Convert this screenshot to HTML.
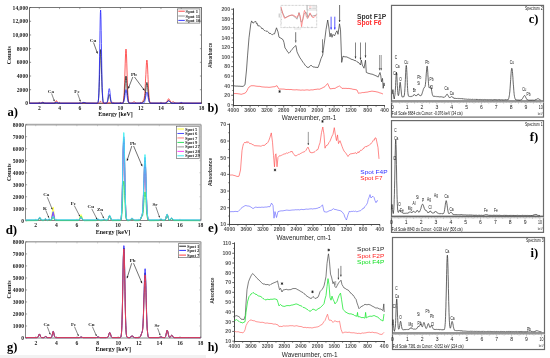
<!DOCTYPE html>
<html><head><meta charset="utf-8"><style>
html,body{margin:0;padding:0;background:#fff;}
body{width:550px;height:358px;overflow:hidden;font-family:"Liberation Sans",sans-serif;}
svg{display:block;will-change:transform;}
</style></head><body>
<svg width="550" height="358" viewBox="0 0 550 358">
<rect width="550" height="358" fill="#fff"/>
<rect x="0" y="355" width="206" height="3" fill="#f2f2f2"/>
<line x1="29.5" y1="7.5" x2="29.5" y2="103.5" stroke="#444" stroke-width="0.8" />
<line x1="29.5" y1="103.5" x2="201.5" y2="103.5" stroke="#444" stroke-width="0.8" />
<line x1="29.5" y1="7.5" x2="201.5" y2="7.5" stroke="#666" stroke-width="0.9" />
<line x1="201.5" y1="7.5" x2="201.5" y2="103.5" stroke="#666" stroke-width="0.9" />
<line x1="29.5" y1="103.4" x2="31.1" y2="103.4" stroke="#444" stroke-width="0.6" />
<line x1="201.5" y1="103.4" x2="199.9" y2="103.4" stroke="#666" stroke-width="0.6" />
<text x="28" y="105.3" font-family="&quot;Liberation Serif&quot;, serif" font-size="5.6" font-weight="bold" text-anchor="end" fill="#222" >0</text>
<line x1="29.5" y1="89.71" x2="31.1" y2="89.71" stroke="#444" stroke-width="0.6" />
<line x1="201.5" y1="89.71" x2="199.9" y2="89.71" stroke="#666" stroke-width="0.6" />
<text x="28" y="91.61" font-family="&quot;Liberation Serif&quot;, serif" font-size="5.6" font-weight="bold" text-anchor="end" fill="#222" >2000</text>
<line x1="29.5" y1="76.03" x2="31.1" y2="76.03" stroke="#444" stroke-width="0.6" />
<line x1="201.5" y1="76.03" x2="199.9" y2="76.03" stroke="#666" stroke-width="0.6" />
<text x="28" y="77.93" font-family="&quot;Liberation Serif&quot;, serif" font-size="5.6" font-weight="bold" text-anchor="end" fill="#222" >4000</text>
<line x1="29.5" y1="62.34" x2="31.1" y2="62.34" stroke="#444" stroke-width="0.6" />
<line x1="201.5" y1="62.34" x2="199.9" y2="62.34" stroke="#666" stroke-width="0.6" />
<text x="28" y="64.24" font-family="&quot;Liberation Serif&quot;, serif" font-size="5.6" font-weight="bold" text-anchor="end" fill="#222" >6000</text>
<line x1="29.5" y1="48.66" x2="31.1" y2="48.66" stroke="#444" stroke-width="0.6" />
<line x1="201.5" y1="48.66" x2="199.9" y2="48.66" stroke="#666" stroke-width="0.6" />
<text x="28" y="50.56" font-family="&quot;Liberation Serif&quot;, serif" font-size="5.6" font-weight="bold" text-anchor="end" fill="#222" >8000</text>
<line x1="29.5" y1="34.97" x2="31.1" y2="34.97" stroke="#444" stroke-width="0.6" />
<line x1="201.5" y1="34.97" x2="199.9" y2="34.97" stroke="#666" stroke-width="0.6" />
<text x="28" y="36.87" font-family="&quot;Liberation Serif&quot;, serif" font-size="5.6" font-weight="bold" text-anchor="end" fill="#222" >10,000</text>
<line x1="29.5" y1="21.29" x2="31.1" y2="21.29" stroke="#444" stroke-width="0.6" />
<line x1="201.5" y1="21.29" x2="199.9" y2="21.29" stroke="#666" stroke-width="0.6" />
<text x="28" y="23.19" font-family="&quot;Liberation Serif&quot;, serif" font-size="5.6" font-weight="bold" text-anchor="end" fill="#222" >12,000</text>
<line x1="29.5" y1="7.6" x2="31.1" y2="7.6" stroke="#444" stroke-width="0.6" />
<line x1="201.5" y1="7.6" x2="199.9" y2="7.6" stroke="#666" stroke-width="0.6" />
<text x="28" y="9.5" font-family="&quot;Liberation Serif&quot;, serif" font-size="5.6" font-weight="bold" text-anchor="end" fill="#222" >14,000</text>
<line x1="39.28" y1="103.5" x2="39.28" y2="101.9" stroke="#444" stroke-width="0.6" />
<line x1="39.28" y1="7.5" x2="39.28" y2="9.1" stroke="#666" stroke-width="0.6" />
<text x="39.28" y="110.3" font-family="&quot;Liberation Serif&quot;, serif" font-size="5.6" font-weight="bold" text-anchor="middle" fill="#222" >2</text>
<line x1="59.56" y1="103.5" x2="59.56" y2="101.9" stroke="#444" stroke-width="0.6" />
<line x1="59.56" y1="7.5" x2="59.56" y2="9.1" stroke="#666" stroke-width="0.6" />
<text x="59.56" y="110.3" font-family="&quot;Liberation Serif&quot;, serif" font-size="5.6" font-weight="bold" text-anchor="middle" fill="#222" >4</text>
<line x1="79.84" y1="103.5" x2="79.84" y2="101.9" stroke="#444" stroke-width="0.6" />
<line x1="79.84" y1="7.5" x2="79.84" y2="9.1" stroke="#666" stroke-width="0.6" />
<text x="79.84" y="110.3" font-family="&quot;Liberation Serif&quot;, serif" font-size="5.6" font-weight="bold" text-anchor="middle" fill="#222" >6</text>
<line x1="100.12" y1="103.5" x2="100.12" y2="101.9" stroke="#444" stroke-width="0.6" />
<line x1="100.12" y1="7.5" x2="100.12" y2="9.1" stroke="#666" stroke-width="0.6" />
<text x="100.12" y="110.3" font-family="&quot;Liberation Serif&quot;, serif" font-size="5.6" font-weight="bold" text-anchor="middle" fill="#222" >8</text>
<line x1="120.4" y1="103.5" x2="120.4" y2="101.9" stroke="#444" stroke-width="0.6" />
<line x1="120.4" y1="7.5" x2="120.4" y2="9.1" stroke="#666" stroke-width="0.6" />
<text x="120.4" y="110.3" font-family="&quot;Liberation Serif&quot;, serif" font-size="5.6" font-weight="bold" text-anchor="middle" fill="#222" >10</text>
<line x1="140.68" y1="103.5" x2="140.68" y2="101.9" stroke="#444" stroke-width="0.6" />
<line x1="140.68" y1="7.5" x2="140.68" y2="9.1" stroke="#666" stroke-width="0.6" />
<text x="140.68" y="110.3" font-family="&quot;Liberation Serif&quot;, serif" font-size="5.6" font-weight="bold" text-anchor="middle" fill="#222" >12</text>
<line x1="160.96" y1="103.5" x2="160.96" y2="101.9" stroke="#444" stroke-width="0.6" />
<line x1="160.96" y1="7.5" x2="160.96" y2="9.1" stroke="#666" stroke-width="0.6" />
<text x="160.96" y="110.3" font-family="&quot;Liberation Serif&quot;, serif" font-size="5.6" font-weight="bold" text-anchor="middle" fill="#222" >14</text>
<line x1="181.24" y1="103.5" x2="181.24" y2="101.9" stroke="#444" stroke-width="0.6" />
<line x1="181.24" y1="7.5" x2="181.24" y2="9.1" stroke="#666" stroke-width="0.6" />
<text x="181.24" y="110.3" font-family="&quot;Liberation Serif&quot;, serif" font-size="5.6" font-weight="bold" text-anchor="middle" fill="#222" >16</text>
<line x1="201.52" y1="103.5" x2="201.52" y2="101.9" stroke="#444" stroke-width="0.6" />
<line x1="201.52" y1="7.5" x2="201.52" y2="9.1" stroke="#666" stroke-width="0.6" />
<text x="201.52" y="110.3" font-family="&quot;Liberation Serif&quot;, serif" font-size="5.6" font-weight="bold" text-anchor="middle" fill="#222" >18</text>
<path d="M29.6,103.1 40.4,103.1 41.2,102.9 42.4,102.2 43,102.2 44.5,103 45.7,103.1 53.8,103.1 54.4,102.9 54.8,102.6 55.4,101.8 56,101 56.2,100.8 56.4,100.7 56.6,100.8 57,101.2 57.8,102.4 58.2,102.8 58.9,103.1 62.7,103.1 81.8,103.1 83.8,102.7 85,102.9 86.6,103.1 98.2,103.1 98.8,102.9 99.4,102.4 100.2,101.6 100.6,101.4 101,101.6 102.2,102.8 102.9,103 105.1,103.1 107.5,103 109.1,102.6 110.6,102.7 112,102.3 112.6,102.4 114,103 115.6,103.1 122.1,103.1 122.5,103 122.7,102.8 122.9,102.5 123.1,102.1 123.3,101.3 123.5,100.1 123.7,98.3 123.9,95.8 124.2,92.4 124.4,88.1 124.6,82.8 124.8,76.8 125.2,63.9 125.4,58 125.6,53.2 125.8,50.1 126,49.1 126.2,50.1 126.4,53.2 126.6,58 126.8,63.9 127.2,76.8 127.4,82.8 127.6,88.1 127.8,92.4 128,95.8 128.2,98.3 128.4,100.1 128.6,101.3 128.8,102.1 129,102.5 129.2,102.8 129.6,103 131,103.1 132.1,102.9 132.9,102.5 133.7,101.9 134.1,101.8 134.7,102 135.9,102.9 136.7,103.1 140.8,103.1 141.4,102.9 142,102.5 142.6,101.6 143.8,99.4 144,98.8 144.2,98.1 144.4,97 144.6,95.5 144.8,93.4 145,90.6 145.2,87.3 145.4,83.3 145.6,78.9 145.9,74.3 146.1,69.8 146.3,65.9 146.5,62.7 146.7,60.7 146.9,60 147.1,60.7 147.3,62.8 147.5,66 147.7,70 147.9,74.6 148.1,79.3 148.3,83.9 148.5,88.2 148.7,91.8 148.9,94.9 149.1,97.3 149.3,99.1 149.5,100.5 149.7,101.4 149.9,102.1 150.1,102.5 150.3,102.8 150.7,103 152.1,103.1 164.9,103.1 165.7,102.9 166.3,102.4 166.7,101.9 167.3,100.7 168,99.5 168.4,98.9 168.6,98.8 168.8,98.8 169,98.9 169.4,99.5 170.4,101.5 170.8,102.1 171.2,102.4 171.6,102.4 172.4,102 173,101.8 173.4,101.8 174.2,102.4 175.1,102.9 176.1,103.1 201.2,103.1" fill="none" stroke="#ff3030" stroke-width="0.8" stroke-linejoin="round" />
<path d="M29.6,103.2 40.6,103.1 41.6,102.9 42.6,102.5 43.2,102.6 44.5,103.1 46.1,103.2 54.2,103.1 55,102.9 56,102.3 56.6,102.2 57.4,102.6 58.2,103.1 59.5,103.2 81.6,103.2 83,102.8 83.8,102.7 84.6,102.8 86,103.1 95.2,103.2 97.2,103.2 97.6,103 97.8,102.8 98,102.4 98.2,101.7 98.4,100.5 98.6,98.7 98.8,95.9 99,92.2 99.2,87.2 99.4,81.2 99.6,74.3 99.8,67.1 100,60.3 100.2,54.7 100.4,50.9 100.6,49.6 100.8,50.9 101,54.7 101.2,60.3 101.4,67.1 101.6,74.3 101.8,81.2 102,87.2 102.2,92.2 102.5,95.9 102.7,98.7 102.9,100.5 103.1,101.7 103.3,102.4 103.5,102.8 103.7,103 104.3,103.2 106.3,103.1 106.7,103 107.1,102.6 107.3,102.3 107.5,101.7 107.7,101 107.9,100.1 108.3,97.9 108.5,96.8 108.7,95.7 108.9,95 109.1,94.6 109.3,94.6 109.6,95 109.8,95.7 110,96.8 110.4,99.1 110.6,100.1 110.8,101 111,101.7 111.2,102.3 111.4,102.6 111.8,103 112.6,103.2 122.3,103.2 122.7,103 123.1,102.7 123.3,102.3 123.5,101.7 123.7,100.8 123.9,99.5 124.2,97.8 124.4,95.6 124.6,93 124.8,89.9 125.2,83.4 125.4,80.4 125.6,78.1 125.8,76.5 126,76 126.2,76.5 126.4,78.1 126.6,80.4 126.8,83.4 127.2,89.9 127.4,93 127.6,95.6 127.8,97.8 128,99.5 128.2,100.8 128.4,101.7 128.6,102.3 128.8,102.7 129.2,103 130,103.2 141,103.2 141.8,103 142.6,102.4 143.8,101.3 144,101.1 144.2,100.7 144.4,100.2 144.6,99.5 144.8,98.5 145,97.2 145.2,95.6 145.4,93.6 146.1,87.2 146.3,85.3 146.5,83.8 146.7,82.8 146.9,82.4 147.1,82.8 147.3,83.8 147.5,85.3 147.7,87.3 148.3,94 148.5,96 148.7,97.8 148.9,99.2 149.1,100.4 149.3,101.3 149.5,101.9 149.7,102.4 149.9,102.7 150.3,103 151.1,103.2 165.1,103.2 165.9,103 166.5,102.6 167.1,102 168,101 168.4,100.7 168.8,100.6 169.2,100.8 170,101.7 170.6,102.5 171.2,102.9 172,103.1 182.2,103.2 201.2,103.2" fill="none" stroke="#222" stroke-width="0.8" stroke-linejoin="round" />
<path d="M29.6,103.2 40.6,103.2 41.8,102.9 42.6,102.7 43.4,102.8 44.7,103.1 53.4,103.2 54.8,103.1 56.2,102.5 56.8,102.6 58.2,103.1 60.5,103.2 81.4,103.2 82.4,102.9 83.6,102.4 84.2,102.4 85.8,103.1 87.4,103.2 97.2,103.2 97.6,103 97.8,102.8 98,102.3 98.2,101.5 98.4,99.9 98.6,97.4 98.8,93.3 99,87.4 99.2,79.2 99.4,68.8 99.6,56.6 99.8,43.4 100,30.7 100.2,19.9 100.4,12.7 100.6,10.1 100.8,12.7 101,19.9 101.2,30.7 101.4,43.4 101.6,56.6 101.8,68.8 102,79.2 102.2,87.4 102.5,93.3 102.7,97.4 102.9,99.9 103.1,101.5 103.3,102.3 103.5,102.8 103.7,103 104.3,103.2 106.1,103.2 106.5,103 106.7,102.9 106.9,102.6 107.1,102.2 107.3,101.6 107.5,100.7 107.7,99.6 107.9,98.1 108.1,96.3 108.5,92.4 108.7,90.7 108.9,89.4 109.1,88.7 109.3,88.7 109.6,89.4 109.8,90.7 110,92.4 110.4,96.3 110.6,98.1 110.8,99.6 111,100.7 111.2,101.6 111.4,102.2 111.6,102.6 111.8,102.9 112.2,103.1 114.2,103.2 122.5,103.2 123.1,102.9 123.3,102.7 123.5,102.4 123.7,102 123.9,101.4 124.2,100.5 124.4,99.4 124.6,98.1 124.8,96.6 125.2,93.4 125.4,91.9 125.6,90.7 125.8,89.9 126,89.6 126.2,89.9 126.4,90.7 126.6,91.9 126.8,93.4 127.2,96.6 127.4,98.1 127.6,99.4 127.8,100.5 128,101.4 128.2,102 128.4,102.4 128.6,102.7 129,103 129.8,103.2 143.2,103.1 143.8,102.9 144.2,102.5 144.4,102.2 144.6,101.7 144.8,101.1 145,100.3 145.2,99.3 145.6,97.1 146.1,94.7 146.3,93.6 146.5,92.8 146.7,92.3 146.9,92.1 147.1,92.3 147.3,92.8 147.5,93.6 147.7,94.7 148.3,98.3 148.5,99.3 148.7,100.3 148.9,101.1 149.1,101.7 149.3,102.2 149.5,102.5 149.9,102.9 150.5,103.1 164.9,103.2 165.9,103 166.5,102.7 167.3,101.9 168.2,101.1 168.6,100.9 169,101 169.6,101.5 170.6,102.5 171.2,102.9 172.2,103.2 178.9,103.2 180.3,102.8 181.1,102.7 181.9,102.8 183.4,103.1 192.5,103.2 201.2,103.2" fill="none" stroke="#2525ff" stroke-width="0.8" stroke-linejoin="round" />
<text x="50.9" y="92.6" font-family="&quot;Liberation Serif&quot;, serif" font-size="5" font-weight="bold" text-anchor="middle" fill="#222" >Ca</text>
<line x1="51.6" y1="93.5" x2="54.4" y2="101.2" stroke="#111" stroke-width="0.5" />
<path d="M54.4,101.2 L53.2,99.94 L54.51,99.46 Z" fill="#111"/>
<text x="77" y="92.6" font-family="&quot;Liberation Serif&quot;, serif" font-size="5" font-weight="bold" text-anchor="middle" fill="#222" >Fe</text>
<line x1="77.6" y1="93.5" x2="80.4" y2="101.4" stroke="#111" stroke-width="0.5" />
<path d="M80.4,101.4 L79.21,100.13 L80.53,99.66 Z" fill="#111"/>
<text x="93" y="41.5" font-family="&quot;Liberation Serif&quot;, serif" font-size="5" font-weight="bold" text-anchor="middle" fill="#222" >Cu</text>
<line x1="93.5" y1="42.5" x2="97.5" y2="53.5" stroke="#111" stroke-width="0.6" />
<path d="M97.5,53.5 L95.97,51.93 L97.66,51.31 Z" fill="#111"/>
<text x="133.8" y="75.8" font-family="&quot;Liberation Serif&quot;, serif" font-size="5" font-weight="bold" text-anchor="middle" fill="#222" >Pb</text>
<line x1="132.8" y1="77" x2="128.3" y2="88.5" stroke="#111" stroke-width="0.6" />
<path d="M128.3,88.5 L128.19,86.31 L129.87,86.97 Z" fill="#111"/>
<line x1="134.5" y1="77" x2="144.5" y2="90.5" stroke="#111" stroke-width="0.6" />
<path d="M144.5,90.5 L142.59,89.43 L144.03,88.36 Z" fill="#111"/>
<rect x="177.3" y="8.9" width="22.6" height="14.2" fill="#fff" stroke="#555" stroke-width="0.6" />
<line x1="178.3" y1="11.2" x2="184.8" y2="11.2" stroke="#ff3030" stroke-width="0.9" />
<text x="185.6" y="12.8" font-family="&quot;Liberation Serif&quot;, serif" font-size="4.6" font-weight="bold" text-anchor="start" fill="#222" >Spot 1</text>
<line x1="178.3" y1="16" x2="184.8" y2="16" stroke="#888" stroke-width="0.9" />
<text x="185.6" y="17.6" font-family="&quot;Liberation Serif&quot;, serif" font-size="4.6" font-weight="bold" text-anchor="start" fill="#222" >Spot 11</text>
<line x1="178.3" y1="20.4" x2="184.8" y2="20.4" stroke="#2525ff" stroke-width="0.9" />
<text x="185.6" y="22" font-family="&quot;Liberation Serif&quot;, serif" font-size="4.6" font-weight="bold" text-anchor="start" fill="#222" >Spot 10</text>
<text x="11.2" y="55.2" font-family="&quot;Liberation Serif&quot;, serif" font-size="6.4" font-weight="bold" text-anchor="middle" fill="#222" textLength="17.9" lengthAdjust="spacingAndGlyphs" transform="rotate(-90 11.2 55.2)">Counts</text>
<text x="115.5" y="116.4" font-family="&quot;Liberation Serif&quot;, serif" font-size="7" font-weight="bold" text-anchor="middle" fill="#111" textLength="34.5" lengthAdjust="spacingAndGlyphs" >Energy [keV]</text>
<text x="7.45" y="115.6" font-family="&quot;Liberation Serif&quot;, serif" font-size="13.3" font-weight="bold" text-anchor="start" fill="#000" textLength="10.5" lengthAdjust="spacingAndGlyphs" >a)</text>
<line x1="25.5" y1="124.6" x2="25.5" y2="220.5" stroke="#666" stroke-width="0.8" />
<line x1="25.5" y1="220.5" x2="201" y2="220.5" stroke="#666" stroke-width="0.8" />
<line x1="25.5" y1="124.6" x2="201" y2="124.6" stroke="#aaa" stroke-width="1.6" />
<line x1="201" y1="124.6" x2="201" y2="220.5" stroke="#aaa" stroke-width="1.6" />
<line x1="25.5" y1="220.8" x2="27.1" y2="220.8" stroke="#666" stroke-width="0.6" />
<line x1="201" y1="220.8" x2="199.4" y2="220.8" stroke="#aaa" stroke-width="0.6" />
<text x="24" y="222.7" font-family="&quot;Liberation Serif&quot;, serif" font-size="5.6" font-weight="bold" text-anchor="end" fill="#222" >0</text>
<line x1="25.5" y1="208.79" x2="27.1" y2="208.79" stroke="#666" stroke-width="0.6" />
<line x1="201" y1="208.79" x2="199.4" y2="208.79" stroke="#aaa" stroke-width="0.6" />
<text x="24" y="210.69" font-family="&quot;Liberation Serif&quot;, serif" font-size="5.6" font-weight="bold" text-anchor="end" fill="#222" >1000</text>
<line x1="25.5" y1="196.78" x2="27.1" y2="196.78" stroke="#666" stroke-width="0.6" />
<line x1="201" y1="196.78" x2="199.4" y2="196.78" stroke="#aaa" stroke-width="0.6" />
<text x="24" y="198.68" font-family="&quot;Liberation Serif&quot;, serif" font-size="5.6" font-weight="bold" text-anchor="end" fill="#222" >2000</text>
<line x1="25.5" y1="184.76" x2="27.1" y2="184.76" stroke="#666" stroke-width="0.6" />
<line x1="201" y1="184.76" x2="199.4" y2="184.76" stroke="#aaa" stroke-width="0.6" />
<text x="24" y="186.66" font-family="&quot;Liberation Serif&quot;, serif" font-size="5.6" font-weight="bold" text-anchor="end" fill="#222" >3000</text>
<line x1="25.5" y1="172.75" x2="27.1" y2="172.75" stroke="#666" stroke-width="0.6" />
<line x1="201" y1="172.75" x2="199.4" y2="172.75" stroke="#aaa" stroke-width="0.6" />
<text x="24" y="174.65" font-family="&quot;Liberation Serif&quot;, serif" font-size="5.6" font-weight="bold" text-anchor="end" fill="#222" >4000</text>
<line x1="25.5" y1="160.74" x2="27.1" y2="160.74" stroke="#666" stroke-width="0.6" />
<line x1="201" y1="160.74" x2="199.4" y2="160.74" stroke="#aaa" stroke-width="0.6" />
<text x="24" y="162.64" font-family="&quot;Liberation Serif&quot;, serif" font-size="5.6" font-weight="bold" text-anchor="end" fill="#222" >5000</text>
<line x1="25.5" y1="148.73" x2="27.1" y2="148.73" stroke="#666" stroke-width="0.6" />
<line x1="201" y1="148.73" x2="199.4" y2="148.73" stroke="#aaa" stroke-width="0.6" />
<text x="24" y="150.63" font-family="&quot;Liberation Serif&quot;, serif" font-size="5.6" font-weight="bold" text-anchor="end" fill="#222" >6000</text>
<line x1="25.5" y1="136.71" x2="27.1" y2="136.71" stroke="#666" stroke-width="0.6" />
<line x1="201" y1="136.71" x2="199.4" y2="136.71" stroke="#aaa" stroke-width="0.6" />
<text x="24" y="138.61" font-family="&quot;Liberation Serif&quot;, serif" font-size="5.6" font-weight="bold" text-anchor="end" fill="#222" >7000</text>
<line x1="25.5" y1="124.7" x2="27.1" y2="124.7" stroke="#666" stroke-width="0.6" />
<line x1="201" y1="124.7" x2="199.4" y2="124.7" stroke="#aaa" stroke-width="0.6" />
<text x="24" y="126.6" font-family="&quot;Liberation Serif&quot;, serif" font-size="5.6" font-weight="bold" text-anchor="end" fill="#222" >8000</text>
<line x1="35.7" y1="220.5" x2="35.7" y2="218.9" stroke="#666" stroke-width="0.6" />
<line x1="35.7" y1="124.6" x2="35.7" y2="126.2" stroke="#aaa" stroke-width="0.6" />
<text x="35.7" y="227.3" font-family="&quot;Liberation Serif&quot;, serif" font-size="5.6" font-weight="bold" text-anchor="middle" fill="#222" >2</text>
<line x1="56.3" y1="220.5" x2="56.3" y2="218.9" stroke="#666" stroke-width="0.6" />
<line x1="56.3" y1="124.6" x2="56.3" y2="126.2" stroke="#aaa" stroke-width="0.6" />
<text x="56.3" y="227.3" font-family="&quot;Liberation Serif&quot;, serif" font-size="5.6" font-weight="bold" text-anchor="middle" fill="#222" >4</text>
<line x1="76.9" y1="220.5" x2="76.9" y2="218.9" stroke="#666" stroke-width="0.6" />
<line x1="76.9" y1="124.6" x2="76.9" y2="126.2" stroke="#aaa" stroke-width="0.6" />
<text x="76.9" y="227.3" font-family="&quot;Liberation Serif&quot;, serif" font-size="5.6" font-weight="bold" text-anchor="middle" fill="#222" >6</text>
<line x1="97.5" y1="220.5" x2="97.5" y2="218.9" stroke="#666" stroke-width="0.6" />
<line x1="97.5" y1="124.6" x2="97.5" y2="126.2" stroke="#aaa" stroke-width="0.6" />
<text x="97.5" y="227.3" font-family="&quot;Liberation Serif&quot;, serif" font-size="5.6" font-weight="bold" text-anchor="middle" fill="#222" >8</text>
<line x1="118.1" y1="220.5" x2="118.1" y2="218.9" stroke="#666" stroke-width="0.6" />
<line x1="118.1" y1="124.6" x2="118.1" y2="126.2" stroke="#aaa" stroke-width="0.6" />
<text x="118.1" y="227.3" font-family="&quot;Liberation Serif&quot;, serif" font-size="5.6" font-weight="bold" text-anchor="middle" fill="#222" >10</text>
<line x1="138.7" y1="220.5" x2="138.7" y2="218.9" stroke="#666" stroke-width="0.6" />
<line x1="138.7" y1="124.6" x2="138.7" y2="126.2" stroke="#aaa" stroke-width="0.6" />
<text x="138.7" y="227.3" font-family="&quot;Liberation Serif&quot;, serif" font-size="5.6" font-weight="bold" text-anchor="middle" fill="#222" >12</text>
<line x1="159.3" y1="220.5" x2="159.3" y2="218.9" stroke="#666" stroke-width="0.6" />
<line x1="159.3" y1="124.6" x2="159.3" y2="126.2" stroke="#aaa" stroke-width="0.6" />
<text x="159.3" y="227.3" font-family="&quot;Liberation Serif&quot;, serif" font-size="5.6" font-weight="bold" text-anchor="middle" fill="#222" >14</text>
<line x1="179.9" y1="220.5" x2="179.9" y2="218.9" stroke="#666" stroke-width="0.6" />
<line x1="179.9" y1="124.6" x2="179.9" y2="126.2" stroke="#aaa" stroke-width="0.6" />
<text x="179.9" y="227.3" font-family="&quot;Liberation Serif&quot;, serif" font-size="5.6" font-weight="bold" text-anchor="middle" fill="#222" >16</text>
<line x1="200.5" y1="220.5" x2="200.5" y2="218.9" stroke="#666" stroke-width="0.6" />
<line x1="200.5" y1="124.6" x2="200.5" y2="126.2" stroke="#aaa" stroke-width="0.6" />
<text x="200.5" y="227.3" font-family="&quot;Liberation Serif&quot;, serif" font-size="5.6" font-weight="bold" text-anchor="middle" fill="#222" >18</text>
<path d="M25.6,220.3 37.3,220.3 38,220.1 38.4,219.7 38.8,219.1 39.4,218 39.6,217.8 39.8,217.7 40,217.8 40.2,218 41.1,219.5 41.5,220 42.1,220.3 43.5,220.3 44.1,220.1 45.2,219.2 45.6,219.1 46,219.4 46.8,220.1 47.4,220.2 48.1,220 48.9,219.4 49.3,219.4 49.9,219.7 50.3,220 50.7,220 50.9,219.8 51.2,219.5 51.4,218.9 51.6,218 51.8,216.8 52,215.2 52.2,213.3 52.4,211.3 52.6,209.5 52.8,208 53,207.2 53.2,207.2 53.4,208 53.6,209.5 53.8,211.3 54,213.3 54.2,215.2 54.4,216.8 54.7,218 54.9,218.9 55.1,219.5 55.3,219.9 55.7,220.2 56.9,220.3 78.1,220.3 78.8,220 79.2,219.5 79.4,219.1 79.6,218.6 80,217.2 80.4,215.7 80.6,215.1 80.8,214.7 81,214.6 81.2,214.7 81.4,215.1 81.6,215.7 82.3,217.9 82.5,218.6 82.7,219.1 82.9,219.5 83.3,220 83.9,220.3 96.1,220.3 96.9,220 97.7,219.5 98.1,219.5 98.7,219.7 99.6,220.2 100.8,220.3 102.4,220.2 103.9,219.6 104.5,219.7 105.7,220.2 106.8,220.3 107.4,220.2 107.8,219.8 108,219.5 108.2,219.1 108.6,218 109,216.8 109.2,216.2 109.4,215.9 109.7,215.8 109.9,215.9 110.1,216.2 110.5,217.4 110.9,218.6 111.1,219.1 111.3,219.5 111.7,220 112.3,220.3 120,220.3 120.4,220.1 120.6,219.9 120.8,219.6 121,218.9 121.2,217.8 121.4,216 121.6,213.3 121.8,209.4 122,204.1 122.2,197.2 122.4,188.8 122.6,179.2 122.8,168.9 123,159 123.2,150.2 123.5,143.8 123.7,140.3 123.9,140.3 124.1,143.8 124.3,150.2 124.5,159 124.7,168.9 124.9,179.2 125.1,188.8 125.3,197.2 125.5,204.1 125.7,209.4 125.9,213.3 126.1,216 126.3,217.8 126.5,218.9 126.8,219.6 127,219.9 127.4,220.2 128.8,220.3 129.8,220.2 130.5,219.9 131.7,218.6 132.1,218.5 132.5,218.8 133.5,219.9 134.2,220.2 135.6,220.3 139.1,220.3 139.7,220 140.1,219.6 140.6,218.8 141.6,216.4 142,215.5 142.2,214.9 142.4,213.9 142.6,212.5 142.8,210.3 143,207.3 143.2,203.2 143.4,198.1 143.6,192.2 143.8,185.7 144.1,179 144.3,172.6 144.5,167.2 144.7,163.2 144.9,161.1 145.1,161.1 145.3,163.2 145.5,167.2 145.7,172.7 145.9,179.1 146.1,186 146.3,192.7 146.5,198.9 146.7,204.3 146.9,208.8 147.1,212.3 147.4,214.9 147.6,216.8 147.8,218.1 148,219 148.2,219.6 148.4,219.9 148.8,220.2 149.8,220.3 158.9,220.3 159.7,220 160.7,219.4 161.2,219.4 162.6,220.2 163.8,220.3 164.7,220.2 165.1,220 165.3,219.7 165.5,219.3 165.7,218.8 165.9,218.2 166.5,215.8 166.7,215.2 166.9,214.7 167.1,214.6 167.3,214.7 167.5,215.2 167.7,215.8 168.4,218.2 168.6,218.8 168.8,219.3 169,219.7 169.2,219.9 169.6,220.1 170,220 170.4,219.7 171.2,218.5 171.5,218.3 171.7,218.3 171.9,218.3 172.3,218.8 172.9,219.7 173.3,220 173.9,220.3 200.3,220.3" fill="none" stroke="#ffff33" stroke-width="0.85" stroke-linejoin="round" />
<path d="M25.6,220.3 37.3,220.3 38,220.1 38.4,219.7 38.8,219.1 39.4,218 39.6,217.8 39.8,217.7 40,217.8 40.2,218 41.1,219.5 41.5,220 42.1,220.3 43.5,220.3 44.1,220.1 45.2,219.2 45.6,219.1 46,219.4 46.8,220.1 47.4,220.2 48.1,220 48.9,219.4 49.3,219.4 49.9,219.7 50.5,220.1 50.9,220.1 51.2,219.9 51.4,219.7 51.6,219.2 51.8,218.6 52,217.9 52.6,215.2 52.8,214.5 53,214.1 53.2,214.1 53.4,214.5 53.6,215.2 54.2,217.9 54.4,218.7 54.7,219.2 54.9,219.7 55.1,219.9 55.5,220.2 56.7,220.3 78.3,220.3 79,220.1 79.4,219.8 80,219 80.6,218.1 80.8,218 81,217.9 81.2,218 81.6,218.4 82.5,219.6 82.9,220 83.5,220.3 87.4,220.3 96.1,220.3 96.9,220 97.7,219.5 98.1,219.5 98.7,219.7 99.6,220.2 100.8,220.3 102.4,220.2 103.9,219.6 104.5,219.7 105.7,220.2 106.8,220.3 107.4,220.2 107.8,219.8 108,219.5 108.2,219.1 108.6,218 109,216.8 109.2,216.2 109.4,215.9 109.7,215.8 109.9,215.9 110.1,216.2 110.5,217.4 110.9,218.6 111.1,219.1 111.3,219.5 111.7,220 112.3,220.3 120,220.3 120.4,220.1 120.6,219.9 120.8,219.6 121,218.9 121.2,217.9 121.4,216.2 121.6,213.5 121.8,209.8 122,204.6 122.2,197.9 122.4,189.7 122.6,180.4 122.8,170.5 123,160.8 123.2,152.3 123.5,146 123.7,142.7 123.9,142.7 124.1,146 124.3,152.3 124.5,160.8 124.7,170.5 124.9,180.4 125.1,189.7 125.3,197.9 125.5,204.6 125.7,209.8 125.9,213.5 126.1,216.2 126.3,217.9 126.5,218.9 126.8,219.6 127,219.9 127.4,220.2 128.8,220.3 129.8,220.2 130.5,219.9 131.7,218.6 132.1,218.5 132.5,218.8 133.5,219.9 134.2,220.2 135.6,220.3 139.1,220.3 139.7,220 140.1,219.6 140.6,218.8 141.6,216.4 142,215.5 142.2,214.9 142.4,214 142.6,212.5 142.8,210.4 143,207.4 143.2,203.4 143.4,198.4 143.6,192.5 143.8,186 144.1,179.4 144.3,173.1 144.5,167.7 144.7,163.8 144.9,161.7 145.1,161.7 145.3,163.8 145.5,167.8 145.7,173.2 145.9,179.6 146.1,186.3 146.3,193 146.5,199.1 146.7,204.4 146.9,208.9 147.1,212.4 147.4,215 147.6,216.9 147.8,218.2 148,219 148.2,219.6 148.4,219.9 148.8,220.2 149.8,220.3 158.9,220.3 159.7,220 160.7,219.4 161.2,219.4 162.6,220.2 163.8,220.3 164.7,220.2 165.1,220 165.3,219.7 165.5,219.3 165.7,218.8 165.9,218.2 166.5,215.8 166.7,215.2 166.9,214.7 167.1,214.6 167.3,214.7 167.5,215.2 167.7,215.8 168.4,218.2 168.6,218.8 168.8,219.3 169,219.7 169.2,219.9 169.6,220.1 170,220 170.4,219.7 171.2,218.5 171.5,218.3 171.7,218.3 171.9,218.3 172.3,218.8 172.9,219.7 173.3,220 173.9,220.3 200.3,220.3" fill="none" stroke="#ff8080" stroke-width="0.85" stroke-linejoin="round" />
<path d="M25.6,220.3 37.3,220.3 38,220.1 38.4,219.7 38.8,219.1 39.4,218 39.6,217.8 39.8,217.7 40,217.8 40.2,218 41.1,219.5 41.5,220 42.1,220.3 43.5,220.3 44.1,220.1 45.2,219.2 45.6,219.1 46,219.4 46.8,220.1 47.4,220.2 48.1,220 48.9,219.4 49.3,219.4 49.9,219.7 50.5,220.1 50.9,220.1 51.4,219.8 51.6,219.5 51.8,219 52,218.5 52.6,216.4 52.8,215.8 53,215.6 53.2,215.6 53.4,215.8 53.6,216.4 54.2,218.5 54.4,219 54.7,219.5 54.9,219.8 55.3,220.2 56.1,220.3 78.3,220.3 79,220.1 79.4,219.8 80,219 80.6,218.1 80.8,218 81,217.9 81.2,218 81.6,218.4 82.5,219.6 82.9,220 83.5,220.3 87.4,220.3 96.1,220.3 96.9,220 97.7,219.5 98.1,219.5 98.7,219.7 99.6,220.2 100.8,220.3 102.4,220.2 103.9,219.6 104.5,219.7 105.7,220.2 106.8,220.3 107.4,220.2 107.8,219.8 108,219.5 108.2,219.1 108.6,218 109,216.8 109.2,216.2 109.4,215.9 109.7,215.8 109.9,215.9 110.1,216.2 110.5,217.4 110.9,218.6 111.1,219.1 111.3,219.5 111.7,220 112.3,220.3 120,220.3 120.4,220.1 120.6,219.9 120.8,219.5 121,218.9 121.2,217.8 121.4,216 121.6,213.2 121.8,209.3 122,203.8 122.2,196.8 122.4,188.3 122.6,178.5 122.8,168.2 123,158.1 123.2,149.2 123.5,142.6 123.7,139.1 123.9,139.1 124.1,142.6 124.3,149.2 124.5,158.1 124.7,168.2 124.9,178.5 125.1,188.3 125.3,196.8 125.5,203.8 125.7,209.3 125.9,213.2 126.1,216 126.3,217.8 126.5,218.9 126.8,219.5 127,219.9 127.4,220.2 128.8,220.3 129.8,220.2 130.5,219.9 131.7,218.6 132.1,218.5 132.5,218.8 133.5,219.9 134.2,220.2 135.6,220.3 139.1,220.3 139.7,220 140.1,219.6 140.6,218.8 141.6,216.4 142,215.5 142.2,214.8 142.4,213.9 142.6,212.4 142.8,210.2 143,207 143.2,202.9 143.4,197.7 143.6,191.6 143.8,185 144.1,178.1 144.3,171.6 144.5,166.1 144.7,162.1 144.9,159.9 145.1,159.9 145.3,162.1 145.5,166.2 145.7,171.7 145.9,178.3 146.1,185.3 146.3,192.1 146.5,198.5 146.7,204 146.9,208.5 147.1,212.1 147.4,214.8 147.6,216.8 147.8,218.1 148,219 148.2,219.5 148.4,219.9 148.8,220.2 149.8,220.3 158.9,220.3 159.7,220 160.7,219.4 161.2,219.4 162.6,220.2 163.8,220.3 164.7,220.2 165.1,220 165.3,219.7 165.5,219.3 165.7,218.8 165.9,218.2 166.5,215.8 166.7,215.2 166.9,214.7 167.1,214.6 167.3,214.7 167.5,215.2 167.7,215.8 168.4,218.2 168.6,218.8 168.8,219.3 169,219.7 169.2,219.9 169.6,220.1 170,220 170.4,219.7 171.2,218.5 171.5,218.3 171.7,218.3 171.9,218.3 172.3,218.8 172.9,219.7 173.3,220 173.9,220.3 200.3,220.3" fill="none" stroke="#999999" stroke-width="0.85" stroke-linejoin="round" />
<path d="M25.6,220.3 37.3,220.3 38,220.1 38.4,219.7 38.8,219.1 39.4,218 39.6,217.8 39.8,217.7 40,217.8 40.2,218 41.1,219.5 41.5,220 42.1,220.3 43.5,220.3 44.1,220.1 45.2,219.2 45.6,219.1 46,219.4 46.8,220.1 47.4,220.2 48.1,220 48.9,219.4 49.3,219.4 49.9,219.7 50.5,220.1 50.9,220 51.2,219.9 51.4,219.5 51.6,219 51.8,218.3 52,217.4 52.6,214.2 52.8,213.4 53,212.9 53.2,212.9 53.4,213.4 53.6,214.2 54.2,217.4 54.4,218.3 54.7,219 54.9,219.5 55.1,219.9 55.5,220.2 56.5,220.3 78.3,220.3 79,220.1 79.4,219.8 80,219 80.6,218.1 80.8,218 81,217.9 81.2,218 81.6,218.4 82.5,219.6 82.9,220 83.5,220.3 87.4,220.3 96.1,220.3 96.9,220 97.7,219.5 98.1,219.5 98.7,219.7 99.6,220.2 100.8,220.3 102.4,220.2 103.9,219.6 104.5,219.7 105.7,220.2 106.8,220.3 107.4,220.2 107.8,219.8 108,219.5 108.2,219.1 108.6,218 109,216.8 109.2,216.2 109.4,215.9 109.7,215.8 109.9,215.9 110.1,216.2 110.5,217.4 110.9,218.6 111.1,219.1 111.3,219.5 111.7,220 112.3,220.3 120,220.3 120.4,220.1 120.6,219.9 120.8,219.6 121,218.9 121.2,217.8 121.4,216.1 121.6,213.4 121.8,209.6 122,204.3 122.2,197.5 122.4,189.2 122.6,179.8 122.8,169.7 123,159.9 123.2,151.3 123.5,144.9 123.7,141.5 123.9,141.5 124.1,144.9 124.3,151.3 124.5,159.9 124.7,169.7 124.9,179.8 125.1,189.2 125.3,197.5 125.5,204.3 125.7,209.6 125.9,213.4 126.1,216.1 126.3,217.8 126.5,218.9 126.8,219.6 127,219.9 127.4,220.2 128.8,220.3 129.8,220.2 130.5,219.9 131.7,218.6 132.1,218.5 132.5,218.8 133.5,219.9 134.2,220.2 135.6,220.3 139.1,220.3 139.7,220 140.1,219.6 140.6,218.8 141.6,216.4 142,215.5 142.2,214.9 142.4,213.9 142.6,212.4 142.8,210.2 143,207.2 143.2,203 143.4,197.9 143.6,191.9 143.8,185.3 144.1,178.5 144.3,172.1 144.5,166.6 144.7,162.6 144.9,160.5 145.1,160.5 145.3,162.7 145.5,166.7 145.7,172.2 145.9,178.7 146.1,185.6 146.3,192.4 146.5,198.7 146.7,204.1 146.9,208.6 147.1,212.2 147.4,214.9 147.6,216.8 147.8,218.1 148,219 148.2,219.6 148.4,219.9 148.8,220.2 149.8,220.3 158.9,220.3 159.7,220 160.7,219.4 161.2,219.4 162.6,220.2 163.8,220.3 164.7,220.2 165.1,220 165.3,219.7 165.5,219.3 165.7,218.8 165.9,218.2 166.5,215.8 166.7,215.2 166.9,214.7 167.1,214.6 167.3,214.7 167.5,215.2 167.7,215.8 168.4,218.2 168.6,218.8 168.8,219.3 169,219.7 169.2,219.9 169.6,220.1 170,220 170.4,219.7 171.2,218.5 171.5,218.3 171.7,218.3 171.9,218.3 172.3,218.8 172.9,219.7 173.3,220 173.9,220.3 200.3,220.3" fill="none" stroke="#ff40ff" stroke-width="0.85" stroke-linejoin="round" />
<path d="M25.6,220.3 37.3,220.3 38,220.1 38.4,219.7 38.8,219.1 39.4,218 39.6,217.8 39.8,217.7 40,217.8 40.2,218 41.1,219.5 41.5,220 42.1,220.3 43.5,220.3 44.1,220.1 45.2,219.2 45.6,219.1 46,219.4 46.8,220.1 47.4,220.2 48.1,220 48.9,219.4 49.3,219.4 49.9,219.7 50.5,220.1 50.9,220 51.2,219.8 51.4,219.4 51.6,218.8 51.8,218 52,217 52.6,213.2 52.8,212.3 53,211.7 53.2,211.7 53.4,212.3 53.6,213.2 54.2,217 54.4,218 54.7,218.8 54.9,219.4 55.1,219.8 55.3,220 55.7,220.3 59.4,220.3 78.3,220.3 79,220.1 79.4,219.7 79.8,219.1 80.4,217.9 80.6,217.6 80.8,217.4 81,217.3 81.2,217.4 81.4,217.6 81.8,218.3 82.5,219.4 82.9,219.9 83.5,220.2 85.6,220.3 96.1,220.3 96.9,220 97.7,219.5 98.1,219.5 98.7,219.7 99.6,220.2 100.8,220.3 102.4,220.2 103.9,219.6 104.5,219.7 105.7,220.2 106.8,220.3 107.4,220.2 107.8,219.8 108,219.5 108.2,219.1 108.6,218 109,216.8 109.2,216.2 109.4,215.9 109.7,215.8 109.9,215.9 110.1,216.2 110.5,217.4 110.9,218.6 111.1,219.1 111.3,219.5 111.7,220 112.3,220.3 120,220.3 120.4,220.1 120.6,219.9 120.8,219.5 121,218.8 121.2,217.7 121.4,215.8 121.6,213 121.8,208.9 122,203.4 122.2,196.1 122.4,187.4 122.6,177.3 122.8,166.6 123,156.2 123.2,147.1 123.5,140.3 123.7,136.7 123.9,136.7 124.1,140.3 124.3,147.1 124.5,156.2 124.7,166.6 124.9,177.3 125.1,187.4 125.3,196.1 125.5,203.4 125.7,208.9 125.9,213 126.1,215.8 126.3,217.7 126.5,218.8 126.8,219.5 127,219.9 127.2,220.1 127.8,220.3 129.6,220.3 130.3,220 130.9,219.5 131.5,218.8 131.9,218.5 132.3,218.6 132.9,219.2 133.5,219.9 134.2,220.2 135.6,220.3 139.1,220.3 139.7,220 140.1,219.6 140.6,218.8 141.6,216.4 142,215.4 142.2,214.7 142.4,213.7 142.6,212.2 142.8,209.8 143,206.6 143.2,202.2 143.4,196.8 143.6,190.5 143.8,183.6 144.1,176.5 144.3,169.7 144.5,164 144.7,159.7 144.9,157.5 145.1,157.5 145.3,159.8 145.5,164 145.7,169.8 145.9,176.6 146.1,183.9 146.3,191 146.5,197.6 146.7,203.3 146.9,208.1 147.1,211.8 147.4,214.6 147.6,216.6 147.8,218 148,218.9 148.2,219.5 148.4,219.9 148.8,220.2 149.8,220.3 158.9,220.3 159.7,220 160.7,219.4 161.2,219.4 162.6,220.2 163.8,220.3 164.7,220.2 165.1,220 165.3,219.7 165.5,219.3 165.7,218.8 165.9,218.2 166.5,215.8 166.7,215.2 166.9,214.7 167.1,214.6 167.3,214.7 167.5,215.2 167.7,215.8 168.4,218.2 168.6,218.8 168.8,219.3 169,219.7 169.2,219.9 169.6,220.1 170,220 170.4,219.7 171.2,218.5 171.5,218.3 171.7,218.3 171.9,218.3 172.3,218.8 172.9,219.7 173.3,220 173.9,220.3 200.3,220.3" fill="none" stroke="#4848ff" stroke-width="0.85" stroke-linejoin="round" />
<path d="M25.6,220.7 37.3,220.6 38,220.4 38.4,220.1 38.8,219.4 39.4,218.3 39.6,218.1 39.8,218 40,218.1 40.2,218.3 41.1,219.8 41.5,220.3 42.1,220.6 43.5,220.6 44.1,220.4 45.2,219.6 45.6,219.5 46,219.7 46.8,220.4 47.4,220.6 48.1,220.4 48.9,219.8 49.3,219.7 49.9,220.1 50.5,220.5 50.9,220.5 51.4,220.3 51.6,220 52,219.3 52.6,217.7 52.8,217.3 53,217.1 53.2,217.1 53.4,217.3 53.6,217.7 54.2,219.3 54.7,220 55.1,220.4 55.7,220.6 78.1,220.6 78.8,220.4 79.2,220 79.6,219.3 80,218.2 80.4,217 80.6,216.5 80.8,216.2 81,216.1 81.2,216.2 81.4,216.5 81.8,217.6 82.3,218.8 82.7,219.7 83.1,220.3 83.5,220.5 84.5,220.7 96.1,220.6 96.9,220.3 97.7,219.9 98.1,219.8 98.7,220.1 99.6,220.5 100.8,220.7 102.4,220.6 103.9,220 104.5,220 105.7,220.6 106.8,220.6 107.4,220.5 107.8,220.2 108,219.9 108.2,219.5 108.6,218.4 109,217.1 109.2,216.6 109.4,216.2 109.7,216.1 109.9,216.2 110.1,216.6 110.5,217.7 110.9,219 111.1,219.5 111.3,219.9 111.7,220.4 112.3,220.6 120.2,220.6 120.6,220.5 120.8,220.3 121,220 121.2,219.4 121.4,218.5 121.6,217.2 121.8,215.3 122,212.7 122.2,209.3 122.4,205.1 122.6,200.4 122.8,195.3 123,190.4 123.2,186.1 123.5,182.9 123.7,181.2 123.9,181.2 124.1,182.9 124.3,186.1 124.5,190.4 124.7,195.3 124.9,200.4 125.1,205.1 125.3,209.3 125.5,212.7 125.7,215.3 125.9,217.2 126.1,218.5 126.3,219.4 126.5,220 126.8,220.3 127.2,220.6 128.6,220.7 129.8,220.5 130.5,220.2 131.7,219 132.1,218.9 132.5,219.1 133.5,220.2 134.2,220.5 135.6,220.7 139.1,220.6 139.7,220.4 140.1,219.9 140.6,219.2 141.4,217.3 141.8,216.7 142.2,216.3 142.4,216.1 142.6,215.6 142.8,214.8 143,213.6 143.2,211.8 143.4,209.5 143.6,206.8 143.8,203.7 144.1,200.5 144.3,197.5 144.5,194.9 144.7,193 144.9,191.9 145.1,191.9 145.3,193 145.5,194.9 145.7,197.6 145.9,200.7 146.3,207.3 146.5,210.3 146.7,212.9 146.9,215 147.1,216.8 147.4,218 147.6,219 147.8,219.6 148,220 148.2,220.3 148.6,220.5 149.8,220.7 158.9,220.6 159.7,220.3 160.7,219.7 161.2,219.7 162.6,220.5 163.8,220.6 164.7,220.5 165.1,220.3 165.3,220 165.5,219.7 165.7,219.2 165.9,218.5 166.5,216.2 166.7,215.5 166.9,215 167.1,214.9 167.3,215 167.5,215.5 167.7,216.2 168.4,218.5 168.6,219.2 168.8,219.7 169,220 169.2,220.3 169.6,220.5 170,220.4 170.4,220 171.2,218.9 171.5,218.7 171.7,218.6 171.9,218.7 172.3,219.1 172.9,220 173.3,220.4 173.9,220.6 200.3,220.7" fill="none" stroke="#33e060" stroke-width="0.85" stroke-linejoin="round" />
<path d="M25.6,219.8 37.3,219.7 38,219.6 38.4,219.2 38.8,218.6 39.4,217.4 39.6,217.2 39.8,217.1 40,217.2 40.2,217.4 41.1,218.9 41.5,219.4 42.1,219.7 43.5,219.7 44.1,219.6 45.2,218.7 45.6,218.6 46,218.8 46.8,219.6 47.4,219.7 48.1,219.5 48.9,218.9 49.3,218.8 49.9,219.2 50.5,219.6 50.9,219.6 51.4,219.4 51.6,219.1 51.8,218.8 52.2,217.7 52.6,216.6 52.8,216.2 53,216 53.2,216 53.4,216.2 53.6,216.6 54.2,218.3 54.4,218.8 54.7,219.1 55.1,219.5 55.7,219.7 78.3,219.7 79,219.6 79.6,219.1 80.6,217.8 81,217.6 81.4,217.8 82.5,219.1 83.1,219.6 83.9,219.8 96.1,219.7 96.9,219.5 97.7,219 98.1,218.9 98.7,219.2 99.6,219.6 100.8,219.8 102.4,219.7 103.9,219.1 104.5,219.1 105.7,219.7 106.8,219.8 107.4,219.6 107.8,219.3 108,219 108.2,218.6 108.6,217.5 109,216.2 109.2,215.7 109.4,215.3 109.7,215.2 109.9,215.3 110.1,215.7 110.5,216.8 110.9,218.1 111.1,218.6 111.3,219 111.7,219.5 112.3,219.7 120,219.7 120.4,219.6 120.6,219.4 120.8,218.9 121,218.2 121.2,217 121.4,215.1 121.6,212.2 121.8,207.9 122,202.1 122.2,194.6 122.4,185.4 122.6,174.9 122.8,163.8 123,152.9 123.2,143.4 123.5,136.4 123.7,132.6 123.9,132.6 124.1,136.4 124.3,143.4 124.5,152.9 124.7,163.8 124.9,174.9 125.1,185.4 125.3,194.6 125.5,202.1 125.7,207.9 125.9,212.2 126.1,215.1 126.3,217 126.5,218.2 126.8,218.9 127,219.4 127.2,219.6 127.8,219.8 129.6,219.7 130.3,219.5 130.9,218.9 131.5,218.2 131.9,218 132.3,218.1 132.9,218.7 133.5,219.3 134.2,219.7 135.6,219.8 139.1,219.7 139.7,219.5 140.1,219 140.6,218.3 141.6,215.8 142,214.8 142.2,214.1 142.4,213 142.6,211.4 142.8,209 143,205.6 143.2,201.1 143.4,195.4 143.6,188.9 143.8,181.7 144.1,174.3 144.3,167.3 144.5,161.3 144.7,156.9 144.9,154.6 145.1,154.6 145.3,156.9 145.5,161.3 145.7,167.4 145.9,174.4 146.1,182 146.3,189.4 146.5,196.2 146.7,202.1 146.9,207 147.1,210.9 147.4,213.8 147.6,215.9 147.8,217.4 148,218.3 148.2,218.9 148.4,219.3 148.8,219.6 149.8,219.8 158.9,219.7 159.7,219.5 160.7,218.8 161.2,218.8 162.6,219.6 163.8,219.8 164.7,219.7 165.1,219.4 165.3,219.2 165.5,218.8 165.7,218.3 165.9,217.7 166.5,215.3 166.7,214.6 166.9,214.2 167.1,214 167.3,214.2 167.5,214.6 167.7,215.3 168.4,217.6 168.6,218.3 168.8,218.8 169,219.2 169.2,219.4 169.6,219.6 170,219.5 170.4,219.1 171.2,218 171.5,217.8 171.7,217.7 171.9,217.8 172.3,218.2 172.9,219.1 173.3,219.5 173.9,219.7 200.3,219.8" fill="none" stroke="#40f0f0" stroke-width="0.85" stroke-linejoin="round" />
<text x="46.3" y="196.1" font-family="&quot;Liberation Serif&quot;, serif" font-size="5" font-weight="bold" text-anchor="middle" fill="#222" >Ca</text>
<line x1="47.3" y1="197.2" x2="52.3" y2="209.5" stroke="#111" stroke-width="0.5" />
<path d="M52.3,209.5 L51.05,208.28 L52.35,207.75 Z" fill="#111"/>
<text x="45" y="209.5" font-family="&quot;Liberation Serif&quot;, serif" font-size="5" font-weight="bold" text-anchor="middle" fill="#222" >K</text>
<line x1="45.8" y1="210.4" x2="48.9" y2="217.8" stroke="#111" stroke-width="0.5" />
<path d="M48.9,217.8 L47.64,216.59 L48.93,216.05 Z" fill="#111"/>
<text x="73.3" y="204.6" font-family="&quot;Liberation Serif&quot;, serif" font-size="5" font-weight="bold" text-anchor="middle" fill="#222" >Fe</text>
<line x1="74.3" y1="205.6" x2="79.9" y2="216.4" stroke="#111" stroke-width="0.5" />
<path d="M79.9,216.4 L78.54,215.3 L79.78,214.66 Z" fill="#111"/>
<text x="90.8" y="207.9" font-family="&quot;Liberation Serif&quot;, serif" font-size="5" font-weight="bold" text-anchor="middle" fill="#222" >Cu</text>
<line x1="91.8" y1="208.9" x2="97.1" y2="219.3" stroke="#111" stroke-width="0.5" />
<path d="M97.1,219.3 L95.75,218.19 L97,217.56 Z" fill="#111"/>
<text x="100" y="211.2" font-family="&quot;Liberation Serif&quot;, serif" font-size="5" font-weight="bold" text-anchor="middle" fill="#222" >Zn</text>
<line x1="100.8" y1="212.2" x2="103.7" y2="218.2" stroke="#111" stroke-width="0.5" />
<path d="M103.7,218.2 L102.37,217.06 L103.63,216.45 Z" fill="#111"/>
<text x="155" y="205.7" font-family="&quot;Liberation Serif&quot;, serif" font-size="5" font-weight="bold" text-anchor="middle" fill="#222" >Sr</text>
<line x1="155.8" y1="206.7" x2="159.6" y2="217.5" stroke="#111" stroke-width="0.5" />
<path d="M159.6,217.5 L158.41,216.22 L159.73,215.76 Z" fill="#111"/>
<text x="132.8" y="144.9" font-family="&quot;Liberation Serif&quot;, serif" font-size="5" font-weight="bold" text-anchor="middle" fill="#222" >Pb</text>
<line x1="131.8" y1="146" x2="127" y2="160.8" stroke="#111" stroke-width="0.6" />
<path d="M127,160.8 L126.76,158.62 L128.47,159.18 Z" fill="#111"/>
<line x1="133.6" y1="146" x2="142.2" y2="166.2" stroke="#111" stroke-width="0.6" />
<path d="M142.2,166.2 L140.59,164.71 L142.24,164.01 Z" fill="#111"/>
<rect x="176.5" y="126.2" width="22.7" height="32.2" fill="#fff" stroke="#555" stroke-width="0.6" />
<line x1="199.9" y1="126.8" x2="199.9" y2="158.8" stroke="#bbb" stroke-width="1.2" />
<line x1="177.4" y1="129" x2="184" y2="129" stroke="#ffff33" stroke-width="1.0" />
<text x="185" y="130.6" font-family="&quot;Liberation Serif&quot;, serif" font-size="4.6" font-weight="bold" text-anchor="start" fill="#222" >Spot 5</text>
<line x1="177.4" y1="133.47" x2="184" y2="133.47" stroke="#5050ff" stroke-width="1.0" />
<text x="185" y="135.07" font-family="&quot;Liberation Serif&quot;, serif" font-size="4.6" font-weight="bold" text-anchor="start" fill="#222" >Spot 6</text>
<line x1="177.4" y1="137.94" x2="184" y2="137.94" stroke="#ff8080" stroke-width="1.0" />
<text x="185" y="139.54" font-family="&quot;Liberation Serif&quot;, serif" font-size="4.6" font-weight="bold" text-anchor="start" fill="#222" >Spot 7</text>
<line x1="177.4" y1="142.41" x2="184" y2="142.41" stroke="#33e060" stroke-width="1.0" />
<text x="185" y="144.01" font-family="&quot;Liberation Serif&quot;, serif" font-size="4.6" font-weight="bold" text-anchor="start" fill="#222" >Spot 9</text>
<line x1="177.4" y1="146.88" x2="184" y2="146.88" stroke="#999999" stroke-width="1.0" />
<text x="185" y="148.48" font-family="&quot;Liberation Serif&quot;, serif" font-size="4.6" font-weight="bold" text-anchor="start" fill="#222" >Spot 27</text>
<line x1="177.4" y1="151.35" x2="184" y2="151.35" stroke="#ff40ff" stroke-width="1.0" />
<text x="185" y="152.95" font-family="&quot;Liberation Serif&quot;, serif" font-size="4.6" font-weight="bold" text-anchor="start" fill="#222" >Spot 28</text>
<line x1="177.4" y1="155.82" x2="184" y2="155.82" stroke="#40f0f0" stroke-width="1.0" />
<text x="185" y="157.42" font-family="&quot;Liberation Serif&quot;, serif" font-size="4.6" font-weight="bold" text-anchor="start" fill="#222" >Spot 29</text>
<text x="10.8" y="172.2" font-family="&quot;Liberation Serif&quot;, serif" font-size="6.4" font-weight="bold" text-anchor="middle" fill="#222" textLength="17.7" lengthAdjust="spacingAndGlyphs" transform="rotate(-90 10.8 172.2)">Counts</text>
<text x="113" y="234.2" font-family="&quot;Liberation Serif&quot;, serif" font-size="7" font-weight="bold" text-anchor="middle" fill="#111" textLength="34.5" lengthAdjust="spacingAndGlyphs" >Energy [keV]</text>
<text x="5.65" y="234.3" font-family="&quot;Liberation Serif&quot;, serif" font-size="13.3" font-weight="bold" text-anchor="start" fill="#000" textLength="11.5" lengthAdjust="spacingAndGlyphs" >d)</text>
<line x1="25.5" y1="241.8" x2="25.5" y2="338" stroke="#666" stroke-width="0.8" />
<line x1="25.5" y1="338" x2="200.8" y2="338" stroke="#666" stroke-width="0.8" />
<line x1="25.5" y1="241.8" x2="200.8" y2="241.8" stroke="#aaa" stroke-width="1.6" />
<line x1="200.8" y1="241.8" x2="200.8" y2="338" stroke="#aaa" stroke-width="1.6" />
<line x1="25.5" y1="338" x2="27.1" y2="338" stroke="#666" stroke-width="0.6" />
<line x1="200.8" y1="338" x2="199.2" y2="338" stroke="#aaa" stroke-width="0.6" />
<text x="24" y="339.9" font-family="&quot;Liberation Serif&quot;, serif" font-size="5.6" font-weight="bold" text-anchor="end" fill="#222" >0</text>
<line x1="25.5" y1="325.99" x2="27.1" y2="325.99" stroke="#666" stroke-width="0.6" />
<line x1="200.8" y1="325.99" x2="199.2" y2="325.99" stroke="#aaa" stroke-width="0.6" />
<text x="24" y="327.89" font-family="&quot;Liberation Serif&quot;, serif" font-size="5.6" font-weight="bold" text-anchor="end" fill="#222" >1000</text>
<line x1="25.5" y1="313.98" x2="27.1" y2="313.98" stroke="#666" stroke-width="0.6" />
<line x1="200.8" y1="313.98" x2="199.2" y2="313.98" stroke="#aaa" stroke-width="0.6" />
<text x="24" y="315.88" font-family="&quot;Liberation Serif&quot;, serif" font-size="5.6" font-weight="bold" text-anchor="end" fill="#222" >2000</text>
<line x1="25.5" y1="301.96" x2="27.1" y2="301.96" stroke="#666" stroke-width="0.6" />
<line x1="200.8" y1="301.96" x2="199.2" y2="301.96" stroke="#aaa" stroke-width="0.6" />
<text x="24" y="303.86" font-family="&quot;Liberation Serif&quot;, serif" font-size="5.6" font-weight="bold" text-anchor="end" fill="#222" >3000</text>
<line x1="25.5" y1="289.95" x2="27.1" y2="289.95" stroke="#666" stroke-width="0.6" />
<line x1="200.8" y1="289.95" x2="199.2" y2="289.95" stroke="#aaa" stroke-width="0.6" />
<text x="24" y="291.85" font-family="&quot;Liberation Serif&quot;, serif" font-size="5.6" font-weight="bold" text-anchor="end" fill="#222" >4000</text>
<line x1="25.5" y1="277.94" x2="27.1" y2="277.94" stroke="#666" stroke-width="0.6" />
<line x1="200.8" y1="277.94" x2="199.2" y2="277.94" stroke="#aaa" stroke-width="0.6" />
<text x="24" y="279.84" font-family="&quot;Liberation Serif&quot;, serif" font-size="5.6" font-weight="bold" text-anchor="end" fill="#222" >5000</text>
<line x1="25.5" y1="265.93" x2="27.1" y2="265.93" stroke="#666" stroke-width="0.6" />
<line x1="200.8" y1="265.93" x2="199.2" y2="265.93" stroke="#aaa" stroke-width="0.6" />
<text x="24" y="267.82" font-family="&quot;Liberation Serif&quot;, serif" font-size="5.6" font-weight="bold" text-anchor="end" fill="#222" >6000</text>
<line x1="25.5" y1="253.91" x2="27.1" y2="253.91" stroke="#666" stroke-width="0.6" />
<line x1="200.8" y1="253.91" x2="199.2" y2="253.91" stroke="#aaa" stroke-width="0.6" />
<text x="24" y="255.81" font-family="&quot;Liberation Serif&quot;, serif" font-size="5.6" font-weight="bold" text-anchor="end" fill="#222" >7000</text>
<line x1="25.5" y1="241.9" x2="27.1" y2="241.9" stroke="#666" stroke-width="0.6" />
<line x1="200.8" y1="241.9" x2="199.2" y2="241.9" stroke="#aaa" stroke-width="0.6" />
<text x="24" y="243.8" font-family="&quot;Liberation Serif&quot;, serif" font-size="5.6" font-weight="bold" text-anchor="end" fill="#222" >8000</text>
<line x1="35.8" y1="338" x2="35.8" y2="336.4" stroke="#666" stroke-width="0.6" />
<line x1="35.8" y1="241.8" x2="35.8" y2="243.4" stroke="#aaa" stroke-width="0.6" />
<text x="35.8" y="344.8" font-family="&quot;Liberation Serif&quot;, serif" font-size="5.6" font-weight="bold" text-anchor="middle" fill="#222" >2</text>
<line x1="56.4" y1="338" x2="56.4" y2="336.4" stroke="#666" stroke-width="0.6" />
<line x1="56.4" y1="241.8" x2="56.4" y2="243.4" stroke="#aaa" stroke-width="0.6" />
<text x="56.4" y="344.8" font-family="&quot;Liberation Serif&quot;, serif" font-size="5.6" font-weight="bold" text-anchor="middle" fill="#222" >4</text>
<line x1="77" y1="338" x2="77" y2="336.4" stroke="#666" stroke-width="0.6" />
<line x1="77" y1="241.8" x2="77" y2="243.4" stroke="#aaa" stroke-width="0.6" />
<text x="77" y="344.8" font-family="&quot;Liberation Serif&quot;, serif" font-size="5.6" font-weight="bold" text-anchor="middle" fill="#222" >6</text>
<line x1="97.6" y1="338" x2="97.6" y2="336.4" stroke="#666" stroke-width="0.6" />
<line x1="97.6" y1="241.8" x2="97.6" y2="243.4" stroke="#aaa" stroke-width="0.6" />
<text x="97.6" y="344.8" font-family="&quot;Liberation Serif&quot;, serif" font-size="5.6" font-weight="bold" text-anchor="middle" fill="#222" >8</text>
<line x1="118.2" y1="338" x2="118.2" y2="336.4" stroke="#666" stroke-width="0.6" />
<line x1="118.2" y1="241.8" x2="118.2" y2="243.4" stroke="#aaa" stroke-width="0.6" />
<text x="118.2" y="344.8" font-family="&quot;Liberation Serif&quot;, serif" font-size="5.6" font-weight="bold" text-anchor="middle" fill="#222" >10</text>
<line x1="138.8" y1="338" x2="138.8" y2="336.4" stroke="#666" stroke-width="0.6" />
<line x1="138.8" y1="241.8" x2="138.8" y2="243.4" stroke="#aaa" stroke-width="0.6" />
<text x="138.8" y="344.8" font-family="&quot;Liberation Serif&quot;, serif" font-size="5.6" font-weight="bold" text-anchor="middle" fill="#222" >12</text>
<line x1="159.4" y1="338" x2="159.4" y2="336.4" stroke="#666" stroke-width="0.6" />
<line x1="159.4" y1="241.8" x2="159.4" y2="243.4" stroke="#aaa" stroke-width="0.6" />
<text x="159.4" y="344.8" font-family="&quot;Liberation Serif&quot;, serif" font-size="5.6" font-weight="bold" text-anchor="middle" fill="#222" >14</text>
<line x1="180" y1="338" x2="180" y2="336.4" stroke="#666" stroke-width="0.6" />
<line x1="180" y1="241.8" x2="180" y2="243.4" stroke="#aaa" stroke-width="0.6" />
<text x="180" y="344.8" font-family="&quot;Liberation Serif&quot;, serif" font-size="5.6" font-weight="bold" text-anchor="middle" fill="#222" >16</text>
<line x1="200.6" y1="338" x2="200.6" y2="336.4" stroke="#666" stroke-width="0.6" />
<line x1="200.6" y1="241.8" x2="200.6" y2="243.4" stroke="#aaa" stroke-width="0.6" />
<text x="200.6" y="344.8" font-family="&quot;Liberation Serif&quot;, serif" font-size="5.6" font-weight="bold" text-anchor="middle" fill="#222" >18</text>
<path d="M25.7,337.6 37,337.6 37.7,337.4 37.9,337.2 38.1,336.8 38.5,335.9 38.9,334.8 39.1,334.3 39.3,334.1 39.5,334.1 39.7,334.3 39.9,334.8 40.5,336.4 40.7,336.8 41,337.2 41.4,337.5 42.2,337.6 43.8,337.6 44.5,337.3 45.3,336.5 45.7,336.5 46.1,336.7 46.9,337.4 47.5,337.6 50.8,337.6 51.3,337.4 51.5,337.2 51.7,336.8 51.9,336.2 52.1,335.5 52.7,332.6 52.9,331.9 53.1,331.4 53.3,331.4 53.5,331.9 53.7,332.6 54.3,335.5 54.5,336.2 54.8,336.8 55,337.2 55.4,337.5 56.2,337.6 79.3,337.6 80.3,337.3 81.1,337 81.9,337.3 83,337.6 96.2,337.6 97.2,337.3 98,337 98.6,337.1 99.9,337.6 105.6,337.6 107.3,337.5 107.7,337.3 107.9,337.1 108.1,336.8 108.3,336.3 108.5,335.8 109.1,333.7 109.3,333.1 109.5,332.7 109.8,332.6 110,332.7 110.2,333.1 110.4,333.7 111,335.8 111.2,336.3 111.4,336.8 111.6,337.1 112,337.5 112.8,337.6 120.1,337.6 120.5,337.4 120.7,337.2 120.9,336.8 121.1,336.1 121.3,334.8 121.5,332.8 121.7,329.8 121.9,325.4 122.1,319.5 122.3,311.7 122.5,302.3 122.7,291.6 122.9,280.1 123.1,269 123.3,259.2 123.6,251.9 123.8,248 124,248 124.2,251.9 124.4,259.2 124.6,269 124.8,280.1 125,291.6 125.2,302.3 125.4,311.7 125.6,319.5 125.8,325.4 126,329.8 126.2,332.8 126.4,334.8 126.6,336.1 126.9,336.8 127.1,337.2 127.3,337.4 127.9,337.6 129.7,337.6 130.4,337.3 131,336.7 131.6,336 132,335.7 132.4,335.8 133,336.5 133.6,337.2 134.3,337.5 135.5,337.6 139.2,337.6 139.8,337.3 140.2,336.8 140.7,335.9 141.5,333.6 142.1,332.1 142.3,331.5 142.5,330.5 142.7,328.9 142.9,326.6 143.1,323.3 143.3,318.9 143.5,313.4 143.7,306.9 143.9,299.8 144.2,292.5 144.4,285.6 144.6,279.7 144.8,275.3 145,273 145.2,273.1 145.4,275.4 145.6,279.7 145.8,285.7 146,292.7 146.2,300.2 146.4,307.5 146.6,314.3 146.8,320.1 147,325 147.2,328.9 147.5,331.7 147.7,333.8 147.9,335.3 148.1,336.2 148.3,336.8 148.5,337.2 148.9,337.5 149.9,337.6 159.2,337.6 160,337.3 160.8,336.9 161.5,337 162.7,337.5 164.1,337.6 164.8,337.5 165.2,337.2 165.4,336.8 165.6,336.4 165.8,335.7 166,334.9 166.6,331.8 166.8,331 167,330.4 167.2,330.2 167.4,330.4 167.6,331 167.8,331.8 168.5,334.9 168.7,335.7 168.9,336.4 169.1,336.8 169.3,337.1 169.5,337.3 169.9,337.4 170.3,337.1 170.7,336.5 171.3,335.5 171.6,335.3 171.8,335.2 172,335.3 172.4,335.8 173,336.9 173.4,337.3 174,337.6 188.2,337.6 200.4,337.6" fill="none" stroke="#222" stroke-width="0.85" stroke-linejoin="round" />
<path d="M25.7,337.6 37,337.6 37.7,337.4 37.9,337.2 38.1,336.8 38.5,335.9 38.9,334.8 39.1,334.3 39.3,334.1 39.5,334.1 39.7,334.3 39.9,334.8 40.5,336.4 40.7,336.8 41,337.2 41.4,337.5 42.2,337.6 43.8,337.6 44.5,337.3 45.3,336.5 45.7,336.5 46.1,336.7 46.9,337.4 47.5,337.6 50.8,337.6 51.3,337.4 51.5,337.2 51.7,336.8 51.9,336.2 52.1,335.5 52.7,332.6 52.9,331.9 53.1,331.4 53.3,331.4 53.5,331.9 53.7,332.6 54.3,335.5 54.5,336.2 54.8,336.8 55,337.2 55.4,337.5 56.2,337.6 79.3,337.6 80.3,337.3 81.1,337 81.9,337.3 83,337.6 96.2,337.6 97.2,337.3 98,337 98.6,337.1 99.9,337.6 105.6,337.6 107.3,337.5 107.7,337.3 107.9,337.1 108.1,336.8 108.3,336.3 108.5,335.8 109.1,333.7 109.3,333.1 109.5,332.7 109.8,332.6 110,332.7 110.2,333.1 110.4,333.7 111,335.8 111.2,336.3 111.4,336.8 111.6,337.1 112,337.5 112.8,337.6 120.1,337.6 120.5,337.4 120.7,337.2 120.9,336.8 121.1,336 121.3,334.7 121.5,332.7 121.7,329.6 121.9,325.1 122.1,319 122.3,311 122.5,301.4 122.7,290.3 122.9,278.6 123.1,267.1 123.3,257.1 123.6,249.6 123.8,245.7 124,245.7 124.2,249.6 124.4,257.1 124.6,267.1 124.8,278.6 125,290.3 125.2,301.4 125.4,311 125.6,319 125.8,325.1 126,329.6 126.2,332.7 126.4,334.7 126.6,336 126.9,336.8 127.1,337.2 127.3,337.4 127.7,337.6 129.5,337.6 130.1,337.4 130.8,337 131.6,336 132,335.7 132.4,335.8 133,336.5 133.6,337.2 134.3,337.5 135.5,337.6 139.2,337.6 139.8,337.3 140.2,336.8 140.7,335.9 141.7,333 142.1,332 142.3,331.3 142.5,330.2 142.7,328.5 142.9,326 143.1,322.5 143.3,317.7 143.5,311.8 143.7,304.9 143.9,297.3 144.2,289.5 144.4,282.1 144.6,275.8 144.8,271.2 145,268.7 145.2,268.8 145.4,271.2 145.6,275.9 145.8,282.2 146,289.7 146.2,297.7 146.4,305.5 146.6,312.7 146.8,319 147,324.2 147.2,328.3 147.5,331.4 147.7,333.6 147.9,335.1 148.1,336.1 148.3,336.8 148.5,337.1 148.9,337.5 149.7,337.6 159,337.6 159.8,337.4 160.8,336.9 161.5,337 162.7,337.5 164.1,337.6 164.8,337.5 165.2,337.2 165.4,336.8 165.6,336.4 165.8,335.7 166,334.9 166.6,331.8 166.8,331 167,330.4 167.2,330.2 167.4,330.4 167.6,331 167.8,331.8 168.5,334.9 168.7,335.7 168.9,336.4 169.1,336.8 169.3,337.1 169.5,337.3 169.9,337.4 170.3,337.1 170.7,336.5 171.3,335.5 171.6,335.3 171.8,335.2 172,335.3 172.4,335.8 173,336.9 173.4,337.3 174,337.6 188.2,337.6 200.4,337.6" fill="none" stroke="#3030ff" stroke-width="0.85" stroke-linejoin="round" />
<path d="M25.7,337.6 37,337.6 37.7,337.4 37.9,337.2 38.1,336.8 38.5,335.9 38.9,334.8 39.1,334.3 39.3,334.1 39.5,334.1 39.7,334.3 39.9,334.8 40.5,336.4 40.7,336.8 41,337.2 41.4,337.5 42.2,337.6 43.8,337.6 44.5,337.3 45.3,336.5 45.7,336.5 46.1,336.7 46.9,337.4 47.5,337.6 50.8,337.6 51.3,337.4 51.5,337.2 51.7,336.8 51.9,336.2 52.1,335.5 52.7,332.6 52.9,331.9 53.1,331.4 53.3,331.4 53.5,331.9 53.7,332.6 54.3,335.5 54.5,336.2 54.8,336.8 55,337.2 55.4,337.5 56.2,337.6 79.3,337.6 80.3,337.3 81.1,337 81.9,337.3 83,337.6 96.2,337.6 97.2,337.3 98,337 98.6,337.1 99.9,337.6 105.6,337.6 107.3,337.5 107.7,337.3 107.9,337.1 108.1,336.8 108.3,336.3 108.5,335.8 109.1,333.7 109.3,333.1 109.5,332.7 109.8,332.6 110,332.7 110.2,333.1 110.4,333.7 111,335.8 111.2,336.3 111.4,336.8 111.6,337.1 112,337.5 112.8,337.6 120.1,337.6 120.5,337.4 120.7,337.2 120.9,336.8 121.1,336.1 121.3,334.8 121.5,332.9 121.7,329.9 121.9,325.6 122.1,319.7 122.3,312 122.5,302.7 122.7,292 122.9,280.7 123.1,269.7 123.3,260 123.6,252.8 123.8,249 124,249 124.2,252.8 124.4,260 124.6,269.7 124.8,280.7 125,292 125.2,302.7 125.4,312 125.6,319.7 125.8,325.6 126,329.9 126.2,332.9 126.4,334.8 126.6,336.1 126.9,336.8 127.1,337.2 127.3,337.4 127.9,337.6 129.7,337.6 130.4,337.3 131,336.7 131.6,336 132,335.7 132.4,335.8 133,336.5 133.6,337.2 134.3,337.5 135.5,337.6 139.2,337.6 139.8,337.3 140.2,336.8 140.7,335.9 141.5,333.6 142.1,332.2 142.3,331.5 142.5,330.6 142.7,329.1 142.9,326.9 143.1,323.7 143.3,319.4 143.5,314.1 143.7,307.9 143.9,301 144.2,293.9 144.4,287.2 144.6,281.5 144.8,277.3 145,275.1 145.2,275.1 145.4,277.3 145.6,281.5 145.8,287.3 146,294.1 146.2,301.3 146.4,308.4 146.6,315 146.8,320.7 147,325.4 147.2,329.1 147.5,331.9 147.7,333.9 147.9,335.3 148.1,336.3 148.3,336.8 148.5,337.2 148.9,337.5 149.9,337.6 159.2,337.6 160,337.3 160.8,336.9 161.5,337 162.7,337.5 164.1,337.6 164.8,337.5 165.2,337.2 165.4,336.8 165.6,336.4 165.8,335.7 166,334.9 166.6,331.8 166.8,331 167,330.4 167.2,330.2 167.4,330.4 167.6,331 167.8,331.8 168.5,334.9 168.7,335.7 168.9,336.4 169.1,336.8 169.3,337.1 169.5,337.3 169.9,337.4 170.3,337.1 170.7,336.5 171.3,335.5 171.6,335.3 171.8,335.2 172,335.3 172.4,335.8 173,336.9 173.4,337.3 174,337.6 188.2,337.6 200.4,337.6" fill="none" stroke="#ff4040" stroke-width="0.85" stroke-linejoin="round" />
<text x="46.5" y="325.7" font-family="&quot;Liberation Serif&quot;, serif" font-size="5" font-weight="bold" text-anchor="middle" fill="#222" >Ca</text>
<line x1="47.3" y1="326.7" x2="50.3" y2="334.6" stroke="#111" stroke-width="0.5" />
<path d="M50.3,334.6 L49.08,333.35 L50.39,332.86 Z" fill="#111"/>
<text x="73.7" y="325.7" font-family="&quot;Liberation Serif&quot;, serif" font-size="5" font-weight="bold" text-anchor="middle" fill="#222" >Fe</text>
<line x1="74.5" y1="326.7" x2="78.5" y2="336" stroke="#111" stroke-width="0.5" />
<path d="M78.5,336 L77.22,334.81 L78.51,334.25 Z" fill="#111"/>
<text x="91.4" y="325.7" font-family="&quot;Liberation Serif&quot;, serif" font-size="5" font-weight="bold" text-anchor="middle" fill="#222" >Cu</text>
<line x1="92.4" y1="326.7" x2="96.5" y2="336" stroke="#111" stroke-width="0.5" />
<path d="M96.5,336 L95.21,334.82 L96.5,334.25 Z" fill="#111"/>
<text x="157" y="327.2" font-family="&quot;Liberation Serif&quot;, serif" font-size="5" font-weight="bold" text-anchor="middle" fill="#222" >Sr</text>
<line x1="157.6" y1="328.2" x2="160.2" y2="335.3" stroke="#111" stroke-width="0.5" />
<path d="M160.2,335.3 L158.99,334.04 L160.31,333.56 Z" fill="#111"/>
<text x="132.7" y="262.1" font-family="&quot;Liberation Serif&quot;, serif" font-size="5" font-weight="bold" text-anchor="middle" fill="#222" >Pb</text>
<line x1="131.7" y1="263.2" x2="127" y2="278.2" stroke="#111" stroke-width="0.6" />
<path d="M127,278.2 L126.74,276.02 L128.46,276.56 Z" fill="#111"/>
<line x1="133.5" y1="263.2" x2="142" y2="283.2" stroke="#111" stroke-width="0.6" />
<path d="M142,283.2 L140.39,281.71 L142.05,281.01 Z" fill="#111"/>
<rect x="178.5" y="243.7" width="20.7" height="14" fill="#fff" stroke="#555" stroke-width="0.6" />
<line x1="199.9" y1="244.2" x2="199.9" y2="258.2" stroke="#bbb" stroke-width="1.2" />
<line x1="179.2" y1="246.2" x2="186" y2="246.2" stroke="#222" stroke-width="1.0" />
<text x="187" y="247.8" font-family="&quot;Liberation Serif&quot;, serif" font-size="4.6" font-weight="bold" text-anchor="start" fill="#222" >Spot 1</text>
<line x1="179.2" y1="250.4" x2="186" y2="250.4" stroke="#3030ff" stroke-width="1.0" />
<text x="187" y="252" font-family="&quot;Liberation Serif&quot;, serif" font-size="4.6" font-weight="bold" text-anchor="start" fill="#222" >Spot 2</text>
<line x1="179.2" y1="255.1" x2="186" y2="255.1" stroke="#ff4040" stroke-width="1.0" />
<text x="187" y="256.7" font-family="&quot;Liberation Serif&quot;, serif" font-size="4.6" font-weight="bold" text-anchor="start" fill="#222" >Spot 7</text>
<text x="10.8" y="289.5" font-family="&quot;Liberation Serif&quot;, serif" font-size="6.4" font-weight="bold" text-anchor="middle" fill="#222" textLength="17.9" lengthAdjust="spacingAndGlyphs" transform="rotate(-90 10.8 289.5)">Counts</text>
<text x="113.3" y="351.4" font-family="&quot;Liberation Serif&quot;, serif" font-size="7" font-weight="bold" text-anchor="middle" fill="#111" textLength="35.4" lengthAdjust="spacingAndGlyphs" >Energy [keV]</text>
<text x="6.95" y="350.6" font-family="&quot;Liberation Serif&quot;, serif" font-size="13.3" font-weight="bold" text-anchor="start" fill="#000" textLength="10.4" lengthAdjust="spacingAndGlyphs" >g)</text>
<line x1="233.5" y1="8.3" x2="233.5" y2="106" stroke="#333" stroke-width="0.9" />
<line x1="233.1" y1="105.5" x2="385" y2="105.5" stroke="#333" stroke-width="0.9" />
<line x1="233.3" y1="105.5" x2="233.3" y2="107.5" stroke="#444" stroke-width="0.8" />
<text x="233.3" y="111.9" font-family="&quot;Liberation Sans&quot;, sans-serif" font-size="5.2" font-weight="bold" text-anchor="middle" fill="#555" >4000</text>
<line x1="241.7" y1="105.5" x2="241.7" y2="106.7" stroke="#444" stroke-width="0.8" />
<line x1="250.1" y1="105.5" x2="250.1" y2="107.5" stroke="#444" stroke-width="0.8" />
<text x="250.1" y="111.9" font-family="&quot;Liberation Sans&quot;, sans-serif" font-size="5.2" font-weight="bold" text-anchor="middle" fill="#555" >3600</text>
<line x1="258.5" y1="105.5" x2="258.5" y2="106.7" stroke="#444" stroke-width="0.8" />
<line x1="266.9" y1="105.5" x2="266.9" y2="107.5" stroke="#444" stroke-width="0.8" />
<text x="266.9" y="111.9" font-family="&quot;Liberation Sans&quot;, sans-serif" font-size="5.2" font-weight="bold" text-anchor="middle" fill="#555" >3200</text>
<line x1="275.3" y1="105.5" x2="275.3" y2="106.7" stroke="#444" stroke-width="0.8" />
<line x1="283.7" y1="105.5" x2="283.7" y2="107.5" stroke="#444" stroke-width="0.8" />
<text x="283.7" y="111.9" font-family="&quot;Liberation Sans&quot;, sans-serif" font-size="5.2" font-weight="bold" text-anchor="middle" fill="#555" >2800</text>
<line x1="292.1" y1="105.5" x2="292.1" y2="106.7" stroke="#444" stroke-width="0.8" />
<line x1="300.5" y1="105.5" x2="300.5" y2="107.5" stroke="#444" stroke-width="0.8" />
<text x="300.5" y="111.9" font-family="&quot;Liberation Sans&quot;, sans-serif" font-size="5.2" font-weight="bold" text-anchor="middle" fill="#555" >2400</text>
<line x1="308.9" y1="105.5" x2="308.9" y2="106.7" stroke="#444" stroke-width="0.8" />
<line x1="317.3" y1="105.5" x2="317.3" y2="107.5" stroke="#444" stroke-width="0.8" />
<text x="317.3" y="111.9" font-family="&quot;Liberation Sans&quot;, sans-serif" font-size="5.2" font-weight="bold" text-anchor="middle" fill="#555" >2000</text>
<line x1="325.7" y1="105.5" x2="325.7" y2="106.7" stroke="#444" stroke-width="0.8" />
<line x1="334.1" y1="105.5" x2="334.1" y2="107.5" stroke="#444" stroke-width="0.8" />
<text x="334.1" y="111.9" font-family="&quot;Liberation Sans&quot;, sans-serif" font-size="5.2" font-weight="bold" text-anchor="middle" fill="#555" >1600</text>
<line x1="342.5" y1="105.5" x2="342.5" y2="106.7" stroke="#444" stroke-width="0.8" />
<line x1="350.9" y1="105.5" x2="350.9" y2="107.5" stroke="#444" stroke-width="0.8" />
<text x="350.9" y="111.9" font-family="&quot;Liberation Sans&quot;, sans-serif" font-size="5.2" font-weight="bold" text-anchor="middle" fill="#555" >1200</text>
<line x1="359.3" y1="105.5" x2="359.3" y2="106.7" stroke="#444" stroke-width="0.8" />
<line x1="367.7" y1="105.5" x2="367.7" y2="107.5" stroke="#444" stroke-width="0.8" />
<text x="367.7" y="111.9" font-family="&quot;Liberation Sans&quot;, sans-serif" font-size="5.2" font-weight="bold" text-anchor="middle" fill="#555" >800</text>
<line x1="376.1" y1="105.5" x2="376.1" y2="106.7" stroke="#444" stroke-width="0.8" />
<line x1="384.5" y1="105.5" x2="384.5" y2="107.5" stroke="#444" stroke-width="0.8" />
<text x="384.5" y="111.9" font-family="&quot;Liberation Sans&quot;, sans-serif" font-size="5.2" font-weight="bold" text-anchor="middle" fill="#555" >400</text>
<line x1="233.5" y1="104.8" x2="231.2" y2="104.8" stroke="#444" stroke-width="0.8" />
<text x="230.1" y="106.65" font-family="&quot;Liberation Sans&quot;, sans-serif" font-size="5.2" font-weight="bold" text-anchor="end" fill="#555" >0</text>
<line x1="233.5" y1="100.03" x2="232.3" y2="100.03" stroke="#444" stroke-width="0.8" />
<line x1="233.5" y1="95.25" x2="231.2" y2="95.25" stroke="#444" stroke-width="0.8" />
<text x="230.1" y="97.1" font-family="&quot;Liberation Sans&quot;, sans-serif" font-size="5.2" font-weight="bold" text-anchor="end" fill="#555" >20</text>
<line x1="233.5" y1="90.47" x2="232.3" y2="90.47" stroke="#444" stroke-width="0.8" />
<line x1="233.5" y1="85.7" x2="231.2" y2="85.7" stroke="#444" stroke-width="0.8" />
<text x="230.1" y="87.55" font-family="&quot;Liberation Sans&quot;, sans-serif" font-size="5.2" font-weight="bold" text-anchor="end" fill="#555" >40</text>
<line x1="233.5" y1="80.93" x2="232.3" y2="80.93" stroke="#444" stroke-width="0.8" />
<line x1="233.5" y1="76.15" x2="231.2" y2="76.15" stroke="#444" stroke-width="0.8" />
<text x="230.1" y="78" font-family="&quot;Liberation Sans&quot;, sans-serif" font-size="5.2" font-weight="bold" text-anchor="end" fill="#555" >60</text>
<line x1="233.5" y1="71.38" x2="232.3" y2="71.38" stroke="#444" stroke-width="0.8" />
<line x1="233.5" y1="66.6" x2="231.2" y2="66.6" stroke="#444" stroke-width="0.8" />
<text x="230.1" y="68.45" font-family="&quot;Liberation Sans&quot;, sans-serif" font-size="5.2" font-weight="bold" text-anchor="end" fill="#555" >80</text>
<line x1="233.5" y1="61.82" x2="232.3" y2="61.82" stroke="#444" stroke-width="0.8" />
<line x1="233.5" y1="57.05" x2="231.2" y2="57.05" stroke="#444" stroke-width="0.8" />
<text x="230.1" y="58.9" font-family="&quot;Liberation Sans&quot;, sans-serif" font-size="5.2" font-weight="bold" text-anchor="end" fill="#555" >100</text>
<line x1="233.5" y1="52.27" x2="232.3" y2="52.27" stroke="#444" stroke-width="0.8" />
<line x1="233.5" y1="47.5" x2="231.2" y2="47.5" stroke="#444" stroke-width="0.8" />
<text x="230.1" y="49.35" font-family="&quot;Liberation Sans&quot;, sans-serif" font-size="5.2" font-weight="bold" text-anchor="end" fill="#555" >120</text>
<line x1="233.5" y1="42.73" x2="232.3" y2="42.73" stroke="#444" stroke-width="0.8" />
<line x1="233.5" y1="37.95" x2="231.2" y2="37.95" stroke="#444" stroke-width="0.8" />
<text x="230.1" y="39.8" font-family="&quot;Liberation Sans&quot;, sans-serif" font-size="5.2" font-weight="bold" text-anchor="end" fill="#555" >140</text>
<line x1="233.5" y1="33.18" x2="232.3" y2="33.18" stroke="#444" stroke-width="0.8" />
<line x1="233.5" y1="28.4" x2="231.2" y2="28.4" stroke="#444" stroke-width="0.8" />
<text x="230.1" y="30.25" font-family="&quot;Liberation Sans&quot;, sans-serif" font-size="5.2" font-weight="bold" text-anchor="end" fill="#555" >160</text>
<line x1="233.5" y1="23.62" x2="232.3" y2="23.62" stroke="#444" stroke-width="0.8" />
<line x1="233.5" y1="18.85" x2="231.2" y2="18.85" stroke="#444" stroke-width="0.8" />
<text x="230.1" y="20.7" font-family="&quot;Liberation Sans&quot;, sans-serif" font-size="5.2" font-weight="bold" text-anchor="end" fill="#555" >180</text>
<line x1="233.5" y1="14.07" x2="232.3" y2="14.07" stroke="#444" stroke-width="0.8" />
<line x1="233.5" y1="9.3" x2="231.2" y2="9.3" stroke="#444" stroke-width="0.8" />
<text x="230.1" y="11.15" font-family="&quot;Liberation Sans&quot;, sans-serif" font-size="5.2" font-weight="bold" text-anchor="end" fill="#555" >200</text>
<path d="M234,85.9 235,85.9 236,86.2 237,86 238,86.2 240,86.2 241,86.4 242,86.3 243,86.5 244,85.6 245,84.8 246.5,70 247.6,55.1 249,37.8 250.8,23.7 251.6,20.9 253,23.2 254,22.3 254.9,21.7 255.8,21.4 256.5,23.8 257.3,23.4 258,26.1 258.8,25.7 259.6,26 260.4,26.6 261.2,27.5 262,29 262.8,28.4 263.6,29.7 264.4,30.5 265.2,30.6 266,31.5 266.8,31 267.6,31.4 268.4,32.1 269.2,33.4 270,33.4 270.8,33.6 271.7,34.5 272.5,34.6 273.5,33.9 274.5,33.9 276.5,27.8 278,31.9 279,37.1 280,37.8 281,38.1 282,39 283,39.6 284,42.6 285,48 286,49.1 287,50.9 288,52.4 289,53.3 290,52.2 291,50.7 292,49.6 293,48.2 294.4,46.7 295.9,45.5 297,51.8 298,54 300,57.9 301,59.2 302,60.8 303,62.3 304,63.5 305,65.1 306,66.2 307,67.1 308,67.6 309,67.1 310,66.3 311,65.1 312,66.1 313,67.1 314,66.8 315,67.3 316,67.3 318,67.5 319.4,63.8 321,58.7 322.7,55 324,44.9 325,37.8 326,29.7 327.7,20 328.8,27 330,36.8 331,33.2 332,37.3 333,34.3 334.5,35.9 336,32.4 337,30.8 338,34.3 339.5,23.8 340.5,29.8 341.7,62.4 343,56.2 344,56.6 345,56.9 346,56.8 347,57 348,57.6 349,58 350,58.4 351,59.2 353,59.7 355,60.7 356,60.7 357,61.8 358,62.3 359,62.9 360.5,65 361.3,60 362.3,65 364,68.2 365.5,60.2 366.3,72.4 368,73.2 369,73.5 370,73.7 371,74.1 372,74.1 373,74.5 374,75 375,75.3 376,75.9 377,76.1 378,77.2 379,74.9 380,72.5 380.8,75.8 381.5,81.8 382.5,78.4 383.2,88.3 384,82.9 384.5,86" fill="none" stroke="#333" stroke-width="0.7" stroke-linejoin="round" />
<path d="M234,93.6 235,93.5 236,93.6 237,93.6 239,93.9 240,94 241,94.3 242,94.2 243,93.7 244,93.6 246,92.4 247,90.7 248,88.6 249,87 250,86.5 251,85.7 252,85.8 253,85.7 254,85.8 255,85.9 256,86.2 257,86.2 258,86.4 259,86.3 260,86.4 261,86.7 262,86.9 266,87.2 267,87.1 268,87.3 270,87.3 271,87.1 272,87 273,86.8 275,86.7 276,86 277,85.7 279,89.2 280,89 284,89.1 286,89.5 287,89.5 288,89.4 290,89.6 291,89.4 292,89.7 293,89.8 295,89.9 297,89.7 298,90 299,89.9 300,90.1 301,90.2 302,90 303,90 304,90.2 305,90.1 306,89.9 308,89.9 309,90.2 310,90.1 311,89.8 312,89.9 313,89.9 315,89.4 316,89.4 317,89.2 318,89 319,89.3 320,89.1 321,88.5 322,88.2 323,87.5 324,87.1 325,86.6 326.3,84.9 327.6,83.5 330,88.8 331,88.8 332,88.6 333,88.5 334,88.3 335,88.5 336.1,87.6 338.4,86.5 339.5,86 340.8,87 342,88.5 343,88.3 345,88.4 346,88.3 347,88.5 349,88.4 350,88.7 351,88.7 353,89.3 355,89.5 357,90 358.5,93.4 359.6,93 360.7,93 361.8,92.7 362.8,92.5 363.9,92.6 365,92.3 368,92 369,91.6 370,91.5 372,91.1 373,91.3 374,91.4 376,91.7 377,92 378,92.1 380,93 381,93.1 382,93.6 383,94" fill="none" stroke="#ff5050" stroke-width="0.7" stroke-linejoin="round" />
<line x1="279.6" y1="90.2" x2="279.6" y2="92.8" stroke="#111" stroke-width="0.7" />
<line x1="278.47" y1="90.85" x2="280.73" y2="92.15" stroke="#111" stroke-width="0.7" />
<line x1="280.73" y1="90.85" x2="278.47" y2="92.15" stroke="#111" stroke-width="0.7" />
<line x1="295.7" y1="32.2" x2="295.7" y2="42.5" stroke="#777" stroke-width="1.0" />
<path d="M295.7,42.5 L294.7,40.5 L296.7,40.5 Z" fill="#777"/>
<line x1="322.5" y1="39.3" x2="322.5" y2="53" stroke="#555" stroke-width="0.7" />
<path d="M322.5,53 L321.6,51 L323.4,51 Z" fill="#555"/>
<line x1="331.1" y1="16.7" x2="331.1" y2="29.5" stroke="#3030ff" stroke-width="0.8" />
<path d="M331.1,29.5 L330.2,27.5 L332,27.5 Z" fill="#3030ff"/>
<line x1="334.8" y1="16.7" x2="334.8" y2="29.5" stroke="#3030ff" stroke-width="0.8" />
<path d="M334.8,29.5 L333.9,27.5 L335.7,27.5 Z" fill="#3030ff"/>
<line x1="339.6" y1="5" x2="339.6" y2="22" stroke="#333" stroke-width="0.7" />
<path d="M339.6,22 L338.7,20 L340.5,20 Z" fill="#333"/>
<line x1="355.5" y1="42.5" x2="355.5" y2="58.4" stroke="#333" stroke-width="0.6" />
<path d="M355.5,58.4 L354.6,56.4 L356.4,56.4 Z" fill="#333"/>
<line x1="360.5" y1="42.5" x2="360.5" y2="59.8" stroke="#333" stroke-width="0.6" />
<path d="M360.5,59.8 L359.6,57.8 L361.4,57.8 Z" fill="#333"/>
<line x1="365.5" y1="42.5" x2="365.5" y2="57.6" stroke="#333" stroke-width="0.6" />
<path d="M365.5,57.6 L364.6,55.6 L366.4,55.6 Z" fill="#333"/>
<line x1="379.6" y1="55" x2="379.6" y2="70.3" stroke="#555" stroke-width="0.6" />
<path d="M379.6,70.3 L378.7,68.3 L380.5,68.3 Z" fill="#555"/>
<line x1="381.2" y1="55" x2="381.2" y2="70.3" stroke="#555" stroke-width="0.6" />
<path d="M381.2,70.3 L380.3,68.3 L382.1,68.3 Z" fill="#555"/>
<rect x="280.9" y="5.4" width="35.8" height="22.2" fill="#fff" stroke="#999" stroke-width="0.6" stroke-dasharray="0.7 0.7"/>
<path d="M281,8.7 283,13.7 285,17.9 288,16.2 292,15 295,17.1 297,19.2 298.5,14.6 299,12.5 300,16.7 301,22.1 302,21.7 303,18.8 304,14.6 305,12.9 306,12.1 308,17.1 310,13.7 312,16.2 316.5,15" fill="none" stroke="#909090" stroke-width="0.7" stroke-linejoin="round" />
<path d="M281,7 283,14.6 284.5,18.3 287,17.1 290,15.4 293,15 295,16.2 297,17.5 298.5,14.6 299,12.9 300,15.4 301,21.3 301.5,26.7 302.5,21.3 303.5,14.6 304.5,10.4 305.5,12.9 306.5,17.1 308,18.3 310,12.9 312,17.1 314,17.5 316.5,14.6" fill="none" stroke="#ff7070" stroke-width="0.7" stroke-linejoin="round" />
<rect x="306.9" y="5.4" width="9.8" height="4.6" fill="#fff" stroke="#aaa" stroke-width="0.4" />
<line x1="307.3" y1="5.4" x2="307.3" y2="18.8" stroke="#999" stroke-width="0.5" />
<line x1="309" y1="7" x2="311.5" y2="7" stroke="#ff7070" stroke-width="0.5" />
<line x1="309" y1="8.6" x2="311.5" y2="8.6" stroke="#909090" stroke-width="0.5" />
<line x1="312.2" y1="7" x2="316" y2="7" stroke="#bbb" stroke-width="0.6" />
<line x1="312.2" y1="8.6" x2="316" y2="8.6" stroke="#bbb" stroke-width="0.6" />
<rect x="278.6" y="13.5" width="1.3" height="4" fill="#ccc" stroke="none" stroke-width="1" />
<line x1="285" y1="27.6" x2="285" y2="26.6" stroke="#888" stroke-width="0.4" />
<line x1="289.5" y1="27.6" x2="289.5" y2="26.6" stroke="#888" stroke-width="0.4" />
<line x1="294" y1="27.6" x2="294" y2="26.6" stroke="#888" stroke-width="0.4" />
<line x1="298.5" y1="27.6" x2="298.5" y2="26.6" stroke="#888" stroke-width="0.4" />
<line x1="303" y1="27.6" x2="303" y2="26.6" stroke="#888" stroke-width="0.4" />
<line x1="307.5" y1="27.6" x2="307.5" y2="26.6" stroke="#888" stroke-width="0.4" />
<line x1="312" y1="27.6" x2="312" y2="26.6" stroke="#888" stroke-width="0.4" />
<line x1="280.9" y1="9" x2="281.9" y2="9" stroke="#888" stroke-width="0.4" />
<line x1="280.9" y1="12.5" x2="281.9" y2="12.5" stroke="#888" stroke-width="0.4" />
<line x1="280.9" y1="16" x2="281.9" y2="16" stroke="#888" stroke-width="0.4" />
<line x1="280.9" y1="19.5" x2="281.9" y2="19.5" stroke="#888" stroke-width="0.4" />
<line x1="280.9" y1="23" x2="281.9" y2="23" stroke="#888" stroke-width="0.4" />
<line x1="294" y1="29" x2="301" y2="29" stroke="#ccc" stroke-width="0.6" />
<text x="357" y="18.9" font-family="&quot;Liberation Sans&quot;, sans-serif" font-size="6.4" font-weight="bold" text-anchor="start" fill="#333" textLength="29.2" lengthAdjust="spacingAndGlyphs" >Spot F1P</text>
<text x="357" y="25.1" font-family="&quot;Liberation Sans&quot;, sans-serif" font-size="6.4" font-weight="bold" text-anchor="start" fill="#ff3030" textLength="24.5" lengthAdjust="spacingAndGlyphs" >Spot F6</text>
<text x="211.7" y="55.2" font-family="&quot;Liberation Sans&quot;, sans-serif" font-size="5.3" font-weight="bold" text-anchor="middle" fill="#333" textLength="25" lengthAdjust="spacingAndGlyphs" transform="rotate(-90 211.7 55.2)">Absorbance</text>
<text x="309" y="120.1" font-family="&quot;Liberation Sans&quot;, sans-serif" font-size="7.2" font-weight="normal" text-anchor="middle" fill="#222" textLength="54.4" lengthAdjust="spacingAndGlyphs" >Wavenumber, cm-1</text>
<text x="207.45" y="112.4" font-family="&quot;Liberation Serif&quot;, serif" font-size="13.3" font-weight="bold" text-anchor="start" fill="#000" textLength="10.9" lengthAdjust="spacingAndGlyphs" >b)</text>
<line x1="229.5" y1="123.5" x2="229.5" y2="225" stroke="#333" stroke-width="0.9" />
<line x1="229.1" y1="224.5" x2="380" y2="224.5" stroke="#333" stroke-width="0.9" />
<line x1="229.5" y1="224.5" x2="229.5" y2="226.5" stroke="#444" stroke-width="0.8" />
<text x="229.5" y="230.9" font-family="&quot;Liberation Sans&quot;, sans-serif" font-size="5.2" font-weight="bold" text-anchor="middle" fill="#555" >4000</text>
<line x1="237.85" y1="224.5" x2="237.85" y2="225.7" stroke="#444" stroke-width="0.8" />
<line x1="246.2" y1="224.5" x2="246.2" y2="226.5" stroke="#444" stroke-width="0.8" />
<text x="246.2" y="230.9" font-family="&quot;Liberation Sans&quot;, sans-serif" font-size="5.2" font-weight="bold" text-anchor="middle" fill="#555" >3600</text>
<line x1="254.55" y1="224.5" x2="254.55" y2="225.7" stroke="#444" stroke-width="0.8" />
<line x1="262.9" y1="224.5" x2="262.9" y2="226.5" stroke="#444" stroke-width="0.8" />
<text x="262.9" y="230.9" font-family="&quot;Liberation Sans&quot;, sans-serif" font-size="5.2" font-weight="bold" text-anchor="middle" fill="#555" >3200</text>
<line x1="271.25" y1="224.5" x2="271.25" y2="225.7" stroke="#444" stroke-width="0.8" />
<line x1="279.6" y1="224.5" x2="279.6" y2="226.5" stroke="#444" stroke-width="0.8" />
<text x="279.6" y="230.9" font-family="&quot;Liberation Sans&quot;, sans-serif" font-size="5.2" font-weight="bold" text-anchor="middle" fill="#555" >2800</text>
<line x1="287.95" y1="224.5" x2="287.95" y2="225.7" stroke="#444" stroke-width="0.8" />
<line x1="296.3" y1="224.5" x2="296.3" y2="226.5" stroke="#444" stroke-width="0.8" />
<text x="296.3" y="230.9" font-family="&quot;Liberation Sans&quot;, sans-serif" font-size="5.2" font-weight="bold" text-anchor="middle" fill="#555" >2400</text>
<line x1="304.65" y1="224.5" x2="304.65" y2="225.7" stroke="#444" stroke-width="0.8" />
<line x1="313" y1="224.5" x2="313" y2="226.5" stroke="#444" stroke-width="0.8" />
<text x="313" y="230.9" font-family="&quot;Liberation Sans&quot;, sans-serif" font-size="5.2" font-weight="bold" text-anchor="middle" fill="#555" >2000</text>
<line x1="321.35" y1="224.5" x2="321.35" y2="225.7" stroke="#444" stroke-width="0.8" />
<line x1="329.7" y1="224.5" x2="329.7" y2="226.5" stroke="#444" stroke-width="0.8" />
<text x="329.7" y="230.9" font-family="&quot;Liberation Sans&quot;, sans-serif" font-size="5.2" font-weight="bold" text-anchor="middle" fill="#555" >1600</text>
<line x1="338.05" y1="224.5" x2="338.05" y2="225.7" stroke="#444" stroke-width="0.8" />
<line x1="346.4" y1="224.5" x2="346.4" y2="226.5" stroke="#444" stroke-width="0.8" />
<text x="346.4" y="230.9" font-family="&quot;Liberation Sans&quot;, sans-serif" font-size="5.2" font-weight="bold" text-anchor="middle" fill="#555" >1200</text>
<line x1="354.75" y1="224.5" x2="354.75" y2="225.7" stroke="#444" stroke-width="0.8" />
<line x1="363.1" y1="224.5" x2="363.1" y2="226.5" stroke="#444" stroke-width="0.8" />
<text x="363.1" y="230.9" font-family="&quot;Liberation Sans&quot;, sans-serif" font-size="5.2" font-weight="bold" text-anchor="middle" fill="#555" >800</text>
<line x1="371.45" y1="224.5" x2="371.45" y2="225.7" stroke="#444" stroke-width="0.8" />
<line x1="379.8" y1="224.5" x2="379.8" y2="226.5" stroke="#444" stroke-width="0.8" />
<text x="379.8" y="230.9" font-family="&quot;Liberation Sans&quot;, sans-serif" font-size="5.2" font-weight="bold" text-anchor="middle" fill="#555" >400</text>
<line x1="229.5" y1="224.4" x2="227.2" y2="224.4" stroke="#444" stroke-width="0.8" />
<text x="226.1" y="226.25" font-family="&quot;Liberation Sans&quot;, sans-serif" font-size="5.2" font-weight="bold" text-anchor="end" fill="#555" >10</text>
<line x1="229.5" y1="216.07" x2="228.3" y2="216.07" stroke="#444" stroke-width="0.8" />
<line x1="229.5" y1="207.73" x2="227.2" y2="207.73" stroke="#444" stroke-width="0.8" />
<text x="226.1" y="209.58" font-family="&quot;Liberation Sans&quot;, sans-serif" font-size="5.2" font-weight="bold" text-anchor="end" fill="#555" >20</text>
<line x1="229.5" y1="199.4" x2="228.3" y2="199.4" stroke="#444" stroke-width="0.8" />
<line x1="229.5" y1="191.07" x2="227.2" y2="191.07" stroke="#444" stroke-width="0.8" />
<text x="226.1" y="192.92" font-family="&quot;Liberation Sans&quot;, sans-serif" font-size="5.2" font-weight="bold" text-anchor="end" fill="#555" >30</text>
<line x1="229.5" y1="182.73" x2="228.3" y2="182.73" stroke="#444" stroke-width="0.8" />
<line x1="229.5" y1="174.4" x2="227.2" y2="174.4" stroke="#444" stroke-width="0.8" />
<text x="226.1" y="176.25" font-family="&quot;Liberation Sans&quot;, sans-serif" font-size="5.2" font-weight="bold" text-anchor="end" fill="#555" >40</text>
<line x1="229.5" y1="166.07" x2="228.3" y2="166.07" stroke="#444" stroke-width="0.8" />
<line x1="229.5" y1="157.73" x2="227.2" y2="157.73" stroke="#444" stroke-width="0.8" />
<text x="226.1" y="159.58" font-family="&quot;Liberation Sans&quot;, sans-serif" font-size="5.2" font-weight="bold" text-anchor="end" fill="#555" >50</text>
<line x1="229.5" y1="149.4" x2="228.3" y2="149.4" stroke="#444" stroke-width="0.8" />
<line x1="229.5" y1="141.06" x2="227.2" y2="141.06" stroke="#444" stroke-width="0.8" />
<text x="226.1" y="142.91" font-family="&quot;Liberation Sans&quot;, sans-serif" font-size="5.2" font-weight="bold" text-anchor="end" fill="#555" >60</text>
<line x1="229.5" y1="132.73" x2="228.3" y2="132.73" stroke="#444" stroke-width="0.8" />
<line x1="229.5" y1="124.4" x2="227.2" y2="124.4" stroke="#444" stroke-width="0.8" />
<text x="226.1" y="126.25" font-family="&quot;Liberation Sans&quot;, sans-serif" font-size="5.2" font-weight="bold" text-anchor="end" fill="#555" >70</text>
<path d="M230,175 231,175.1 232,174.9 233,175.1 234,175.5 235,175.6 236,176.1 237,176.4 238,176.5 239,176.2 240.5,170 242,150.6 242.8,146.3 243.5,143.8 244.2,143.2 245,142 245.7,142.8 246.3,142.7 247,141.4 247.7,142.7 248.3,142.1 249,142.5 249.6,143.6 250.2,143.8 250.8,143.2 251.4,144 252,144.5 253.2,144.6 253.8,145 254.4,145.8 255,145.7 260,146 260.8,146.2 261.7,145.9 262.5,145.4 264.2,145.4 265,145.1 266,143.7 267,143.4 268,142.2 269,140.1 270,137.2 271.3,132.9 272.5,142.2 273.5,155.4 274.5,166.9 275.3,154.9 276,153.8 277,166.8 278,157.3 279,156.2 280,155.5 280.8,155.8 281.7,155.2 282.5,155 283.3,154.2 284.2,153.9 285,154.1 286.7,152.9 287.5,153.3 288.3,152.7 289.2,152.6 290,151.7 291,152 292,151.1 293,153.2 294,154.4 295,155.9 295.8,155.7 296.7,155.7 297.5,154.8 298.3,154.4 299.2,154.4 300.8,153.3 301.7,152.9 302.5,152.4 304.2,151.8 305,151.4 306,150.3 307,148.4 308,147.1 309,149.5 310,152.3 311,152.4 312,153 313,152.3 314,152.3 315,151.6 316,150.5 317,149.9 318,149.4 319,145.5 320,142.8 321.5,132.6 322.8,127 324,134.7 325,148.2 326,145.8 328,144.6 329,142.4 330,141.2 332,136.1 333,134.3 334.3,127.7 335.5,135.6 336.5,140.6 337.5,134.9 338.5,143.6 340,140.7 342,146.3 343,148.9 344,151 344.8,152 345.6,152.8 347.2,155.2 348,156.5 349,155 350,154 355,153.1 355.6,152.6 356.2,153.6 356.9,153.5 357.5,152.5 358.1,151.7 358.8,152.8 359.4,151.5 360,151.3 360.6,150.2 361.2,150.4 361.9,150 362.5,149.6 363.1,148.5 363.8,148.5 364.4,147.1 365,147.1 365.6,146.6 366.2,147 366.8,146.1 367.4,145.9 368,146.2 368.7,145.3 369.3,145.2 370,144.3 370.6,144 371.2,143.2 371.8,142.6 372.4,142.2 373,140.7 373.7,139.8 374.3,140.2 375,137.9 376,138 378,147.5 379,158.9" fill="none" stroke="#ff4a4a" stroke-width="0.65" stroke-linejoin="round" />
<path d="M230,211.7 231,211.7 232,211.6 234,211.7 235,211.3 236,211.5 237,211.5 238,211.7 240,209.6 241,208.4 242,207.5 243,206.9 244,206.4 245,205.6 246,205.6 248,206.1 249,206 251,207.1 253,208.6 254,208 255,207.3 256,207 257,207.5 258,207.4 259,207.3 261,207.4 262,207 263,207.4 264,207.2 266,207 267,207.1 268,206.6 269,206.7 270,206.7 271.5,203.1 273,205.4 274,218.2 275,211.6 276.5,217.5 278,211.6 279,211.4 280,211 282,210.8 283,210.9 284,210.5 285,210.5 286,210.1 288,210.2 289,210.4 291,210.2 292,210 293,210 295,209.9 296,209.6 297,210 298,209.5 299,209.9 300,209.9 301,209.3 303,209.6 304,209.6 305,209.3 307,209 308,209.4 309,208.9 310,209 311,208.7 313,209.1 314,208.5 315,208.9 316,208.4 317,208.4 318,208 319,207.4 320,207.5 322.5,204.8 324,211.5 325,211.9 327,212.1 328,211.4 329,211 330,210.4 331,210.5 333.5,208.7 335,209.7 336,209.4 337,210.1 338,210.1 339,210.5 340,210.5 342,211.7 344,214.4 344.8,217 345.6,218.4 346.4,220 347.2,217.5 348,214.7 348.8,212.7 349.5,211 350.3,211.9 351.2,211.2 352,212 352.8,211.2 353.6,211.2 354.4,211.5 355.2,211.1 356,211.3 356.8,211.8 358.4,211.3 359.2,210.9 360,211 360.8,210.5 361.6,209.6 362.4,209.3 363.2,208 364,208.3 365,206.4 366,205.3 366.8,204.2 367.5,202.7 368.2,199.5 369,197.5 370,194.6 371,198 372,196.8 373,196.3 374,197.3 375,200.6 376,202.7 377,200.7 378,201" fill="none" stroke="#5a5aff" stroke-width="0.6" stroke-linejoin="round" />
<line x1="322.5" y1="120.1" x2="322.5" y2="122.7" stroke="#111" stroke-width="0.7" />
<line x1="321.37" y1="120.75" x2="323.63" y2="122.05" stroke="#111" stroke-width="0.7" />
<line x1="323.63" y1="120.75" x2="321.37" y2="122.05" stroke="#111" stroke-width="0.7" />
<line x1="275" y1="168.7" x2="275" y2="171.3" stroke="#111" stroke-width="0.7" />
<line x1="273.87" y1="169.35" x2="276.13" y2="170.65" stroke="#111" stroke-width="0.7" />
<line x1="276.13" y1="169.35" x2="273.87" y2="170.65" stroke="#111" stroke-width="0.7" />
<line x1="308.3" y1="131.9" x2="308.3" y2="145" stroke="#333" stroke-width="0.5" />
<path d="M308.3,145 L307.5,143.2 L309.1,143.2 Z" fill="#333"/>
<text x="360.3" y="173.7" font-family="&quot;Liberation Sans&quot;, sans-serif" font-size="6.2" font-weight="normal" text-anchor="start" fill="#3030ff" textLength="27.3" lengthAdjust="spacingAndGlyphs" >Spot F4P</text>
<text x="360.3" y="180.2" font-family="&quot;Liberation Sans&quot;, sans-serif" font-size="6.2" font-weight="normal" text-anchor="start" fill="#ff2020" textLength="22.2" lengthAdjust="spacingAndGlyphs" >Spot F7</text>
<text x="212.2" y="171.9" font-family="&quot;Liberation Sans&quot;, sans-serif" font-size="5.3" font-weight="bold" text-anchor="middle" fill="#333" textLength="28.3" lengthAdjust="spacingAndGlyphs" transform="rotate(-90 212.2 171.9)">Absorbance</text>
<text x="303.8" y="239.5" font-family="&quot;Liberation Sans&quot;, sans-serif" font-size="7.2" font-weight="normal" text-anchor="middle" fill="#222" textLength="54.7" lengthAdjust="spacingAndGlyphs" >Wavenumber, cm-1</text>
<text x="207.95" y="232.3" font-family="&quot;Liberation Serif&quot;, serif" font-size="13.3" font-weight="bold" text-anchor="start" fill="#000" textLength="10.2" lengthAdjust="spacingAndGlyphs" >e)</text>
<line x1="234.5" y1="242.4" x2="234.5" y2="342" stroke="#333" stroke-width="0.9" />
<line x1="234.1" y1="341.5" x2="385" y2="341.5" stroke="#333" stroke-width="0.9" />
<line x1="234.3" y1="341.5" x2="234.3" y2="343.5" stroke="#444" stroke-width="0.8" />
<text x="234.3" y="347.9" font-family="&quot;Liberation Sans&quot;, sans-serif" font-size="5.2" font-weight="bold" text-anchor="middle" fill="#555" >4000</text>
<line x1="242.63" y1="341.5" x2="242.63" y2="342.7" stroke="#444" stroke-width="0.8" />
<line x1="250.96" y1="341.5" x2="250.96" y2="343.5" stroke="#444" stroke-width="0.8" />
<text x="250.96" y="347.9" font-family="&quot;Liberation Sans&quot;, sans-serif" font-size="5.2" font-weight="bold" text-anchor="middle" fill="#555" >3600</text>
<line x1="259.28" y1="341.5" x2="259.28" y2="342.7" stroke="#444" stroke-width="0.8" />
<line x1="267.61" y1="341.5" x2="267.61" y2="343.5" stroke="#444" stroke-width="0.8" />
<text x="267.61" y="347.9" font-family="&quot;Liberation Sans&quot;, sans-serif" font-size="5.2" font-weight="bold" text-anchor="middle" fill="#555" >3200</text>
<line x1="275.94" y1="341.5" x2="275.94" y2="342.7" stroke="#444" stroke-width="0.8" />
<line x1="284.27" y1="341.5" x2="284.27" y2="343.5" stroke="#444" stroke-width="0.8" />
<text x="284.27" y="347.9" font-family="&quot;Liberation Sans&quot;, sans-serif" font-size="5.2" font-weight="bold" text-anchor="middle" fill="#555" >2800</text>
<line x1="292.59" y1="341.5" x2="292.59" y2="342.7" stroke="#444" stroke-width="0.8" />
<line x1="300.92" y1="341.5" x2="300.92" y2="343.5" stroke="#444" stroke-width="0.8" />
<text x="300.92" y="347.9" font-family="&quot;Liberation Sans&quot;, sans-serif" font-size="5.2" font-weight="bold" text-anchor="middle" fill="#555" >2400</text>
<line x1="309.25" y1="341.5" x2="309.25" y2="342.7" stroke="#444" stroke-width="0.8" />
<line x1="317.58" y1="341.5" x2="317.58" y2="343.5" stroke="#444" stroke-width="0.8" />
<text x="317.58" y="347.9" font-family="&quot;Liberation Sans&quot;, sans-serif" font-size="5.2" font-weight="bold" text-anchor="middle" fill="#555" >2000</text>
<line x1="325.91" y1="341.5" x2="325.91" y2="342.7" stroke="#444" stroke-width="0.8" />
<line x1="334.23" y1="341.5" x2="334.23" y2="343.5" stroke="#444" stroke-width="0.8" />
<text x="334.23" y="347.9" font-family="&quot;Liberation Sans&quot;, sans-serif" font-size="5.2" font-weight="bold" text-anchor="middle" fill="#555" >1600</text>
<line x1="342.56" y1="341.5" x2="342.56" y2="342.7" stroke="#444" stroke-width="0.8" />
<line x1="350.89" y1="341.5" x2="350.89" y2="343.5" stroke="#444" stroke-width="0.8" />
<text x="350.89" y="347.9" font-family="&quot;Liberation Sans&quot;, sans-serif" font-size="5.2" font-weight="bold" text-anchor="middle" fill="#555" >1200</text>
<line x1="359.22" y1="341.5" x2="359.22" y2="342.7" stroke="#444" stroke-width="0.8" />
<line x1="367.54" y1="341.5" x2="367.54" y2="343.5" stroke="#444" stroke-width="0.8" />
<text x="367.54" y="347.9" font-family="&quot;Liberation Sans&quot;, sans-serif" font-size="5.2" font-weight="bold" text-anchor="middle" fill="#555" >800</text>
<line x1="375.87" y1="341.5" x2="375.87" y2="342.7" stroke="#444" stroke-width="0.8" />
<line x1="384.2" y1="341.5" x2="384.2" y2="343.5" stroke="#444" stroke-width="0.8" />
<text x="384.2" y="347.9" font-family="&quot;Liberation Sans&quot;, sans-serif" font-size="5.2" font-weight="bold" text-anchor="middle" fill="#555" >400</text>
<line x1="234.5" y1="341.2" x2="232.2" y2="341.2" stroke="#444" stroke-width="0.8" />
<text x="231.1" y="343.05" font-family="&quot;Liberation Sans&quot;, sans-serif" font-size="5.2" font-weight="bold" text-anchor="end" fill="#555" >10</text>
<line x1="234.5" y1="336.31" x2="233.3" y2="336.31" stroke="#444" stroke-width="0.8" />
<line x1="234.5" y1="331.43" x2="232.2" y2="331.43" stroke="#444" stroke-width="0.8" />
<text x="231.1" y="333.28" font-family="&quot;Liberation Sans&quot;, sans-serif" font-size="5.2" font-weight="bold" text-anchor="end" fill="#555" >20</text>
<line x1="234.5" y1="326.54" x2="233.3" y2="326.54" stroke="#444" stroke-width="0.8" />
<line x1="234.5" y1="321.66" x2="232.2" y2="321.66" stroke="#444" stroke-width="0.8" />
<text x="231.1" y="323.51" font-family="&quot;Liberation Sans&quot;, sans-serif" font-size="5.2" font-weight="bold" text-anchor="end" fill="#555" >30</text>
<line x1="234.5" y1="316.77" x2="233.3" y2="316.77" stroke="#444" stroke-width="0.8" />
<line x1="234.5" y1="311.89" x2="232.2" y2="311.89" stroke="#444" stroke-width="0.8" />
<text x="231.1" y="313.74" font-family="&quot;Liberation Sans&quot;, sans-serif" font-size="5.2" font-weight="bold" text-anchor="end" fill="#555" >40</text>
<line x1="234.5" y1="307" x2="233.3" y2="307" stroke="#444" stroke-width="0.8" />
<line x1="234.5" y1="302.12" x2="232.2" y2="302.12" stroke="#444" stroke-width="0.8" />
<text x="231.1" y="303.97" font-family="&quot;Liberation Sans&quot;, sans-serif" font-size="5.2" font-weight="bold" text-anchor="end" fill="#555" >50</text>
<line x1="234.5" y1="297.24" x2="233.3" y2="297.24" stroke="#444" stroke-width="0.8" />
<line x1="234.5" y1="292.35" x2="232.2" y2="292.35" stroke="#444" stroke-width="0.8" />
<text x="231.1" y="294.2" font-family="&quot;Liberation Sans&quot;, sans-serif" font-size="5.2" font-weight="bold" text-anchor="end" fill="#555" >60</text>
<line x1="234.5" y1="287.46" x2="233.3" y2="287.46" stroke="#444" stroke-width="0.8" />
<line x1="234.5" y1="282.58" x2="232.2" y2="282.58" stroke="#444" stroke-width="0.8" />
<text x="231.1" y="284.43" font-family="&quot;Liberation Sans&quot;, sans-serif" font-size="5.2" font-weight="bold" text-anchor="end" fill="#555" >70</text>
<line x1="234.5" y1="277.69" x2="233.3" y2="277.69" stroke="#444" stroke-width="0.8" />
<line x1="234.5" y1="272.81" x2="232.2" y2="272.81" stroke="#444" stroke-width="0.8" />
<text x="231.1" y="274.66" font-family="&quot;Liberation Sans&quot;, sans-serif" font-size="5.2" font-weight="bold" text-anchor="end" fill="#555" >80</text>
<line x1="234.5" y1="267.92" x2="233.3" y2="267.92" stroke="#444" stroke-width="0.8" />
<line x1="234.5" y1="263.04" x2="232.2" y2="263.04" stroke="#444" stroke-width="0.8" />
<text x="231.1" y="264.89" font-family="&quot;Liberation Sans&quot;, sans-serif" font-size="5.2" font-weight="bold" text-anchor="end" fill="#555" >90</text>
<line x1="234.5" y1="258.15" x2="233.3" y2="258.15" stroke="#444" stroke-width="0.8" />
<line x1="234.5" y1="253.27" x2="232.2" y2="253.27" stroke="#444" stroke-width="0.8" />
<text x="231.1" y="255.12" font-family="&quot;Liberation Sans&quot;, sans-serif" font-size="5.2" font-weight="bold" text-anchor="end" fill="#555" >100</text>
<line x1="234.5" y1="248.38" x2="233.3" y2="248.38" stroke="#444" stroke-width="0.8" />
<line x1="234.5" y1="243.5" x2="232.2" y2="243.5" stroke="#444" stroke-width="0.8" />
<text x="231.1" y="245.35" font-family="&quot;Liberation Sans&quot;, sans-serif" font-size="5.2" font-weight="bold" text-anchor="end" fill="#555" >110</text>
<path d="M234.5,316.8 236,315.5 238,316.2 239,316.7 240,317.6 241,319 242,319.5 243,319.2 244,319.6 245.3,315.4 245.9,305 247,289.7 248.5,281.8 249.6,279 251,275.9 252.6,273.5 253.8,274.7 255,275.8 257,278.3 258,279.2 259,280 261,282.1 263,284.1 264,283.9 265,284.2 266,284.9 267,284.3 268,284.7 270,285.2 271,284.2 273,283.2 276.2,281.9 277.5,280.9 278.5,285.6 279.5,289.7 280.5,288.3 282,292 283,290.1 284,289.7 285,289.8 286,289.2 287,289.5 288,289.9 289,289.7 291,289.6 292,288.9 293,288.6 294,288.5 295,288.6 296,288.5 297,289.4 298,289.8 299,290.3 300,291 301,291.5 302,292.2 303,292.5 304,293.8 305,294.1 306,295.5 308,296.8 309,297.5 310,298 311,298.6 312,297.8 313,296.5 314,297.3 315,298.5 316,298.2 318,297.2 319,294.8 320,291.7 321,290.6 322,289.5 323,288 324,285.9 325,281.4 326,276.4 327,263.6 328,256.3 328.5,253.8 329.5,261.9 330.5,274.1 331.5,277 333,283.7 334,281.7 335,286.7 336,287.7 337,285.9 338.5,283 341,280.2 342,284.6 343,286.2 344,288 345,288.2 346,289.1 347,289.6 348,290 349,290.8 350,292.5 351,293 352,294.4 353,295 354,296.4 355,298.2 356,299.2 357,302.9 358,305.7 359,308.7 360,307.6 362,306.1 363,305.9 364,304.8 365,304.5 366,304.4 367,305 368,304.3 370,304.8 371,305.3 372,306 373,306.5 374,306.9 375,307.7 376,308.1 377,307.9 378,308 379,308.9 380,309 381,309 382,310.1 383,310.4 383.8,303.9 384.2,312" fill="none" stroke="#3a3a3a" stroke-width="0.65" stroke-linejoin="round" />
<path d="M234.5,320.7 236.5,319.6 237.7,320.5 238.8,321.2 240,322.4 241,322 242,323 243,322.8 244,322.1 245,321.8 246,312.3 247.5,301.9 249,296.6 250,295.5 251,293.9 252,293.6 253,292.4 254,293.1 255,294.2 256,294.1 258,295.7 259,296.2 260,296.1 262,297.4 263,298.7 264,298.8 265,299.8 266,299.9 267,299.4 268,299.2 269,299.7 271,299.1 272,299.4 273,299.1 274,299 275,298.8 276,299.4 277,299.5 278,302.5 279,305.9 280.5,304.4 282,306 283,306.1 284,306.4 285,306.3 286,305.8 287,305.6 289,305.6 290,305.8 291,305 292,305.2 293,304.8 294,304.6 296,303.9 297,304.1 299,305 300,305.7 301,305.7 302,306.4 303,307.4 304,307.5 305,308 306,308.5 307,309.4 308,309.8 309,310.8 310,311.3 311,310.9 312,309.7 313,309.1 314,309.4 315,310 316,310.5 318,308.8 320,307.9 323,304.9 324,303.7 325,299.1 326,295.5 327,286.6 328,278.6 329,284.6 330,297.5 331,300.2 332,296.1 333,299.2 334,301.2 335,303.9 337,301.4 338,298.3 339,295.6 340.5,293.1 341.5,299.2 343,309.2 344,310.3 345,311.7 346,312.2 348,313.4 350,314 351,313.7 352,314.3 353,314.5 354,314.9 355,315.9 356,315.8 357,316.3 357.5,312.4 358,316.8 359,316.7 360,316.8 361,317.4 362,317.8 363,317.3 364,317.9 365,318.1 365.6,312.4 366.3,317.9 367.5,317.1 370,316.1 371,316.3 372,316.3 373,315.8 374,315.6 375,315.8 376,316.6 377,316.7 378,317.3 379,318.1 380,319.4 381,320 382,320.3 383,321.1 384,314" fill="none" stroke="#22e838" stroke-width="0.8" stroke-linejoin="round" />
<path d="M234.5,331.4 236.8,331.9 238,331.7 239,331.9 240,332.5 241,332.4 242,332.6 243,332.9 244,331.8 245,329.9 246,325.7 247,323.8 248,321.9 249,321.2 250,320.1 251,320 252,320.2 253,320.8 254,320.7 255,320.9 256,321.8 257,321.6 258,322.1 259,321.9 260,322.4 262,322.3 263,322.3 264,322.8 265,323 266,323.3 267,322.8 268,323.3 269,323.3 270,323.5 271,323.4 273,323.9 274,324.3 275,323.9 277,324.7 278,324.9 279,326.6 280,326.2 281,326.5 282,326.5 284,325.7 285,326.3 286,325.8 287,326.1 288,325.9 289,326 290,325.5 291,325.9 292,325.6 293,325.8 294,326.1 295,326.1 296,325.7 297,325.8 299,326.4 301,326.5 302,326.8 303,327.3 304,327.6 305,327.2 306,327.6 307,327.8 308,327.3 309,328 310,327.5 311,327.9 312,327.9 313,327.8 314,327.4 316,327.2 317,326.9 318,326.9 319,326.2 320,325.7 321,324.8 322,324.7 324,321.5 325,320.5 326.2,317.4 327.5,314.2 329,320.1 330,320.3 331,320 332,321.1 333,322.5 334,321.3 335,320.7 336,321.4 337,321.7 338.2,321.8 339.5,321.1 341,329.2 342.5,333.1 343.8,332.6 345,332 346,332.3 347,332.2 348,332.6 349,332 350,332.5 351,332.8 352,332.7 353,332.9 354,332.6 355,333.2 356,333 357,333.4 358,333.5 359,333.1 360,333.6 361,333.6 362,332.9 364,333.2 365,332.7 366,333 367,332.3 368,332.5 369,332.1 371,332.6 372,332.1 373,332.3 374,332.7 376,332.7 377,333 378,333.2 379,334 380,334.1 381,334.5 382,334.3 383,333.6 384,332.3" fill="none" stroke="#ff6a6a" stroke-width="0.7" stroke-linejoin="round" />
<line x1="282" y1="282.3" x2="282" y2="284.9" stroke="#111" stroke-width="0.7" />
<line x1="280.87" y1="282.95" x2="283.13" y2="284.25" stroke="#111" stroke-width="0.7" />
<line x1="283.13" y1="282.95" x2="280.87" y2="284.25" stroke="#111" stroke-width="0.7" />
<line x1="312.5" y1="290.5" x2="312.5" y2="293.1" stroke="#111" stroke-width="0.7" />
<line x1="311.37" y1="291.15" x2="313.63" y2="292.45" stroke="#111" stroke-width="0.7" />
<line x1="313.63" y1="291.15" x2="311.37" y2="292.45" stroke="#111" stroke-width="0.7" />
<line x1="328.7" y1="248.7" x2="328.7" y2="251.3" stroke="#111" stroke-width="0.7" />
<line x1="327.57" y1="249.35" x2="329.83" y2="250.65" stroke="#111" stroke-width="0.7" />
<line x1="329.83" y1="249.35" x2="327.57" y2="250.65" stroke="#111" stroke-width="0.7" />
<line x1="338.4" y1="268.5" x2="338.4" y2="279.5" stroke="#333" stroke-width="0.6" />
<path d="M338.4,279.5 L337.6,277.7 L339.2,277.7 Z" fill="#333"/>
<line x1="340.9" y1="265.9" x2="340.9" y2="276.6" stroke="#333" stroke-width="0.6" />
<path d="M340.9,276.6 L340.1,274.8 L341.7,274.8 Z" fill="#333"/>
<line x1="335.7" y1="281" x2="335.7" y2="285" stroke="#555" stroke-width="0.5" />
<text x="357.1" y="251.4" font-family="&quot;Liberation Sans&quot;, sans-serif" font-size="6" font-weight="normal" text-anchor="start" fill="#222" textLength="27.2" lengthAdjust="spacingAndGlyphs" >Spot F1P</text>
<text x="357.1" y="257.7" font-family="&quot;Liberation Sans&quot;, sans-serif" font-size="6" font-weight="normal" text-anchor="start" fill="#ff2020" textLength="27.2" lengthAdjust="spacingAndGlyphs" >Spot F2P</text>
<text x="357.1" y="264" font-family="&quot;Liberation Sans&quot;, sans-serif" font-size="6" font-weight="normal" text-anchor="start" fill="#10e020" textLength="27.2" lengthAdjust="spacingAndGlyphs" >Spot F4P</text>
<text x="214" y="290.4" font-family="&quot;Liberation Sans&quot;, sans-serif" font-size="5.3" font-weight="bold" text-anchor="middle" fill="#333" textLength="26" lengthAdjust="spacingAndGlyphs" transform="rotate(-90 214.0 290.4)">Absorbance</text>
<text x="309.7" y="357.1" font-family="&quot;Liberation Sans&quot;, sans-serif" font-size="7.2" font-weight="normal" text-anchor="middle" fill="#222" textLength="55.8" lengthAdjust="spacingAndGlyphs" >Wavenumber, cm-1</text>
<text x="207.65" y="350.6" font-family="&quot;Liberation Serif&quot;, serif" font-size="13.3" font-weight="bold" text-anchor="start" fill="#000" textLength="10.7" lengthAdjust="spacingAndGlyphs" >h)</text>
<rect x="391.5" y="5.4" width="152" height="111.7" fill="#fff" stroke="#6a6a6a" stroke-width="1.2" />
<rect x="391.5" y="100.3" width="152" height="1.5" fill="#6a6a6a" stroke="none" stroke-width="1" />
<rect x="391.5" y="101.8" width="152" height="1.2" fill="#dcdcdc" stroke="none" stroke-width="1" />
<line x1="392.3" y1="101.8" x2="392.3" y2="104.4" stroke="#777" stroke-width="0.4" />
<text x="392.3" y="108.7" font-family="&quot;Liberation Sans&quot;, sans-serif" font-size="5.1" font-weight="normal" text-anchor="middle" fill="#222" >0</text>
<line x1="393.79" y1="101.8" x2="393.79" y2="102.9" stroke="#777" stroke-width="0.4" />
<line x1="395.27" y1="101.8" x2="395.27" y2="102.9" stroke="#777" stroke-width="0.4" />
<line x1="396.75" y1="101.8" x2="396.75" y2="102.9" stroke="#777" stroke-width="0.4" />
<line x1="398.24" y1="101.8" x2="398.24" y2="102.9" stroke="#777" stroke-width="0.4" />
<line x1="399.73" y1="101.8" x2="399.73" y2="103.6" stroke="#777" stroke-width="0.4" />
<line x1="401.21" y1="101.8" x2="401.21" y2="102.9" stroke="#777" stroke-width="0.4" />
<line x1="402.69" y1="101.8" x2="402.69" y2="102.9" stroke="#777" stroke-width="0.4" />
<line x1="404.18" y1="101.8" x2="404.18" y2="102.9" stroke="#777" stroke-width="0.4" />
<line x1="405.67" y1="101.8" x2="405.67" y2="102.9" stroke="#777" stroke-width="0.4" />
<line x1="407.15" y1="101.8" x2="407.15" y2="104.4" stroke="#777" stroke-width="0.4" />
<text x="407.15" y="108.7" font-family="&quot;Liberation Sans&quot;, sans-serif" font-size="5.1" font-weight="normal" text-anchor="middle" fill="#222" >1</text>
<line x1="408.63" y1="101.8" x2="408.63" y2="102.9" stroke="#777" stroke-width="0.4" />
<line x1="410.12" y1="101.8" x2="410.12" y2="102.9" stroke="#777" stroke-width="0.4" />
<line x1="411.61" y1="101.8" x2="411.61" y2="102.9" stroke="#777" stroke-width="0.4" />
<line x1="413.09" y1="101.8" x2="413.09" y2="102.9" stroke="#777" stroke-width="0.4" />
<line x1="414.57" y1="101.8" x2="414.57" y2="103.6" stroke="#777" stroke-width="0.4" />
<line x1="416.06" y1="101.8" x2="416.06" y2="102.9" stroke="#777" stroke-width="0.4" />
<line x1="417.55" y1="101.8" x2="417.55" y2="102.9" stroke="#777" stroke-width="0.4" />
<line x1="419.03" y1="101.8" x2="419.03" y2="102.9" stroke="#777" stroke-width="0.4" />
<line x1="420.51" y1="101.8" x2="420.51" y2="102.9" stroke="#777" stroke-width="0.4" />
<line x1="422" y1="101.8" x2="422" y2="104.4" stroke="#777" stroke-width="0.4" />
<text x="422" y="108.7" font-family="&quot;Liberation Sans&quot;, sans-serif" font-size="5.1" font-weight="normal" text-anchor="middle" fill="#222" >2</text>
<line x1="423.49" y1="101.8" x2="423.49" y2="102.9" stroke="#777" stroke-width="0.4" />
<line x1="424.97" y1="101.8" x2="424.97" y2="102.9" stroke="#777" stroke-width="0.4" />
<line x1="426.46" y1="101.8" x2="426.46" y2="102.9" stroke="#777" stroke-width="0.4" />
<line x1="427.94" y1="101.8" x2="427.94" y2="102.9" stroke="#777" stroke-width="0.4" />
<line x1="429.43" y1="101.8" x2="429.43" y2="103.6" stroke="#777" stroke-width="0.4" />
<line x1="430.91" y1="101.8" x2="430.91" y2="102.9" stroke="#777" stroke-width="0.4" />
<line x1="432.39" y1="101.8" x2="432.39" y2="102.9" stroke="#777" stroke-width="0.4" />
<line x1="433.88" y1="101.8" x2="433.88" y2="102.9" stroke="#777" stroke-width="0.4" />
<line x1="435.37" y1="101.8" x2="435.37" y2="102.9" stroke="#777" stroke-width="0.4" />
<line x1="436.85" y1="101.8" x2="436.85" y2="104.4" stroke="#777" stroke-width="0.4" />
<text x="436.85" y="108.7" font-family="&quot;Liberation Sans&quot;, sans-serif" font-size="5.1" font-weight="normal" text-anchor="middle" fill="#222" >3</text>
<line x1="438.34" y1="101.8" x2="438.34" y2="102.9" stroke="#777" stroke-width="0.4" />
<line x1="439.82" y1="101.8" x2="439.82" y2="102.9" stroke="#777" stroke-width="0.4" />
<line x1="441.31" y1="101.8" x2="441.31" y2="102.9" stroke="#777" stroke-width="0.4" />
<line x1="442.79" y1="101.8" x2="442.79" y2="102.9" stroke="#777" stroke-width="0.4" />
<line x1="444.28" y1="101.8" x2="444.28" y2="103.6" stroke="#777" stroke-width="0.4" />
<line x1="445.76" y1="101.8" x2="445.76" y2="102.9" stroke="#777" stroke-width="0.4" />
<line x1="447.25" y1="101.8" x2="447.25" y2="102.9" stroke="#777" stroke-width="0.4" />
<line x1="448.73" y1="101.8" x2="448.73" y2="102.9" stroke="#777" stroke-width="0.4" />
<line x1="450.22" y1="101.8" x2="450.22" y2="102.9" stroke="#777" stroke-width="0.4" />
<line x1="451.7" y1="101.8" x2="451.7" y2="104.4" stroke="#777" stroke-width="0.4" />
<text x="451.7" y="108.7" font-family="&quot;Liberation Sans&quot;, sans-serif" font-size="5.1" font-weight="normal" text-anchor="middle" fill="#222" >4</text>
<line x1="453.19" y1="101.8" x2="453.19" y2="102.9" stroke="#777" stroke-width="0.4" />
<line x1="454.67" y1="101.8" x2="454.67" y2="102.9" stroke="#777" stroke-width="0.4" />
<line x1="456.16" y1="101.8" x2="456.16" y2="102.9" stroke="#777" stroke-width="0.4" />
<line x1="457.64" y1="101.8" x2="457.64" y2="102.9" stroke="#777" stroke-width="0.4" />
<line x1="459.12" y1="101.8" x2="459.12" y2="103.6" stroke="#777" stroke-width="0.4" />
<line x1="460.61" y1="101.8" x2="460.61" y2="102.9" stroke="#777" stroke-width="0.4" />
<line x1="462.1" y1="101.8" x2="462.1" y2="102.9" stroke="#777" stroke-width="0.4" />
<line x1="463.58" y1="101.8" x2="463.58" y2="102.9" stroke="#777" stroke-width="0.4" />
<line x1="465.06" y1="101.8" x2="465.06" y2="102.9" stroke="#777" stroke-width="0.4" />
<line x1="466.55" y1="101.8" x2="466.55" y2="104.4" stroke="#777" stroke-width="0.4" />
<text x="466.55" y="108.7" font-family="&quot;Liberation Sans&quot;, sans-serif" font-size="5.1" font-weight="normal" text-anchor="middle" fill="#222" >5</text>
<line x1="468.04" y1="101.8" x2="468.04" y2="102.9" stroke="#777" stroke-width="0.4" />
<line x1="469.52" y1="101.8" x2="469.52" y2="102.9" stroke="#777" stroke-width="0.4" />
<line x1="471" y1="101.8" x2="471" y2="102.9" stroke="#777" stroke-width="0.4" />
<line x1="472.49" y1="101.8" x2="472.49" y2="102.9" stroke="#777" stroke-width="0.4" />
<line x1="473.98" y1="101.8" x2="473.98" y2="103.6" stroke="#777" stroke-width="0.4" />
<line x1="475.46" y1="101.8" x2="475.46" y2="102.9" stroke="#777" stroke-width="0.4" />
<line x1="476.94" y1="101.8" x2="476.94" y2="102.9" stroke="#777" stroke-width="0.4" />
<line x1="478.43" y1="101.8" x2="478.43" y2="102.9" stroke="#777" stroke-width="0.4" />
<line x1="479.92" y1="101.8" x2="479.92" y2="102.9" stroke="#777" stroke-width="0.4" />
<line x1="481.4" y1="101.8" x2="481.4" y2="104.4" stroke="#777" stroke-width="0.4" />
<text x="481.4" y="108.7" font-family="&quot;Liberation Sans&quot;, sans-serif" font-size="5.1" font-weight="normal" text-anchor="middle" fill="#222" >6</text>
<line x1="482.88" y1="101.8" x2="482.88" y2="102.9" stroke="#777" stroke-width="0.4" />
<line x1="484.37" y1="101.8" x2="484.37" y2="102.9" stroke="#777" stroke-width="0.4" />
<line x1="485.86" y1="101.8" x2="485.86" y2="102.9" stroke="#777" stroke-width="0.4" />
<line x1="487.34" y1="101.8" x2="487.34" y2="102.9" stroke="#777" stroke-width="0.4" />
<line x1="488.83" y1="101.8" x2="488.83" y2="103.6" stroke="#777" stroke-width="0.4" />
<line x1="490.31" y1="101.8" x2="490.31" y2="102.9" stroke="#777" stroke-width="0.4" />
<line x1="491.8" y1="101.8" x2="491.8" y2="102.9" stroke="#777" stroke-width="0.4" />
<line x1="493.28" y1="101.8" x2="493.28" y2="102.9" stroke="#777" stroke-width="0.4" />
<line x1="494.76" y1="101.8" x2="494.76" y2="102.9" stroke="#777" stroke-width="0.4" />
<line x1="496.25" y1="101.8" x2="496.25" y2="104.4" stroke="#777" stroke-width="0.4" />
<text x="496.25" y="108.7" font-family="&quot;Liberation Sans&quot;, sans-serif" font-size="5.1" font-weight="normal" text-anchor="middle" fill="#222" >7</text>
<line x1="497.74" y1="101.8" x2="497.74" y2="102.9" stroke="#777" stroke-width="0.4" />
<line x1="499.22" y1="101.8" x2="499.22" y2="102.9" stroke="#777" stroke-width="0.4" />
<line x1="500.71" y1="101.8" x2="500.71" y2="102.9" stroke="#777" stroke-width="0.4" />
<line x1="502.19" y1="101.8" x2="502.19" y2="102.9" stroke="#777" stroke-width="0.4" />
<line x1="503.68" y1="101.8" x2="503.68" y2="103.6" stroke="#777" stroke-width="0.4" />
<line x1="505.16" y1="101.8" x2="505.16" y2="102.9" stroke="#777" stroke-width="0.4" />
<line x1="506.64" y1="101.8" x2="506.64" y2="102.9" stroke="#777" stroke-width="0.4" />
<line x1="508.13" y1="101.8" x2="508.13" y2="102.9" stroke="#777" stroke-width="0.4" />
<line x1="509.62" y1="101.8" x2="509.62" y2="102.9" stroke="#777" stroke-width="0.4" />
<line x1="511.1" y1="101.8" x2="511.1" y2="104.4" stroke="#777" stroke-width="0.4" />
<text x="511.1" y="108.7" font-family="&quot;Liberation Sans&quot;, sans-serif" font-size="5.1" font-weight="normal" text-anchor="middle" fill="#222" >8</text>
<line x1="512.59" y1="101.8" x2="512.59" y2="102.9" stroke="#777" stroke-width="0.4" />
<line x1="514.07" y1="101.8" x2="514.07" y2="102.9" stroke="#777" stroke-width="0.4" />
<line x1="515.56" y1="101.8" x2="515.56" y2="102.9" stroke="#777" stroke-width="0.4" />
<line x1="517.04" y1="101.8" x2="517.04" y2="102.9" stroke="#777" stroke-width="0.4" />
<line x1="518.52" y1="101.8" x2="518.52" y2="103.6" stroke="#777" stroke-width="0.4" />
<line x1="520.01" y1="101.8" x2="520.01" y2="102.9" stroke="#777" stroke-width="0.4" />
<line x1="521.5" y1="101.8" x2="521.5" y2="102.9" stroke="#777" stroke-width="0.4" />
<line x1="522.98" y1="101.8" x2="522.98" y2="102.9" stroke="#777" stroke-width="0.4" />
<line x1="524.47" y1="101.8" x2="524.47" y2="102.9" stroke="#777" stroke-width="0.4" />
<line x1="525.95" y1="101.8" x2="525.95" y2="104.4" stroke="#777" stroke-width="0.4" />
<text x="525.95" y="108.7" font-family="&quot;Liberation Sans&quot;, sans-serif" font-size="5.1" font-weight="normal" text-anchor="middle" fill="#222" >9</text>
<line x1="527.43" y1="101.8" x2="527.43" y2="102.9" stroke="#777" stroke-width="0.4" />
<line x1="528.92" y1="101.8" x2="528.92" y2="102.9" stroke="#777" stroke-width="0.4" />
<line x1="530.4" y1="101.8" x2="530.4" y2="102.9" stroke="#777" stroke-width="0.4" />
<line x1="531.89" y1="101.8" x2="531.89" y2="102.9" stroke="#777" stroke-width="0.4" />
<line x1="533.38" y1="101.8" x2="533.38" y2="103.6" stroke="#777" stroke-width="0.4" />
<line x1="534.86" y1="101.8" x2="534.86" y2="102.9" stroke="#777" stroke-width="0.4" />
<line x1="536.35" y1="101.8" x2="536.35" y2="102.9" stroke="#777" stroke-width="0.4" />
<line x1="537.83" y1="101.8" x2="537.83" y2="102.9" stroke="#777" stroke-width="0.4" />
<line x1="539.32" y1="101.8" x2="539.32" y2="102.9" stroke="#777" stroke-width="0.4" />
<line x1="540.8" y1="101.8" x2="540.8" y2="104.4" stroke="#777" stroke-width="0.4" />
<text x="540.8" y="108.7" font-family="&quot;Liberation Sans&quot;, sans-serif" font-size="5.1" font-weight="normal" text-anchor="middle" fill="#222" textLength="3.9" lengthAdjust="spacingAndGlyphs" >10</text>
<text x="542.5" y="114.5" font-family="&quot;Liberation Sans&quot;, sans-serif" font-size="4.3" font-weight="normal" text-anchor="end" fill="#333" textLength="4.8" lengthAdjust="spacingAndGlyphs" >keV</text>
<text x="391.8" y="115.3" font-family="&quot;Liberation Sans&quot;, sans-serif" font-size="5.7" font-weight="normal" text-anchor="start" fill="#111" textLength="70.8" lengthAdjust="spacingAndGlyphs" >Full Scale 8684 cts  Cursor: -0.076 keV (34 cts)</text>
<text x="542.6" y="10.3" font-family="&quot;Liberation Sans&quot;, sans-serif" font-size="4.6" font-weight="normal" text-anchor="end" fill="#1a1a1a" textLength="17.6" lengthAdjust="spacingAndGlyphs" >Spectrum 2</text>
<text x="528.65" y="23.3" font-family="&quot;Liberation Serif&quot;, serif" font-size="13.3" font-weight="bold" text-anchor="start" fill="#000" textLength="9.7" lengthAdjust="spacingAndGlyphs" >c)</text>
<path d="M392.3,94.2 392.6,91 392.7,89.9 392.9,89.6 393,89.9 393.2,91 393.3,92.7 393.5,94.2 393.6,96 393.8,97.2 393.9,98 394.1,98.7 394.2,98.8 394.4,99 394.5,96.8 394.7,96.2 394.8,95.6 395,94.3 395.1,92.6 395.3,90.8 395.6,85.6 395.7,82.4 395.9,79.5 396,76.9 396.2,74.6 396.3,73.1 396.5,72.5 396.6,72.9 396.8,74.4 396.9,76.6 397.2,82.3 397.3,85.4 397.5,88.2 397.6,90.4 397.8,92.4 397.9,94 398.1,94.8 398.2,95.4 398.4,95.7 398.5,95.5 398.7,95.1 398.8,94.2 399,93.2 399.1,91.7 399.3,90 399.4,88.3 399.7,84.7 400,82.5 400.2,82.2 400.3,82.5 400.5,83.5 400.6,84.9 400.9,88.1 401.1,89.9 401.4,93.1 401.5,94.3 401.8,95.9 402.1,96.8 402.2,96.9 402.4,96.9 402.5,97.1 402.7,96.9 402.8,97.1 403.3,96.9 403.4,97 403.6,96.7 403.7,96.8 403.9,96.7 404.3,95.1 404.5,94 404.6,92.7 404.8,91 404.9,88.6 405.1,85.9 405.2,82.8 405.4,79.4 405.5,76.1 405.7,72.8 405.8,69.8 406,67.2 406.1,65.9 406.3,65.4 406.4,65.8 406.6,67.4 406.7,69.6 406.9,72.5 407,75.8 407.2,79.3 407.3,82.6 407.4,85.7 407.6,88.5 407.7,90.7 407.9,92.5 408,93.8 408.3,95.4 408.6,96.2 408.9,96.4 409.2,96.7 409.4,96.5 409.5,96.6 409.7,96.4 410,96.4 410.3,96.6 410.6,96.4 410.7,96.6 410.9,96.4 411,96.4 411.2,96.5 411.3,96.4 411.6,96.4 411.8,96.5 411.9,96.3 412.1,96.4 412.3,96.3 412.5,96.1 412.6,96.1 413.1,95.6 413.2,95.6 413.4,95.2 413.5,95.3 413.7,94.9 414,94.7 414.1,94.9 414.3,94.7 414.6,94.6 414.7,94.7 414.9,95 415.3,95.5 415.5,95.4 415.6,95.6 415.8,95.7 415.9,95.9 416.2,95.9 416.4,95.6 416.5,95.8 416.8,95.5 417,95.1 417.4,94.5 417.5,94.6 417.8,94.2 418.3,94 418.4,94 418.6,94.1 418.7,94.5 418.9,94.5 419.2,95 419.3,95 419.8,95.6 420.1,95.7 420.2,95.9 420.4,95.8 420.5,95.8 420.7,95.7 420.8,95.5 421,95.5 421.3,95.3 421.4,95 421.6,94.9 421.9,94.2 422,94 422.1,93.4 422.3,93.2 422.4,92.5 422.7,91.5 422.9,91.1 423,90.7 423.2,89.9 423.3,89.5 423.5,89 423.6,88.7 423.8,88.2 424.1,87.7 424.2,87.7 424.4,87.4 424.5,87.5 424.7,87.1 425,86.7 425.1,86.2 425.4,84.5 425.7,81.7 425.9,79.9 426,77.8 426.3,73.2 426.5,71.1 426.6,69.2 426.8,67.8 426.9,66.5 427,66.2 427.2,66.1 427.3,66.9 427.5,68.3 427.8,72.4 427.9,74.7 428.1,77.3 428.4,81.8 428.5,83.7 428.7,85.3 428.8,86.5 429,87.3 429.1,87.7 429.3,87.9 429.6,87.9 429.9,87.4 430,86.9 430.5,86.5 430.6,86.5 430.8,86.8 430.9,87.3 431.1,87.6 431.2,88.2 431.4,89 431.7,90.9 431.8,91.6 432.1,93.2 432.4,94.6 432.7,95.3 432.8,95.6 433,96 433.1,96.1 433.3,96 433.4,96.3 433.6,96.1 433.9,96.4 434.5,96.3 434.6,96.4 434.8,96.2 435.1,96.4 435.2,96.3 435.5,96.5 435.8,96.4 436.1,96.5 436.3,96.4 436.4,96.5 436.6,96.5 436.8,96.7 437,96.5 437.3,96.6 437.6,96.5 437.7,96.7 438.5,96.7 438.9,96.7 439.1,96.8 439.2,96.6 439.5,96.9 439.8,96.8 440,96.7 440.4,96.9 440.6,96.8 440.9,97 441,96.8 441.2,97 441.3,97 441.5,96.9 441.6,97 441.8,97.1 441.9,96.9 442,97 442.2,96.9 442.3,97.1 442.5,97.2 442.8,97 442.9,97.1 443.2,97.2 443.5,97.2 443.7,97.3 444,97.2 444.1,97.3 444.3,97.1 444.4,97.2 444.6,97.1 444.7,97.1 444.9,96.9 445,97 445.3,96.5 445.6,96.2 445.8,95.8 445.9,95.7 446.2,95.2 446.4,94.9 446.7,94.4 446.9,94.4 447.2,94.2 447.4,94.5 447.5,94.5 447.8,94.9 448,95.4 448.6,96.5 448.7,96.6 448.9,97.1 449,97.1 449.3,97.5 449.5,97.5 449.8,97.5 449.9,97.5 450.1,97.4 450.2,97.6 450.4,97.4 450.5,97.4 450.7,97.2 451.1,97 451.4,96.7 451.6,96.9 451.7,96.7 452,96.8 452.4,97.1 452.7,97.2 452.9,97.5 453,97.6 453.2,97.5 453.3,97.8 453.6,98 453.8,97.9 453.9,98.1 454.1,98.1 454.2,98 454.4,98 454.5,98.4 455,98.2 455.3,98.2 455.4,98.4 455.7,98.3 455.9,98.5 456,98.5 456.2,98.3 456.3,98.5 456.5,98.5 457.2,98.6 457.3,98.4 457.5,98.6 457.6,98.5 457.8,98.6 457.9,98.5 458.1,98.7 458.4,98.5 458.7,98.5 458.8,98.6 459,98.5 459.1,98.6 459.3,98.5 459.4,98.7 459.7,98.7 459.9,98.8 460,98.6 460.2,98.8 460.3,98.7 460.8,98.9 460.9,98.7 461.1,98.8 461.2,98.9 461.4,98.7 461.5,98.9 461.6,98.9 461.8,98.7 461.9,98.9 462.2,99 462.4,98.8 462.5,99 462.7,98.9 462.8,98.9 463,99 463.1,98.8 463.3,99 463.6,98.9 463.7,99.1 463.9,98.9 464.3,99.1 464.5,98.9 465.1,99.1 465.2,99 465.4,99.2 465.5,99 465.8,99 466.1,99.2 466.3,99.1 466.4,99.2 466.5,99.1 466.8,99.1 467.3,99.2 467.4,99 467.6,99.2 467.7,99.3 468,99.1 468.2,99.1 468.3,99.1 468.5,99.1 468.6,99.3 468.8,99.3 469.2,99.4 469.5,99.3 470.1,99.3 470.3,99.2 470.4,99.3 470.6,99.3 470.7,99.4 470.9,99.2 471.2,99.2 471.3,99.4 471.5,99.5 471.7,99.3 471.9,99.5 472.3,99.3 472.9,99.4 473.2,99.5 473.4,99.3 473.5,99.4 473.7,99.3 473.8,99.3 474,99.5 474.1,99.5 474.3,99.6 474.6,99.3 475,99.6 475.2,99.6 475.3,99.5 475.6,99.4 475.8,99.5 475.9,99.4 476.4,99.3 476.5,99.6 476.6,99.4 476.8,99.7 476.9,99.4 477.1,99.6 477.2,99.4 477.4,99.4 477.5,99.6 477.7,99.5 477.8,99.6 478,99.4 478.1,99.4 478.3,99.6 478.7,99.6 478.9,99.4 479,99.6 479.3,99.6 479.5,99.7 479.6,99.5 479.8,99.7 479.9,99.7 480.1,99.4 480.2,99.4 480.4,99.6 480.5,99.7 480.7,99.5 481,99.7 481.1,99.5 481.3,99.7 481.5,99.5 481.8,99.7 482,99.6 482.1,99.7 482.3,99.5 482.4,99.7 482.6,99.6 482.9,99.7 483.2,99.6 483.5,99.8 484.1,99.5 484.2,99.8 484.4,99.7 484.5,99.8 484.7,99.6 485,99.8 485.4,99.6 485.6,99.7 485.7,99.8 485.9,99.7 486,99.8 486.2,99.7 486.3,99.8 486.4,99.8 486.7,99.6 487.5,99.8 487.6,99.6 487.8,99.8 488.1,99.8 488.4,99.7 488.5,99.8 488.8,99.8 489,99.9 489.3,99.6 489.6,99.8 489.7,99.7 489.9,99.8 490,99.9 490.2,99.7 490.5,99.8 490.8,99.7 490.9,99.7 491.1,99.9 491.2,99.9 491.5,99.7 491.6,99.9 491.8,99.9 491.9,99.7 492.2,99.9 492.4,99.9 492.7,99.8 492.8,99.8 493,99.7 493.3,99.7 493.4,99.9 493.6,99.8 493.7,99.8 494,99.8 494.3,99.7 494.5,100 494.6,99.8 494.8,99.7 494.9,99.9 495.1,99.9 495.2,99.7 495.4,99.9 495.5,99.8 495.7,99.8 495.8,99.7 496,99.7 496.1,100 496.4,99.8 496.5,99.9 496.7,99.8 496.8,99.9 497,99.8 497.1,100 497.4,100 497.6,100 497.7,99.8 497.9,99.7 498.5,99.7 498.8,100 498.9,99.9 499.1,100 499.2,100 499.4,99.7 499.5,99.9 499.8,99.8 500,100 500.1,99.8 500.6,100 500.9,99.9 501,99.9 501.2,99.8 501.3,100 501.4,100 501.6,99.8 501.7,99.8 502,99.9 502.2,100 502.5,100 502.6,99.8 502.8,100 503.1,100 503.2,100.1 503.4,99.8 503.5,99.8 503.7,100 503.8,100.1 504.1,99.9 504.4,100 504.6,99.8 504.9,99.9 505,99.8 505.2,99.9 505.3,99.8 505.6,99.8 505.8,100 505.9,99.8 506.1,100 506.2,99.9 506.3,99.8 506.5,100.1 506.6,99.9 506.8,100.1 507.1,100 507.2,99.8 507.4,99.9 507.5,99.7 507.7,100 508,99.7 508.3,99.3 508.4,99.3 508.7,98.5 509,97.3 509.3,95.7 509.5,94.6 509.6,93.2 509.8,91.9 510.1,88.2 510.5,81.9 510.7,79.5 510.8,77.2 511.1,73.2 511.2,71.7 511.4,70 511.5,69.2 511.7,68.3 511.8,68.3 512,68.5 512.1,69 512.3,70.1 512.4,71.5 512.6,73.2 512.7,75.1 512.9,77.3 513,79.7 513.3,84.2 513.5,86.1 513.8,90.3 513.9,91.7 514.1,93.4 514.2,94.6 514.4,95.9 514.5,96.5 514.7,97.5 515,98.4 515.1,98.8 515.3,99.3 515.6,99.5 515.9,100 516,99.8 516.1,100 516.3,99.9 516.4,99.9 516.6,100.1 516.7,100.1 516.9,100 517.2,99.9 517.3,100.1 517.8,100 518.1,100.1 518.4,100.1 518.7,99.9 518.8,100.1 519,100.1 519.1,100.1 519.3,99.9 519.4,100.2 519.6,100 519.7,100.2 519.9,100.2 520.2,99.9 520.3,100.2 520.5,100 520.6,100.1 520.8,99.9 520.9,99.9 521,100 521.3,99.7 521.6,99.7 521.8,99.4 521.9,99.4 522.2,99 522.4,98.7 522.5,98.6 522.8,98.1 523,97.6 523.1,97.5 523.3,97.1 523.4,96.9 523.6,96.4 523.7,96.4 523.9,96.2 524,95.9 524.3,95.7 524.5,95.6 524.6,95.5 524.8,95.9 524.9,95.8 525.2,96.2 525.4,96.5 525.5,96.9 525.7,97 525.8,97.3 525.9,97.8 526.2,98.2 526.4,98.6 526.8,99.3 527,99.3 527.1,99.7 527.3,99.7 527.4,99.6 527.7,99.9 528,100 528.2,100 528.3,100.1 528.5,100 528.6,100.2 528.8,100.2 528.9,100.1 529.1,100.2 529.2,100.2 529.4,100.1 529.5,100.2 530.9,100.2 532,100.2 532.2,100.1 532.3,100.2 532.8,100.1 533.4,100.2 533.5,100.1 533.8,100.2 534,100 534.1,100.1 534.3,100.2 534.6,100.2 534.7,100.1 535.2,100.1 535.3,99.8 535.5,99.9 535.6,99.7 535.8,99.7 535.9,99.5 536.2,99.6 536.5,99.2 536.6,99.2 536.8,99.1 536.9,99.1 537.1,98.9 537.2,98.8 537.4,98.9 537.5,98.7 537.8,98.9 538.1,98.7 538.4,98.9 538.6,98.8 539,99.1 539.6,99.4 539.9,99.8 540.4,100 540.5,99.9 540.7,100.1 540.8,100.1" fill="none" stroke="#333" stroke-width="0.75" stroke-linejoin="round" />
<text x="396" y="59.2" font-family="&quot;Liberation Sans&quot;, sans-serif" font-size="4.5" font-weight="normal" text-anchor="middle" fill="#111" textLength="2.34" lengthAdjust="spacingAndGlyphs" >C</text>
<text x="397.5" y="67.7" font-family="&quot;Liberation Sans&quot;, sans-serif" font-size="4.5" font-weight="normal" text-anchor="middle" fill="#111" textLength="4.14" lengthAdjust="spacingAndGlyphs" >Ca</text>
<text x="395.3" y="75.2" font-family="&quot;Liberation Sans&quot;, sans-serif" font-size="4.5" font-weight="normal" text-anchor="middle" fill="#111" textLength="4.14" lengthAdjust="spacingAndGlyphs" >Ca</text>
<text x="400.6" y="80.6" font-family="&quot;Liberation Sans&quot;, sans-serif" font-size="4.5" font-weight="normal" text-anchor="middle" fill="#111" textLength="2.52" lengthAdjust="spacingAndGlyphs" >O</text>
<text x="406.3" y="64.3" font-family="&quot;Liberation Sans&quot;, sans-serif" font-size="4.5" font-weight="normal" text-anchor="middle" fill="#111" textLength="4.14" lengthAdjust="spacingAndGlyphs" >Cu</text>
<text x="427.3" y="64.3" font-family="&quot;Liberation Sans&quot;, sans-serif" font-size="4.5" font-weight="normal" text-anchor="middle" fill="#111" textLength="3.96" lengthAdjust="spacingAndGlyphs" >Pb</text>
<text x="419.3" y="78.8" font-family="&quot;Liberation Sans&quot;, sans-serif" font-size="4.5" font-weight="normal" text-anchor="middle" fill="#111" textLength="3.96" lengthAdjust="spacingAndGlyphs" >Pb</text>
<text x="418.7" y="85.1" font-family="&quot;Liberation Sans&quot;, sans-serif" font-size="4.5" font-weight="normal" text-anchor="middle" fill="#111" textLength="2.88" lengthAdjust="spacingAndGlyphs" >Si</text>
<text x="414.3" y="91.6" font-family="&quot;Liberation Sans&quot;, sans-serif" font-size="4.5" font-weight="normal" text-anchor="middle" fill="#111" textLength="3.24" lengthAdjust="spacingAndGlyphs" >Br</text>
<text x="431.5" y="80.6" font-family="&quot;Liberation Sans&quot;, sans-serif" font-size="4.5" font-weight="normal" text-anchor="middle" fill="#111" textLength="3.96" lengthAdjust="spacingAndGlyphs" >Pb</text>
<text x="431.6" y="89.1" font-family="&quot;Liberation Sans&quot;, sans-serif" font-size="4.5" font-weight="normal" text-anchor="middle" fill="#111" textLength="3.06" lengthAdjust="spacingAndGlyphs" >Cl</text>
<text x="446.5" y="90.2" font-family="&quot;Liberation Sans&quot;, sans-serif" font-size="4.5" font-weight="normal" text-anchor="middle" fill="#111" textLength="4.14" lengthAdjust="spacingAndGlyphs" >Ca</text>
<text x="451.8" y="94.8" font-family="&quot;Liberation Sans&quot;, sans-serif" font-size="4.5" font-weight="normal" text-anchor="middle" fill="#111" textLength="4.14" lengthAdjust="spacingAndGlyphs" >Ca</text>
<text x="511.9" y="64.4" font-family="&quot;Liberation Sans&quot;, sans-serif" font-size="4.5" font-weight="normal" text-anchor="middle" fill="#111" textLength="4.14" lengthAdjust="spacingAndGlyphs" >Cu</text>
<text x="524.2" y="90.8" font-family="&quot;Liberation Sans&quot;, sans-serif" font-size="4.5" font-weight="normal" text-anchor="middle" fill="#111" textLength="4.14" lengthAdjust="spacingAndGlyphs" >Cu</text>
<text x="528.5" y="95.5" font-family="&quot;Liberation Sans&quot;, sans-serif" font-size="4.5" font-weight="normal" text-anchor="middle" fill="#111" textLength="3.96" lengthAdjust="spacingAndGlyphs" >Pb</text>
<rect x="391.5" y="120.6" width="152" height="111.8" fill="#fff" stroke="#6a6a6a" stroke-width="1.2" />
<rect x="391.5" y="215.6" width="152" height="1.5" fill="#6a6a6a" stroke="none" stroke-width="1" />
<rect x="391.5" y="217.1" width="152" height="1.2" fill="#dcdcdc" stroke="none" stroke-width="1" />
<line x1="391.4" y1="217.1" x2="391.4" y2="219.7" stroke="#777" stroke-width="0.4" />
<text x="391.4" y="224" font-family="&quot;Liberation Sans&quot;, sans-serif" font-size="5.1" font-weight="normal" text-anchor="middle" fill="#222" >0</text>
<line x1="392.88" y1="217.1" x2="392.88" y2="218.2" stroke="#777" stroke-width="0.4" />
<line x1="394.37" y1="217.1" x2="394.37" y2="218.2" stroke="#777" stroke-width="0.4" />
<line x1="395.85" y1="217.1" x2="395.85" y2="218.2" stroke="#777" stroke-width="0.4" />
<line x1="397.34" y1="217.1" x2="397.34" y2="218.2" stroke="#777" stroke-width="0.4" />
<line x1="398.82" y1="217.1" x2="398.82" y2="218.9" stroke="#777" stroke-width="0.4" />
<line x1="400.31" y1="217.1" x2="400.31" y2="218.2" stroke="#777" stroke-width="0.4" />
<line x1="401.79" y1="217.1" x2="401.79" y2="218.2" stroke="#777" stroke-width="0.4" />
<line x1="403.28" y1="217.1" x2="403.28" y2="218.2" stroke="#777" stroke-width="0.4" />
<line x1="404.76" y1="217.1" x2="404.76" y2="218.2" stroke="#777" stroke-width="0.4" />
<line x1="406.25" y1="217.1" x2="406.25" y2="219.7" stroke="#777" stroke-width="0.4" />
<text x="406.25" y="224" font-family="&quot;Liberation Sans&quot;, sans-serif" font-size="5.1" font-weight="normal" text-anchor="middle" fill="#222" >1</text>
<line x1="407.73" y1="217.1" x2="407.73" y2="218.2" stroke="#777" stroke-width="0.4" />
<line x1="409.22" y1="217.1" x2="409.22" y2="218.2" stroke="#777" stroke-width="0.4" />
<line x1="410.7" y1="217.1" x2="410.7" y2="218.2" stroke="#777" stroke-width="0.4" />
<line x1="412.19" y1="217.1" x2="412.19" y2="218.2" stroke="#777" stroke-width="0.4" />
<line x1="413.67" y1="217.1" x2="413.67" y2="218.9" stroke="#777" stroke-width="0.4" />
<line x1="415.16" y1="217.1" x2="415.16" y2="218.2" stroke="#777" stroke-width="0.4" />
<line x1="416.64" y1="217.1" x2="416.64" y2="218.2" stroke="#777" stroke-width="0.4" />
<line x1="418.13" y1="217.1" x2="418.13" y2="218.2" stroke="#777" stroke-width="0.4" />
<line x1="419.61" y1="217.1" x2="419.61" y2="218.2" stroke="#777" stroke-width="0.4" />
<line x1="421.1" y1="217.1" x2="421.1" y2="219.7" stroke="#777" stroke-width="0.4" />
<text x="421.1" y="224" font-family="&quot;Liberation Sans&quot;, sans-serif" font-size="5.1" font-weight="normal" text-anchor="middle" fill="#222" >2</text>
<line x1="422.58" y1="217.1" x2="422.58" y2="218.2" stroke="#777" stroke-width="0.4" />
<line x1="424.07" y1="217.1" x2="424.07" y2="218.2" stroke="#777" stroke-width="0.4" />
<line x1="425.55" y1="217.1" x2="425.55" y2="218.2" stroke="#777" stroke-width="0.4" />
<line x1="427.04" y1="217.1" x2="427.04" y2="218.2" stroke="#777" stroke-width="0.4" />
<line x1="428.52" y1="217.1" x2="428.52" y2="218.9" stroke="#777" stroke-width="0.4" />
<line x1="430.01" y1="217.1" x2="430.01" y2="218.2" stroke="#777" stroke-width="0.4" />
<line x1="431.5" y1="217.1" x2="431.5" y2="218.2" stroke="#777" stroke-width="0.4" />
<line x1="432.98" y1="217.1" x2="432.98" y2="218.2" stroke="#777" stroke-width="0.4" />
<line x1="434.46" y1="217.1" x2="434.46" y2="218.2" stroke="#777" stroke-width="0.4" />
<line x1="435.95" y1="217.1" x2="435.95" y2="219.7" stroke="#777" stroke-width="0.4" />
<text x="435.95" y="224" font-family="&quot;Liberation Sans&quot;, sans-serif" font-size="5.1" font-weight="normal" text-anchor="middle" fill="#222" >3</text>
<line x1="437.43" y1="217.1" x2="437.43" y2="218.2" stroke="#777" stroke-width="0.4" />
<line x1="438.92" y1="217.1" x2="438.92" y2="218.2" stroke="#777" stroke-width="0.4" />
<line x1="440.4" y1="217.1" x2="440.4" y2="218.2" stroke="#777" stroke-width="0.4" />
<line x1="441.89" y1="217.1" x2="441.89" y2="218.2" stroke="#777" stroke-width="0.4" />
<line x1="443.38" y1="217.1" x2="443.38" y2="218.9" stroke="#777" stroke-width="0.4" />
<line x1="444.86" y1="217.1" x2="444.86" y2="218.2" stroke="#777" stroke-width="0.4" />
<line x1="446.34" y1="217.1" x2="446.34" y2="218.2" stroke="#777" stroke-width="0.4" />
<line x1="447.83" y1="217.1" x2="447.83" y2="218.2" stroke="#777" stroke-width="0.4" />
<line x1="449.31" y1="217.1" x2="449.31" y2="218.2" stroke="#777" stroke-width="0.4" />
<line x1="450.8" y1="217.1" x2="450.8" y2="219.7" stroke="#777" stroke-width="0.4" />
<text x="450.8" y="224" font-family="&quot;Liberation Sans&quot;, sans-serif" font-size="5.1" font-weight="normal" text-anchor="middle" fill="#222" >4</text>
<line x1="452.28" y1="217.1" x2="452.28" y2="218.2" stroke="#777" stroke-width="0.4" />
<line x1="453.77" y1="217.1" x2="453.77" y2="218.2" stroke="#777" stroke-width="0.4" />
<line x1="455.25" y1="217.1" x2="455.25" y2="218.2" stroke="#777" stroke-width="0.4" />
<line x1="456.74" y1="217.1" x2="456.74" y2="218.2" stroke="#777" stroke-width="0.4" />
<line x1="458.22" y1="217.1" x2="458.22" y2="218.9" stroke="#777" stroke-width="0.4" />
<line x1="459.71" y1="217.1" x2="459.71" y2="218.2" stroke="#777" stroke-width="0.4" />
<line x1="461.19" y1="217.1" x2="461.19" y2="218.2" stroke="#777" stroke-width="0.4" />
<line x1="462.68" y1="217.1" x2="462.68" y2="218.2" stroke="#777" stroke-width="0.4" />
<line x1="464.16" y1="217.1" x2="464.16" y2="218.2" stroke="#777" stroke-width="0.4" />
<line x1="465.65" y1="217.1" x2="465.65" y2="219.7" stroke="#777" stroke-width="0.4" />
<text x="465.65" y="224" font-family="&quot;Liberation Sans&quot;, sans-serif" font-size="5.1" font-weight="normal" text-anchor="middle" fill="#222" >5</text>
<line x1="467.13" y1="217.1" x2="467.13" y2="218.2" stroke="#777" stroke-width="0.4" />
<line x1="468.62" y1="217.1" x2="468.62" y2="218.2" stroke="#777" stroke-width="0.4" />
<line x1="470.1" y1="217.1" x2="470.1" y2="218.2" stroke="#777" stroke-width="0.4" />
<line x1="471.59" y1="217.1" x2="471.59" y2="218.2" stroke="#777" stroke-width="0.4" />
<line x1="473.07" y1="217.1" x2="473.07" y2="218.9" stroke="#777" stroke-width="0.4" />
<line x1="474.56" y1="217.1" x2="474.56" y2="218.2" stroke="#777" stroke-width="0.4" />
<line x1="476.04" y1="217.1" x2="476.04" y2="218.2" stroke="#777" stroke-width="0.4" />
<line x1="477.53" y1="217.1" x2="477.53" y2="218.2" stroke="#777" stroke-width="0.4" />
<line x1="479.01" y1="217.1" x2="479.01" y2="218.2" stroke="#777" stroke-width="0.4" />
<line x1="480.5" y1="217.1" x2="480.5" y2="219.7" stroke="#777" stroke-width="0.4" />
<text x="480.5" y="224" font-family="&quot;Liberation Sans&quot;, sans-serif" font-size="5.1" font-weight="normal" text-anchor="middle" fill="#222" >6</text>
<line x1="481.99" y1="217.1" x2="481.99" y2="218.2" stroke="#777" stroke-width="0.4" />
<line x1="483.47" y1="217.1" x2="483.47" y2="218.2" stroke="#777" stroke-width="0.4" />
<line x1="484.95" y1="217.1" x2="484.95" y2="218.2" stroke="#777" stroke-width="0.4" />
<line x1="486.44" y1="217.1" x2="486.44" y2="218.2" stroke="#777" stroke-width="0.4" />
<line x1="487.92" y1="217.1" x2="487.92" y2="218.9" stroke="#777" stroke-width="0.4" />
<line x1="489.41" y1="217.1" x2="489.41" y2="218.2" stroke="#777" stroke-width="0.4" />
<line x1="490.89" y1="217.1" x2="490.89" y2="218.2" stroke="#777" stroke-width="0.4" />
<line x1="492.38" y1="217.1" x2="492.38" y2="218.2" stroke="#777" stroke-width="0.4" />
<line x1="493.86" y1="217.1" x2="493.86" y2="218.2" stroke="#777" stroke-width="0.4" />
<line x1="495.35" y1="217.1" x2="495.35" y2="219.7" stroke="#777" stroke-width="0.4" />
<text x="495.35" y="224" font-family="&quot;Liberation Sans&quot;, sans-serif" font-size="5.1" font-weight="normal" text-anchor="middle" fill="#222" >7</text>
<line x1="496.83" y1="217.1" x2="496.83" y2="218.2" stroke="#777" stroke-width="0.4" />
<line x1="498.32" y1="217.1" x2="498.32" y2="218.2" stroke="#777" stroke-width="0.4" />
<line x1="499.8" y1="217.1" x2="499.8" y2="218.2" stroke="#777" stroke-width="0.4" />
<line x1="501.29" y1="217.1" x2="501.29" y2="218.2" stroke="#777" stroke-width="0.4" />
<line x1="502.77" y1="217.1" x2="502.77" y2="218.9" stroke="#777" stroke-width="0.4" />
<line x1="504.26" y1="217.1" x2="504.26" y2="218.2" stroke="#777" stroke-width="0.4" />
<line x1="505.75" y1="217.1" x2="505.75" y2="218.2" stroke="#777" stroke-width="0.4" />
<line x1="507.23" y1="217.1" x2="507.23" y2="218.2" stroke="#777" stroke-width="0.4" />
<line x1="508.71" y1="217.1" x2="508.71" y2="218.2" stroke="#777" stroke-width="0.4" />
<line x1="510.2" y1="217.1" x2="510.2" y2="219.7" stroke="#777" stroke-width="0.4" />
<text x="510.2" y="224" font-family="&quot;Liberation Sans&quot;, sans-serif" font-size="5.1" font-weight="normal" text-anchor="middle" fill="#222" >8</text>
<line x1="511.68" y1="217.1" x2="511.68" y2="218.2" stroke="#777" stroke-width="0.4" />
<line x1="513.17" y1="217.1" x2="513.17" y2="218.2" stroke="#777" stroke-width="0.4" />
<line x1="514.65" y1="217.1" x2="514.65" y2="218.2" stroke="#777" stroke-width="0.4" />
<line x1="516.14" y1="217.1" x2="516.14" y2="218.2" stroke="#777" stroke-width="0.4" />
<line x1="517.62" y1="217.1" x2="517.62" y2="218.9" stroke="#777" stroke-width="0.4" />
<line x1="519.11" y1="217.1" x2="519.11" y2="218.2" stroke="#777" stroke-width="0.4" />
<line x1="520.6" y1="217.1" x2="520.6" y2="218.2" stroke="#777" stroke-width="0.4" />
<line x1="522.08" y1="217.1" x2="522.08" y2="218.2" stroke="#777" stroke-width="0.4" />
<line x1="523.56" y1="217.1" x2="523.56" y2="218.2" stroke="#777" stroke-width="0.4" />
<line x1="525.05" y1="217.1" x2="525.05" y2="219.7" stroke="#777" stroke-width="0.4" />
<text x="525.05" y="224" font-family="&quot;Liberation Sans&quot;, sans-serif" font-size="5.1" font-weight="normal" text-anchor="middle" fill="#222" >9</text>
<line x1="526.53" y1="217.1" x2="526.53" y2="218.2" stroke="#777" stroke-width="0.4" />
<line x1="528.02" y1="217.1" x2="528.02" y2="218.2" stroke="#777" stroke-width="0.4" />
<line x1="529.5" y1="217.1" x2="529.5" y2="218.2" stroke="#777" stroke-width="0.4" />
<line x1="530.99" y1="217.1" x2="530.99" y2="218.2" stroke="#777" stroke-width="0.4" />
<line x1="532.47" y1="217.1" x2="532.47" y2="218.9" stroke="#777" stroke-width="0.4" />
<line x1="533.96" y1="217.1" x2="533.96" y2="218.2" stroke="#777" stroke-width="0.4" />
<line x1="535.44" y1="217.1" x2="535.44" y2="218.2" stroke="#777" stroke-width="0.4" />
<line x1="536.93" y1="217.1" x2="536.93" y2="218.2" stroke="#777" stroke-width="0.4" />
<line x1="538.41" y1="217.1" x2="538.41" y2="218.2" stroke="#777" stroke-width="0.4" />
<line x1="539.9" y1="217.1" x2="539.9" y2="219.7" stroke="#777" stroke-width="0.4" />
<text x="539.9" y="224" font-family="&quot;Liberation Sans&quot;, sans-serif" font-size="5.1" font-weight="normal" text-anchor="middle" fill="#222" textLength="3.9" lengthAdjust="spacingAndGlyphs" >10</text>
<text x="542.5" y="229.8" font-family="&quot;Liberation Sans&quot;, sans-serif" font-size="4.3" font-weight="normal" text-anchor="end" fill="#333" textLength="4.8" lengthAdjust="spacingAndGlyphs" >keV</text>
<text x="391.8" y="230.6" font-family="&quot;Liberation Sans&quot;, sans-serif" font-size="5.7" font-weight="normal" text-anchor="start" fill="#111" textLength="70.8" lengthAdjust="spacingAndGlyphs" >Full Scale 8840 cts  Cursor: -0.028 keV (506 cts)</text>
<text x="542.6" y="125.5" font-family="&quot;Liberation Sans&quot;, sans-serif" font-size="4.6" font-weight="normal" text-anchor="end" fill="#1a1a1a" textLength="17.6" lengthAdjust="spacingAndGlyphs" >Spectrum 1</text>
<text x="529.65" y="140.6" font-family="&quot;Liberation Serif&quot;, serif" font-size="13.3" font-weight="bold" text-anchor="start" fill="#000" textLength="8.5" lengthAdjust="spacingAndGlyphs" >f)</text>
<path d="M391.4,209.5 391.7,206.1 391.8,204.9 392,204.4 392.1,204.8 392.3,206.1 392.4,207.7 392.6,209.5 392.9,212.4 393,213.3 393.2,213.5 393.3,213.6 393.5,213 393.6,210.8 393.8,209.5 393.9,207 394.1,203.9 394.2,199.6 394.4,194.3 394.5,188.3 394.7,180.9 395,164.8 395.1,157 395.3,150.1 395.4,144.4 395.6,140.9 395.7,139.9 395.9,141.1 396,144.4 396.2,149.9 396.3,156.9 396.4,164.8 396.6,173 396.7,180.9 396.9,188.1 397,194.3 397.2,199.6 397.3,203.7 397.5,206.9 397.6,209 397.8,210.7 397.9,211.6 398.1,212.2 398.2,212.2 398.4,212.4 398.5,212 398.7,211.9 399,211 399.1,210.8 399.3,210.4 399.4,210.1 399.9,210.3 400,210.5 400.5,211.6 400.9,212.1 401.2,212 401.3,212.1 401.5,212.1 401.6,211.9 401.9,211.9 402.2,212.1 402.4,212.4 402.5,212.5 402.7,212.6 402.8,213 403,212.9 403.1,213.2 403.4,213.4 403.6,213.2 403.9,213.4 404,213.2 404.2,213.2 404.3,213.3 404.5,213.3 404.6,213.4 404.9,213.3 405.1,213.4 405.2,213.3 405.5,213.3 405.8,213.2 406,213.3 406.1,213.2 406.2,213.3 406.7,213.1 407.6,213.2 407.7,213.1 408,213 408.2,213.1 408.3,212.8 408.6,212.8 408.8,212.5 408.9,212.4 409.1,212.5 409.5,211.9 409.7,212 409.8,211.9 410.3,212 410.6,211.9 411,212.4 411.3,212.4 411.4,212.6 411.7,212.5 411.9,212.7 412.2,212.3 412.5,212.2 412.6,211.9 412.8,211.9 412.9,211.6 413.2,211.6 413.4,211.4 413.5,211.4 413.7,211.3 414,211.6 414.1,211.6 414.3,211.9 414.4,212 414.6,212.2 415.2,212.3 415.3,212.5 415.5,212.3 416.1,212 416.2,211.7 416.3,211.6 416.5,211.1 416.6,210.9 416.8,211 416.9,210.7 417.1,210.7 417.2,210.6 417.4,210.5 417.7,210.7 417.8,211.1 418.1,211.3 418.4,211.7 418.6,211.7 418.7,212.1 418.9,212 419,212.2 419.2,212 419.3,211.9 419.6,211.4 419.8,211.5 419.9,211.2 420.1,210.7 420.2,210.5 420.4,210.1 420.5,209.5 420.8,208.8 421,208.2 421.1,207.8 421.2,207.1 421.5,206.2 421.7,205.6 421.8,205.2 422,205.1 422.1,204.7 422.3,204.6 422.4,204.3 422.6,204.2 422.9,204.4 423,204.8 423.2,204.9 423.3,205.3 423.5,205.6 423.6,206.2 424.2,208 424.4,208.6 425,209.8 425.1,210 425.3,210 425.4,210.3 425.7,210.2 425.9,210.4 426,210.3 426.1,210.4 426.3,210.6 426.4,210.5 426.9,211.3 427,211.3 427.3,211.9 427.5,212 427.6,212.4 427.8,212.3 427.9,212.7 428.2,212.6 428.4,212.6 428.5,212.5 428.7,212.6 428.8,212.4 429,212.5 429.4,211.7 429.6,211.7 429.7,211.4 429.9,211.4 430,211.1 430.5,211 430.6,211.3 430.8,211.3 431,211.7 431.2,211.9 431.3,212.1 431.5,212.2 431.6,212.4 431.8,212.8 431.9,212.7 432.1,212.9 432.2,212.9 432.4,213.1 432.8,213.1 433,213 433.1,213.1 433.4,212.9 433.6,213.1 433.7,212.8 434,212.8 434.5,212.4 434.6,212 434.8,211.9 434.9,211.7 435.1,211.7 435.4,211.4 435.7,211.4 435.8,211.5 435.9,211.4 436.1,211.7 436.2,211.7 436.4,211.9 436.5,212 436.7,212.1 436.8,212.6 437.1,212.8 437.3,212.8 438,213.4 438.2,213.3 438.5,213.6 438.6,213.5 438.8,213.7 438.9,213.6 439.1,213.7 439.2,213.6 439.5,213.7 439.8,213.5 440,213.8 440.1,213.8 440.4,213.6 440.6,213.8 440.9,213.6 441.1,213.7 441.3,213.9 441.4,213.7 441.6,213.9 441.7,213.9 441.9,213.7 442,213.9 442.2,213.8 442.5,213.9 442.8,213.7 442.9,213.9 443.1,213.7 443.2,213.8 443.7,213.3 444,212.6 444.1,212 444.3,211.6 444.7,209.3 444.9,208 445,207.1 445.2,205.7 445.3,204.8 445.6,202.5 445.8,201.8 446,200.8 446.2,200.6 446.3,200.7 446.5,201 446.6,201.8 446.9,203.6 447.2,205.9 447.4,207.2 447.5,208.3 448,211.1 448.3,212.5 448.6,213 448.7,213.5 448.9,213.4 449,213.6 449.2,213.5 449.3,213.6 449.5,213.4 449.6,213.4 449.8,213 449.9,213 450.2,212.6 450.5,212.5 450.7,212.2 451.2,212.2 451.5,212.5 451.7,212.8 452,213 452.3,213.5 452.9,214 453,214.4 453.2,214.4 453.3,214.2 453.5,214.5 453.6,214.6 453.9,214.4 454.1,214.5 454.4,214.5 454.5,214.6 454.7,214.4 454.8,214.7 455.1,214.6 455.3,214.7 455.6,214.6 456,214.5 456.1,214.7 456.3,214.8 456.4,214.6 456.6,214.6 456.9,214.8 457,214.8 457.2,214.6 457.3,214.8 457.6,214.8 457.9,214.6 458.1,214.8 458.2,214.7 458.5,214.8 458.7,214.7 458.8,214.9 459,214.7 459.1,214.6 459.3,214.8 460,214.9 460.2,214.8 460.3,214.8 460.5,214.7 460.7,214.8 460.9,214.7 461,214.9 461.2,214.7 461.5,215 461.6,214.7 461.8,214.7 461.9,214.8 462.1,214.8 462.2,214.9 462.4,214.7 462.5,215 462.8,215 463.1,214.8 463.3,214.9 463.9,214.9 464.3,215 464.5,214.8 464.9,215 465.4,214.8 465.6,214.9 465.8,215.1 466.4,215.1 466.5,215 466.7,215.1 466.8,214.9 467,215 467.3,214.9 467.6,215.1 467.7,215 467.9,215.1 468,215 468.2,215 468.3,215.1 468.5,214.9 468.8,215.1 469.1,214.9 469.2,215.1 469.4,215 469.5,215.1 470.1,215 470.3,214.9 470.4,215 470.6,215.2 470.8,214.9 471,215.2 471.1,215 471.3,214.9 471.4,215.1 471.6,215 471.9,215.1 472,215 472.2,215.1 472.3,215 472.6,215.1 472.8,215 472.9,215.1 473.1,215 473.4,215.2 473.5,215.1 473.8,215.2 474,215 474.1,215.3 474.3,215.2 474.4,215 474.6,215.2 474.9,215 475,215.3 475.2,215.1 475.3,215.2 475.5,215 475.6,215.2 475.7,215 476,215.1 476.2,215 476.3,215.2 476.5,215.1 476.8,215.2 476.9,215.1 477.1,215.3 477.2,215.2 477.4,215.3 477.5,215.2 477.7,215.3 477.8,215.3 478,215.1 478.1,215.2 478.3,215.1 478.4,215.2 478.7,215.3 478.9,215.1 479.3,215.3 479.5,215.2 479.6,215 479.8,215.2 479.9,215.1 480.2,215.3 480.4,215.1 480.5,215.3 480.8,215.1 481.1,215.2 481.2,215.3 481.5,215.1 481.8,215.1 482,215.3 482.1,215.1 482.3,215.2 482.4,215.1 482.6,215.3 482.9,215.1 483,215.3 483.2,215.2 483.6,215.3 483.8,215 483.9,215.1 484.1,215 484.4,215.2 484.5,215.1 484.7,214.9 484.8,214.9 485,215 485.3,214.8 485.4,214.8 485.5,214.7 485.7,214.8 485.8,214.7 486,214.8 486.3,214.5 486.4,214.6 486.6,214.6 486.7,214.8 487,214.6 487.6,214.9 488.1,214.9 488.2,215.1 488.5,215 488.8,215.3 489,215.1 489.1,215.1 489.3,215.3 489.4,215.2 489.7,215.2 489.9,215.2 490,215.3 490.2,215.3 490.3,215.4 490.4,215.4 490.6,215.1 490.9,215.3 491.5,215.3 491.8,215.2 491.9,215.4 492.2,215.4 492.5,215.2 492.7,215.4 493,215.3 493.1,215.3 493.3,215.2 493.4,215.3 493.7,215.2 494,215.2 494.2,215.4 494.3,215.3 494.8,215.2 495.1,215.2 495.2,215.1 495.3,215.4 495.5,215.3 495.8,215.3 496.2,215.2 496.5,215.2 496.7,215.4 496.8,215.3 497,215.4 497.1,215.3 497.3,215.4 497.6,215.2 497.9,215.3 498,215.5 498.2,215.3 498.3,215.4 498.5,215.3 498.6,215.4 498.8,215.2 499.1,215.4 499.2,215.3 499.5,215.2 499.8,215.3 500,215.4 500.1,215.2 500.3,215.3 500.4,215.2 500.7,215.4 501,215.2 501.3,215.5 501.6,215.2 501.7,215.4 501.9,215.5 502.2,215.2 502.5,215.4 502.6,215.5 502.8,215.4 502.9,215.5 503.1,215.3 503.4,215.4 503.7,215.3 503.8,215.4 504.1,215.2 504.3,215.3 504.4,215.2 504.6,215.4 504.7,215.3 505,215.4 505.2,215.3 505.3,215.4 505.4,215.2 505.6,215.5 505.7,215.4 505.9,215.5 506,215.2 506.2,215.4 506.3,215.4 506.6,215.3 506.9,215.3 507.1,215.5 507.2,215.3 507.4,215.5 507.5,215.4 508.3,215.4 508.4,215.3 508.6,215.5 508.7,215.3 508.9,215.5 509.2,215.5 509.3,215.3 509.5,215.5 509.6,215.5 509.9,215.3 510.2,215.5 510.3,215.3 510.5,215.3 510.8,215.5 510.9,215.5 511.1,215.4 511.2,215.5 511.4,215.3 511.5,215.5 511.7,215.3 512.1,215.3 512.3,215.4 512.4,215.4 512.6,215.3 512.7,215.5 513,215.3 513.2,215.3 513.3,215.5 513.5,215.5 513.6,215.3 513.8,215.3 513.9,215.5 514.1,215.3 514.2,215.5 514.4,215.4 514.5,215.5 514.7,215.4 514.8,215.5 515.1,215.4 515.2,215.5 515.4,215.3 515.5,215.5 515.7,215.3 515.8,215.5 516,215.4 516.1,215.5 516.3,215.3 516.4,215.5 516.6,215.4 516.9,215.5 517,215.5 517.2,215.4 517.6,215.4 517.9,215.4 518.1,215.5 518.4,215.4 518.5,215.5 518.7,215.4 518.8,215.5 519,215.4 519.1,215.5 519.3,215.5 519.4,215.4 519.6,215.5 519.7,215.5 519.9,215.4 520.3,215.5 520.4,215.4 520.6,215.5 521.2,215.5 521.3,215.4 521.5,215.5 521.6,215.4 521.9,215.5 522.1,215.4 522.2,215.5 522.5,215.4 522.7,215.3 522.8,215.4 523,215.5 523.1,215.3 523.3,215.5 523.4,215.4 523.6,215.5 523.7,215.4 524,215.5 524.2,215.4 524.6,215.5 524.9,215.5 525,215.4 525.5,215.5 525.6,215.4 525.8,215.5 525.9,215.4 526.1,215.5 526.4,215.4 526.5,215.5 526.8,215.5 527,215.4 527.1,215.5 527.3,215.4 527.4,215.5 527.6,215.4 527.7,215.5 527.9,215.4 528.2,215.5 528.3,215.4 528.8,215.5 529.1,215.4 529.5,215.5 530.2,215.4 530.4,215.5 530.8,215.5 531,215.4 531.1,215.5 532.2,215.5 532.6,215.4 532.8,215.5 532.9,215.3 533.2,215.2 533.4,215.1 533.5,215.3 533.7,214.9 534,215.1 534.1,214.8 534.3,214.9 534.9,214.5 535,214.7 535.3,214.7 535.4,214.4 535.6,214.6 535.7,214.5 535.9,214.7 536.2,214.6 536.3,214.9 536.5,214.6 536.6,214.9 536.8,215 536.9,215 537.2,215.2 537.4,215.1 537.7,215.3 537.8,215.3 538,215.4 538.1,215.4 538.6,215.5 538.7,215.4 539.9,215.5" fill="none" stroke="#333" stroke-width="0.75" stroke-linejoin="round" />
<text x="395.3" y="131.7" font-family="&quot;Liberation Sans&quot;, sans-serif" font-size="4.5" font-weight="normal" text-anchor="middle" fill="#111" textLength="2.34" lengthAdjust="spacingAndGlyphs" >C</text>
<text x="396.3" y="139.8" font-family="&quot;Liberation Sans&quot;, sans-serif" font-size="4.5" font-weight="normal" text-anchor="middle" fill="#111" textLength="4.14" lengthAdjust="spacingAndGlyphs" >Ca</text>
<text x="394.8" y="160" font-family="&quot;Liberation Sans&quot;, sans-serif" font-size="4.5" font-weight="normal" text-anchor="middle" fill="#111" textLength="3.06" lengthAdjust="spacingAndGlyphs" >Cl</text>
<text x="399.5" y="205.5" font-family="&quot;Liberation Sans&quot;, sans-serif" font-size="4.5" font-weight="normal" text-anchor="middle" fill="#111" textLength="2.52" lengthAdjust="spacingAndGlyphs" >O</text>
<text x="401.8" y="211.6" font-family="&quot;Liberation Sans&quot;, sans-serif" font-size="4.5" font-weight="normal" text-anchor="middle" fill="#111" textLength="3.78" lengthAdjust="spacingAndGlyphs" >Fe</text>
<text x="410" y="210" font-family="&quot;Liberation Sans&quot;, sans-serif" font-size="4.5" font-weight="normal" text-anchor="middle" fill="#111" textLength="4.5" lengthAdjust="spacingAndGlyphs" >Mg</text>
<text x="414" y="204.9" font-family="&quot;Liberation Sans&quot;, sans-serif" font-size="4.5" font-weight="normal" text-anchor="middle" fill="#111" textLength="2.88" lengthAdjust="spacingAndGlyphs" >Al</text>
<text x="417.5" y="199.3" font-family="&quot;Liberation Sans&quot;, sans-serif" font-size="4.5" font-weight="normal" text-anchor="middle" fill="#111" textLength="2.88" lengthAdjust="spacingAndGlyphs" >Si</text>
<text x="423" y="202.3" font-family="&quot;Liberation Sans&quot;, sans-serif" font-size="4.5" font-weight="normal" text-anchor="middle" fill="#111" textLength="2.16" lengthAdjust="spacingAndGlyphs" >P</text>
<text x="429" y="200.8" font-family="&quot;Liberation Sans&quot;, sans-serif" font-size="4.5" font-weight="normal" text-anchor="middle" fill="#111" textLength="3.96" lengthAdjust="spacingAndGlyphs" >Ag</text>
<text x="436" y="196.5" font-family="&quot;Liberation Sans&quot;, sans-serif" font-size="4.5" font-weight="normal" text-anchor="middle" fill="#111" textLength="3.96" lengthAdjust="spacingAndGlyphs" >Ag</text>
<text x="430" y="208.9" font-family="&quot;Liberation Sans&quot;, sans-serif" font-size="4.5" font-weight="normal" text-anchor="middle" fill="#111" textLength="3.06" lengthAdjust="spacingAndGlyphs" >Cl</text>
<text x="446.5" y="197.7" font-family="&quot;Liberation Sans&quot;, sans-serif" font-size="4.5" font-weight="normal" text-anchor="middle" fill="#111" textLength="4.14" lengthAdjust="spacingAndGlyphs" >Ca</text>
<text x="451.5" y="210.5" font-family="&quot;Liberation Sans&quot;, sans-serif" font-size="4.5" font-weight="normal" text-anchor="middle" fill="#111" textLength="4.14" lengthAdjust="spacingAndGlyphs" >Ca</text>
<text x="486" y="212.3" font-family="&quot;Liberation Sans&quot;, sans-serif" font-size="4.5" font-weight="normal" text-anchor="middle" fill="#111" textLength="3.78" lengthAdjust="spacingAndGlyphs" >Fe</text>
<text x="496" y="212.3" font-family="&quot;Liberation Sans&quot;, sans-serif" font-size="4.5" font-weight="normal" text-anchor="middle" fill="#111" textLength="3.78" lengthAdjust="spacingAndGlyphs" >Fe</text>
<rect x="392.5" y="237.5" width="152" height="112" fill="#fff" stroke="#6a6a6a" stroke-width="1.2" />
<rect x="392.5" y="332.3" width="152" height="1.5" fill="#6a6a6a" stroke="none" stroke-width="1" />
<rect x="392.5" y="333.8" width="152" height="1.2" fill="#dcdcdc" stroke="none" stroke-width="1" />
<line x1="392.4" y1="333.8" x2="392.4" y2="336.4" stroke="#777" stroke-width="0.4" />
<text x="392.4" y="340.7" font-family="&quot;Liberation Sans&quot;, sans-serif" font-size="5.1" font-weight="normal" text-anchor="middle" fill="#222" >0</text>
<line x1="393.89" y1="333.8" x2="393.89" y2="334.9" stroke="#777" stroke-width="0.4" />
<line x1="395.38" y1="333.8" x2="395.38" y2="334.9" stroke="#777" stroke-width="0.4" />
<line x1="396.87" y1="333.8" x2="396.87" y2="334.9" stroke="#777" stroke-width="0.4" />
<line x1="398.36" y1="333.8" x2="398.36" y2="334.9" stroke="#777" stroke-width="0.4" />
<line x1="399.85" y1="333.8" x2="399.85" y2="335.6" stroke="#777" stroke-width="0.4" />
<line x1="401.34" y1="333.8" x2="401.34" y2="334.9" stroke="#777" stroke-width="0.4" />
<line x1="402.83" y1="333.8" x2="402.83" y2="334.9" stroke="#777" stroke-width="0.4" />
<line x1="404.32" y1="333.8" x2="404.32" y2="334.9" stroke="#777" stroke-width="0.4" />
<line x1="405.81" y1="333.8" x2="405.81" y2="334.9" stroke="#777" stroke-width="0.4" />
<line x1="407.3" y1="333.8" x2="407.3" y2="336.4" stroke="#777" stroke-width="0.4" />
<text x="407.3" y="340.7" font-family="&quot;Liberation Sans&quot;, sans-serif" font-size="5.1" font-weight="normal" text-anchor="middle" fill="#222" >1</text>
<line x1="408.79" y1="333.8" x2="408.79" y2="334.9" stroke="#777" stroke-width="0.4" />
<line x1="410.28" y1="333.8" x2="410.28" y2="334.9" stroke="#777" stroke-width="0.4" />
<line x1="411.77" y1="333.8" x2="411.77" y2="334.9" stroke="#777" stroke-width="0.4" />
<line x1="413.26" y1="333.8" x2="413.26" y2="334.9" stroke="#777" stroke-width="0.4" />
<line x1="414.75" y1="333.8" x2="414.75" y2="335.6" stroke="#777" stroke-width="0.4" />
<line x1="416.24" y1="333.8" x2="416.24" y2="334.9" stroke="#777" stroke-width="0.4" />
<line x1="417.73" y1="333.8" x2="417.73" y2="334.9" stroke="#777" stroke-width="0.4" />
<line x1="419.22" y1="333.8" x2="419.22" y2="334.9" stroke="#777" stroke-width="0.4" />
<line x1="420.71" y1="333.8" x2="420.71" y2="334.9" stroke="#777" stroke-width="0.4" />
<line x1="422.2" y1="333.8" x2="422.2" y2="336.4" stroke="#777" stroke-width="0.4" />
<text x="422.2" y="340.7" font-family="&quot;Liberation Sans&quot;, sans-serif" font-size="5.1" font-weight="normal" text-anchor="middle" fill="#222" >2</text>
<line x1="423.69" y1="333.8" x2="423.69" y2="334.9" stroke="#777" stroke-width="0.4" />
<line x1="425.18" y1="333.8" x2="425.18" y2="334.9" stroke="#777" stroke-width="0.4" />
<line x1="426.67" y1="333.8" x2="426.67" y2="334.9" stroke="#777" stroke-width="0.4" />
<line x1="428.16" y1="333.8" x2="428.16" y2="334.9" stroke="#777" stroke-width="0.4" />
<line x1="429.65" y1="333.8" x2="429.65" y2="335.6" stroke="#777" stroke-width="0.4" />
<line x1="431.14" y1="333.8" x2="431.14" y2="334.9" stroke="#777" stroke-width="0.4" />
<line x1="432.63" y1="333.8" x2="432.63" y2="334.9" stroke="#777" stroke-width="0.4" />
<line x1="434.12" y1="333.8" x2="434.12" y2="334.9" stroke="#777" stroke-width="0.4" />
<line x1="435.61" y1="333.8" x2="435.61" y2="334.9" stroke="#777" stroke-width="0.4" />
<line x1="437.1" y1="333.8" x2="437.1" y2="336.4" stroke="#777" stroke-width="0.4" />
<text x="437.1" y="340.7" font-family="&quot;Liberation Sans&quot;, sans-serif" font-size="5.1" font-weight="normal" text-anchor="middle" fill="#222" >3</text>
<line x1="438.59" y1="333.8" x2="438.59" y2="334.9" stroke="#777" stroke-width="0.4" />
<line x1="440.08" y1="333.8" x2="440.08" y2="334.9" stroke="#777" stroke-width="0.4" />
<line x1="441.57" y1="333.8" x2="441.57" y2="334.9" stroke="#777" stroke-width="0.4" />
<line x1="443.06" y1="333.8" x2="443.06" y2="334.9" stroke="#777" stroke-width="0.4" />
<line x1="444.55" y1="333.8" x2="444.55" y2="335.6" stroke="#777" stroke-width="0.4" />
<line x1="446.04" y1="333.8" x2="446.04" y2="334.9" stroke="#777" stroke-width="0.4" />
<line x1="447.53" y1="333.8" x2="447.53" y2="334.9" stroke="#777" stroke-width="0.4" />
<line x1="449.02" y1="333.8" x2="449.02" y2="334.9" stroke="#777" stroke-width="0.4" />
<line x1="450.51" y1="333.8" x2="450.51" y2="334.9" stroke="#777" stroke-width="0.4" />
<line x1="452" y1="333.8" x2="452" y2="336.4" stroke="#777" stroke-width="0.4" />
<text x="452" y="340.7" font-family="&quot;Liberation Sans&quot;, sans-serif" font-size="5.1" font-weight="normal" text-anchor="middle" fill="#222" >4</text>
<line x1="453.49" y1="333.8" x2="453.49" y2="334.9" stroke="#777" stroke-width="0.4" />
<line x1="454.98" y1="333.8" x2="454.98" y2="334.9" stroke="#777" stroke-width="0.4" />
<line x1="456.47" y1="333.8" x2="456.47" y2="334.9" stroke="#777" stroke-width="0.4" />
<line x1="457.96" y1="333.8" x2="457.96" y2="334.9" stroke="#777" stroke-width="0.4" />
<line x1="459.45" y1="333.8" x2="459.45" y2="335.6" stroke="#777" stroke-width="0.4" />
<line x1="460.94" y1="333.8" x2="460.94" y2="334.9" stroke="#777" stroke-width="0.4" />
<line x1="462.43" y1="333.8" x2="462.43" y2="334.9" stroke="#777" stroke-width="0.4" />
<line x1="463.92" y1="333.8" x2="463.92" y2="334.9" stroke="#777" stroke-width="0.4" />
<line x1="465.41" y1="333.8" x2="465.41" y2="334.9" stroke="#777" stroke-width="0.4" />
<line x1="466.9" y1="333.8" x2="466.9" y2="336.4" stroke="#777" stroke-width="0.4" />
<text x="466.9" y="340.7" font-family="&quot;Liberation Sans&quot;, sans-serif" font-size="5.1" font-weight="normal" text-anchor="middle" fill="#222" >5</text>
<line x1="468.39" y1="333.8" x2="468.39" y2="334.9" stroke="#777" stroke-width="0.4" />
<line x1="469.88" y1="333.8" x2="469.88" y2="334.9" stroke="#777" stroke-width="0.4" />
<line x1="471.37" y1="333.8" x2="471.37" y2="334.9" stroke="#777" stroke-width="0.4" />
<line x1="472.86" y1="333.8" x2="472.86" y2="334.9" stroke="#777" stroke-width="0.4" />
<line x1="474.35" y1="333.8" x2="474.35" y2="335.6" stroke="#777" stroke-width="0.4" />
<line x1="475.84" y1="333.8" x2="475.84" y2="334.9" stroke="#777" stroke-width="0.4" />
<line x1="477.33" y1="333.8" x2="477.33" y2="334.9" stroke="#777" stroke-width="0.4" />
<line x1="478.82" y1="333.8" x2="478.82" y2="334.9" stroke="#777" stroke-width="0.4" />
<line x1="480.31" y1="333.8" x2="480.31" y2="334.9" stroke="#777" stroke-width="0.4" />
<line x1="481.8" y1="333.8" x2="481.8" y2="336.4" stroke="#777" stroke-width="0.4" />
<text x="481.8" y="340.7" font-family="&quot;Liberation Sans&quot;, sans-serif" font-size="5.1" font-weight="normal" text-anchor="middle" fill="#222" >6</text>
<line x1="483.29" y1="333.8" x2="483.29" y2="334.9" stroke="#777" stroke-width="0.4" />
<line x1="484.78" y1="333.8" x2="484.78" y2="334.9" stroke="#777" stroke-width="0.4" />
<line x1="486.27" y1="333.8" x2="486.27" y2="334.9" stroke="#777" stroke-width="0.4" />
<line x1="487.76" y1="333.8" x2="487.76" y2="334.9" stroke="#777" stroke-width="0.4" />
<line x1="489.25" y1="333.8" x2="489.25" y2="335.6" stroke="#777" stroke-width="0.4" />
<line x1="490.74" y1="333.8" x2="490.74" y2="334.9" stroke="#777" stroke-width="0.4" />
<line x1="492.23" y1="333.8" x2="492.23" y2="334.9" stroke="#777" stroke-width="0.4" />
<line x1="493.72" y1="333.8" x2="493.72" y2="334.9" stroke="#777" stroke-width="0.4" />
<line x1="495.21" y1="333.8" x2="495.21" y2="334.9" stroke="#777" stroke-width="0.4" />
<line x1="496.7" y1="333.8" x2="496.7" y2="336.4" stroke="#777" stroke-width="0.4" />
<text x="496.7" y="340.7" font-family="&quot;Liberation Sans&quot;, sans-serif" font-size="5.1" font-weight="normal" text-anchor="middle" fill="#222" >7</text>
<line x1="498.19" y1="333.8" x2="498.19" y2="334.9" stroke="#777" stroke-width="0.4" />
<line x1="499.68" y1="333.8" x2="499.68" y2="334.9" stroke="#777" stroke-width="0.4" />
<line x1="501.17" y1="333.8" x2="501.17" y2="334.9" stroke="#777" stroke-width="0.4" />
<line x1="502.66" y1="333.8" x2="502.66" y2="334.9" stroke="#777" stroke-width="0.4" />
<line x1="504.15" y1="333.8" x2="504.15" y2="335.6" stroke="#777" stroke-width="0.4" />
<line x1="505.64" y1="333.8" x2="505.64" y2="334.9" stroke="#777" stroke-width="0.4" />
<line x1="507.13" y1="333.8" x2="507.13" y2="334.9" stroke="#777" stroke-width="0.4" />
<line x1="508.62" y1="333.8" x2="508.62" y2="334.9" stroke="#777" stroke-width="0.4" />
<line x1="510.11" y1="333.8" x2="510.11" y2="334.9" stroke="#777" stroke-width="0.4" />
<line x1="511.6" y1="333.8" x2="511.6" y2="336.4" stroke="#777" stroke-width="0.4" />
<text x="511.6" y="340.7" font-family="&quot;Liberation Sans&quot;, sans-serif" font-size="5.1" font-weight="normal" text-anchor="middle" fill="#222" >8</text>
<line x1="513.09" y1="333.8" x2="513.09" y2="334.9" stroke="#777" stroke-width="0.4" />
<line x1="514.58" y1="333.8" x2="514.58" y2="334.9" stroke="#777" stroke-width="0.4" />
<line x1="516.07" y1="333.8" x2="516.07" y2="334.9" stroke="#777" stroke-width="0.4" />
<line x1="517.56" y1="333.8" x2="517.56" y2="334.9" stroke="#777" stroke-width="0.4" />
<line x1="519.05" y1="333.8" x2="519.05" y2="335.6" stroke="#777" stroke-width="0.4" />
<line x1="520.54" y1="333.8" x2="520.54" y2="334.9" stroke="#777" stroke-width="0.4" />
<line x1="522.03" y1="333.8" x2="522.03" y2="334.9" stroke="#777" stroke-width="0.4" />
<line x1="523.52" y1="333.8" x2="523.52" y2="334.9" stroke="#777" stroke-width="0.4" />
<line x1="525.01" y1="333.8" x2="525.01" y2="334.9" stroke="#777" stroke-width="0.4" />
<line x1="526.5" y1="333.8" x2="526.5" y2="336.4" stroke="#777" stroke-width="0.4" />
<text x="526.5" y="340.7" font-family="&quot;Liberation Sans&quot;, sans-serif" font-size="5.1" font-weight="normal" text-anchor="middle" fill="#222" >9</text>
<line x1="527.99" y1="333.8" x2="527.99" y2="334.9" stroke="#777" stroke-width="0.4" />
<line x1="529.48" y1="333.8" x2="529.48" y2="334.9" stroke="#777" stroke-width="0.4" />
<line x1="530.97" y1="333.8" x2="530.97" y2="334.9" stroke="#777" stroke-width="0.4" />
<line x1="532.46" y1="333.8" x2="532.46" y2="334.9" stroke="#777" stroke-width="0.4" />
<line x1="533.95" y1="333.8" x2="533.95" y2="335.6" stroke="#777" stroke-width="0.4" />
<line x1="535.44" y1="333.8" x2="535.44" y2="334.9" stroke="#777" stroke-width="0.4" />
<line x1="536.93" y1="333.8" x2="536.93" y2="334.9" stroke="#777" stroke-width="0.4" />
<line x1="538.42" y1="333.8" x2="538.42" y2="334.9" stroke="#777" stroke-width="0.4" />
<line x1="539.91" y1="333.8" x2="539.91" y2="334.9" stroke="#777" stroke-width="0.4" />
<line x1="541.4" y1="333.8" x2="541.4" y2="336.4" stroke="#777" stroke-width="0.4" />
<text x="541.4" y="340.7" font-family="&quot;Liberation Sans&quot;, sans-serif" font-size="5.1" font-weight="normal" text-anchor="middle" fill="#222" textLength="3.9" lengthAdjust="spacingAndGlyphs" >10</text>
<text x="543.5" y="346.9" font-family="&quot;Liberation Sans&quot;, sans-serif" font-size="4.3" font-weight="normal" text-anchor="end" fill="#333" textLength="4.8" lengthAdjust="spacingAndGlyphs" >keV</text>
<text x="392.8" y="347.7" font-family="&quot;Liberation Sans&quot;, sans-serif" font-size="5.7" font-weight="normal" text-anchor="start" fill="#111" textLength="70.8" lengthAdjust="spacingAndGlyphs" >Full Scale 7381 cts  Cursor: -0.052 keV (224 cts)</text>
<text x="543.6" y="242.4" font-family="&quot;Liberation Sans&quot;, sans-serif" font-size="4.6" font-weight="normal" text-anchor="end" fill="#1a1a1a" textLength="17.6" lengthAdjust="spacingAndGlyphs" >Spectrum 3</text>
<text x="530.45" y="257.3" font-family="&quot;Liberation Serif&quot;, serif" font-size="13.3" font-weight="bold" text-anchor="start" fill="#000" textLength="7.7" lengthAdjust="spacingAndGlyphs" >i)</text>
<path d="M392.4,325.3 392.5,323.2 392.7,321.2 392.8,319.9 393,319.6 393.1,320 393.3,321.3 393.4,323.2 393.6,325.3 393.7,327.1 393.9,328.6 394,330 394.2,330.6 394.3,331 394.5,331.3 394.6,330 394.8,329.8 395.1,328.6 395.2,327.6 395.4,326 395.5,323.6 395.7,320.8 395.8,317.3 396.1,309.2 396.3,305.4 396.4,302 396.6,299.8 396.7,298.9 396.9,299.8 397,302.1 397.2,305.3 397.3,309.1 397.6,317.4 397.8,320.8 397.9,323.5 398.1,325.8 398.2,327.3 398.4,328.3 398.5,328.8 398.7,329.2 398.8,329.2 399,329 399.3,328.1 399.4,327.6 399.7,325.7 399.8,324.8 400,323.6 400.1,322.7 400.3,321.9 400.6,321.2 400.7,321.6 401,322.6 401.2,323.6 401.3,324.7 401.6,326.6 401.9,328.1 402.2,329.1 402.8,329.7 403,329.6 403.4,329.8 403.6,329.6 403.7,329.8 404,329.6 404.2,329.7 404.5,329.5 404.6,329.7 404.8,329.6 405.1,329.6 405.2,329.7 405.4,329.7 405.5,329.4 405.7,329.6 406,329.5 406.1,329.6 406.3,329.5 406.4,329.5 406.6,329.6 406.7,329.5 407,329.5 407.2,329.6 407.4,329.5 407.7,329.3 407.9,329.5 408,329.4 408.3,329.5 408.5,329.3 408.8,329.2 408.9,329.4 409.1,329.1 409.2,329 409.4,329.1 409.5,329 409.7,328.7 409.8,328.8 410.1,328.4 410.3,328.1 410.4,328.2 410.6,327.9 410.7,327.9 410.9,327.9 411,327.9 411.2,327.9 411.3,327.7 411.6,328 411.8,328 411.9,328.5 412.1,328.4 412.5,328.8 412.7,329 413.1,329.1 413.3,329 413.6,329.2 413.9,329.2 414,329.1 414.3,329 414.5,329.1 414.9,329.1 415.2,329.1 415.3,329.2 415.5,329 415.6,329.2 415.9,328.9 416.2,328.9 416.5,328.7 416.8,328.4 417,328.3 417.1,327.9 417.3,327.8 417.6,327.3 417.7,327 417.9,326.9 418,326.6 418.2,326.6 418.3,326.2 418.6,326.4 418.8,326.2 418.9,326.4 419.1,326.2 419.2,326.3 419.4,326 419.5,326 419.7,325.7 419.8,325.4 420,325 420.4,324 420.6,323.8 420.7,324 420.9,323.9 421,324.3 421.2,324.4 421.5,325.2 421.6,325.8 421.8,326.3 421.9,326.5 422.1,326.8 422.2,326.8 422.3,326.9 422.5,326.7 422.8,325.8 422.9,325.5 423.1,324.7 423.2,324.4 423.4,323.6 423.5,323.1 423.8,322.5 424.1,322.5 424.3,322.9 424.4,323.2 424.6,323.9 424.7,324.3 424.9,325.1 425,325.8 425.3,326.7 425.5,327.3 425.6,327.8 425.8,327.9 425.9,328.2 426.1,328.2 426.2,328.3 426.4,328.4 426.7,328 426.8,327.5 427,327.3 427.1,326.6 427.3,326.4 427.6,325.3 427.7,324.6 427.9,324.1 428,323.8 428.3,323.5 428.5,323.7 428.6,323.7 428.9,324.7 429.2,325.6 429.6,326.8 429.8,327.2 429.9,327.3 430.1,327.1 430.2,327.3 430.4,326.8 430.7,326.6 430.8,326.2 431,326.1 431.3,325.5 431.7,325.8 431.9,326.2 432,326.3 432.2,326.8 432.5,327.3 432.6,327.8 432.8,328 432.9,328.4 433.1,328.7 433.4,328.9 433.5,328.9 433.7,329.1 433.8,329 434,329.3 434.1,329.1 434.3,329.3 434.6,329.3 434.7,329.4 434.9,329.2 435,329.2 435.2,329.5 435.3,329.3 435.5,329.5 435.6,329.5 435.9,329.3 436.1,329.3 436.2,329.5 436.4,329.3 436.5,329.4 436.7,329.4 436.8,329.3 437,329.4 437.1,329.3 437.2,329.5 437.7,329.4 437.8,329.5 438.1,329.4 438.3,329.4 438.4,329.6 438.6,329.5 438.7,329.7 438.9,329.4 439,329.7 439.2,329.6 439.3,329.7 439.5,329.6 439.6,329.7 439.8,329.5 439.9,329.7 440.1,329.5 440.2,329.6 440.4,329.5 440.7,329.7 440.8,329.6 441,329.8 441.1,329.6 441.3,329.7 441.4,329.7 441.7,329.8 441.9,329.8 442,329.6 442.5,329.9 442.6,329.7 442.8,329.9 443.1,329.9 443.2,329.8 443.4,329.9 443.5,329.8 443.7,330 443.8,329.7 444,329.9 444.3,329.5 444.5,328.8 444.7,328.4 444.8,327.6 445,326.2 445.1,324.7 445.3,322.5 445.4,319.8 445.6,316.3 445.7,312.1 445.9,307.2 446,301.4 446.2,295 446.5,281.1 446.6,274.4 446.8,268.2 446.9,262.8 447.1,258.6 447.2,255.9 447.4,255.2 447.5,256.1 447.7,258.7 447.8,262.6 448,268.2 448.1,274.4 448.3,281.1 448.4,288.3 448.6,295.1 448.7,301.5 448.9,307.1 449,312.4 449.2,316.7 449.3,320.1 449.5,322.8 449.6,324.9 449.8,326.3 449.9,327.3 450.1,327.8 450.2,328.2 450.4,328.1 450.5,327.9 450.7,327.3 450.8,326.9 451,326.1 451.1,325.4 451.3,324.4 451.4,323.8 451.7,322.3 451.9,322 452,321.5 452.1,321.4 452.4,321.8 452.6,322.4 452.9,323.9 453.2,325.4 453.3,326.4 453.5,327.2 453.8,328.5 453.9,329 454.2,329.6 454.4,330 454.5,330.3 454.7,330.3 455,330.6 455.1,330.6 455.3,330.4 455.4,330.6 455.6,330.5 455.7,330.5 455.9,330.8 456,330.7 456.2,330.7 456.6,330.6 456.8,330.7 456.9,330.8 457.4,330.6 457.7,330.8 457.8,330.8 458.1,330.9 458.3,330.7 458.4,330.9 458.6,330.7 458.7,330.9 458.9,330.7 459,330.8 459.2,331 459.3,330.8 459.4,330.8 459.6,331 459.7,330.9 459.9,331 460,330.8 460.2,330.9 460.3,331 460.5,330.9 460.6,331.1 460.8,330.8 460.9,331 461.1,330.8 461.2,330.9 461.4,330.8 461.5,330.8 461.7,331.1 461.8,330.9 462,331.1 462.1,330.9 462.3,330.9 462.4,330.9 462.7,331.1 463,331 463.2,331.1 463.5,331.1 463.6,330.9 463.8,331.1 463.9,331 464.1,331.2 464.2,331 464.5,331.1 464.7,331 465.1,331.2 465.4,331.1 465.6,331.2 465.7,331 465.9,331.2 466.3,331.1 466.6,331.3 466.9,331.2 467,331 467.2,331.1 467.3,331 467.5,331.3 467.6,331.3 467.8,331.1 467.9,331.2 468.1,331.2 468.2,331 468.5,331.3 468.8,331.1 469,331.3 469.1,331.1 469.3,331.2 469.4,331.2 469.6,331.4 469.7,331.3 470,331.3 470.2,331.2 470.3,331.4 470.6,331.3 470.9,331.2 471.2,331.4 471.4,331.4 471.7,331.2 472,331.4 472.1,331.2 472.3,331.4 472.4,331.2 472.6,331.2 472.7,331.2 473,331.3 473.2,331.4 473.3,331.4 473.5,331.2 473.6,331.3 473.8,331.4 473.9,331.2 474.2,331.3 474.3,331.2 474.8,331.3 474.9,331.5 475.1,331.3 475.2,331.3 475.4,331.5 475.5,331.3 475.7,331.4 475.8,331.4 476,331.4 476.3,331.3 476.4,331.4 476.6,331.4 477,331.4 477.2,331.3 477.3,331.3 477.5,331.5 477.8,331.3 477.9,331.4 478.1,331.3 478.2,331.5 478.4,331.3 478.5,331.5 478.8,331.4 479,331.5 479.1,331.3 479.4,331.3 479.7,331.5 480,331.4 480.2,331.5 480.3,331.3 480.8,331.6 480.9,331.5 481.2,331.5 481.4,331.4 481.5,331.6 481.8,331.4 481.9,331.4 482.1,331.5 482.4,331.3 482.5,331.6 482.8,331.5 483.1,331.6 483.3,331.3 483.4,331.4 483.6,331.3 484,331.6 484.5,331.4 484.6,331.5 484.8,331.4 484.9,331.6 485.2,331.6 485.4,331.4 485.5,331.5 485.7,331.6 485.8,331.5 486,331.6 486.6,331.5 486.7,331.6 486.9,331.4 487,331.5 487.3,331.5 487.6,331.4 487.9,331.6 488.1,331.4 488.5,331.4 488.8,331.6 489.1,331.5 489.2,331.6 489.4,331.4 489.5,331.6 489.8,331.4 490,331.5 490.1,331.4 490.3,331.4 490.4,331.4 490.9,331.6 491,331.4 491.2,331.6 491.3,331.4 491.6,331.6 491.9,331.5 492.1,331.5 492.2,331.4 492.4,331.6 492.5,331.4 492.7,331.6 493,331.5 493.1,331.4 493.3,331.6 493.4,331.4 493.6,331.5 493.9,331.4 494,331.6 494.3,331.6 494.6,331.5 494.8,331.6 494.9,331.5 495.1,331.7 495.5,331.7 495.7,331.5 495.8,331.7 496,331.4 496.1,331.5 496.3,331.4 496.7,331.6 497.1,331.5 497.4,331.5 497.6,331.5 497.7,331.6 498.2,331.5 498.3,331.6 498.5,331.5 499.1,331.7 499.2,331.6 499.5,331.7 499.8,331.6 500,331.4 500.1,331.5 500.3,331.4 500.4,331.7 500.9,331.5 501.2,331.5 501.5,331.7 501.6,331.5 501.8,331.4 502.1,331.5 502.2,331.7 502.5,331.6 502.7,331.5 503,331.5 503.1,331.7 503.3,331.6 503.4,331.7 503.9,331.6 504,331.7 504.1,331.5 504.3,331.5 504.4,331.6 505,331.5 505.2,331.7 505.3,331.7 505.6,331.8 505.8,331.6 505.9,331.7 506.1,331.6 506.2,331.7 506.4,331.7 506.5,331.5 506.8,331.5 507,331.6 507.3,331.5 507.4,331.7 507.7,331.6 507.9,331.5 508,331.7 508.3,331.5 508.8,331.7 508.9,331.6 509.1,331.7 509.2,331.5 509.4,331.6 509.5,331.8 509.8,331.5 510,331.7 510.1,331.5 510.9,331.7 511.2,331.5 511.3,331.7 511.5,331.5 511.6,331.6 511.7,331.6 512,331.7 512.2,331.6 512.3,331.7 512.6,331.6 512.8,331.5 512.9,331.8 513.2,331.5 513.4,331.6 513.5,331.8 513.7,331.6 514.1,331.8 514.4,331.7 514.6,331.5 514.7,331.5 514.9,331.8 515,331.7 515.2,331.5 515.5,331.6 515.6,331.8 515.8,331.6 516.1,331.8 516.2,331.7 516.4,331.8 516.5,331.6 516.8,331.5 517,331.7 517.1,331.6 517.3,331.8 517.6,331.6 517.7,331.8 517.9,331.6 518,331.7 518.2,331.6 518.3,331.8 518.6,331.8 518.8,331.5 518.9,331.8 519,331.7 519.2,331.8 519.3,331.7 519.8,331.8 519.9,331.6 520.1,331.6 520.2,331.7 520.4,331.6 520.5,331.7 520.7,331.5 520.8,331.8 521,331.5 521.1,331.8 521.3,331.8 521.6,331.6 521.7,331.7 521.9,331.6 522,331.7 522.2,331.6 522.3,331.8 522.8,331.6 522.9,331.8 523.2,331.8 523.4,331.6 523.7,331.6 523.8,331.8 524,331.6 524.3,331.8 524.4,331.8 524.6,331.6 524.9,331.6 525,331.8 525.6,331.7 526.1,331.8 526.4,331.7 526.8,331.6 526.9,331.4 527.1,331.6 527.2,331.6 527.4,331.4 527.5,331.5 527.7,331.2 527.8,331.4 528,331.2 528.1,331.3 528.3,331.1 528.7,331 528.9,330.9 529.2,331.1 529.3,331 529.5,331.1 529.8,331.1 529.9,331.1 530.2,331 530.5,331.1 530.7,331 530.8,331.1 531,331.4 531.1,331.4 531.3,331.3 531.4,331.5 531.9,331.6 532.2,331.5 532.3,331.7 532.5,331.6 532.6,331.7 532.8,331.6 533.1,331.8 533.2,331.6 533.5,331.7 533.7,331.7 533.8,331.8 533.9,331.6 534.1,331.7 534.2,331.6 534.4,331.7 534.5,331.4 534.8,331.3 535,331.5 535.1,331.1 535.6,331.2 535.7,330.9 536.2,330.9 536.5,330.9 536.6,330.7 536.9,330.6 537.1,330.8 537.2,330.7 537.4,330.8 537.5,331 537.8,331 538.3,331.2 538.6,331.1 538.9,331.2 539,331.4 539.3,331.4 539.6,331.7 539.9,331.6 540.1,331.8 540.2,331.6 540.7,331.7 540.8,331.8 541,331.8 541.1,331.8 541.3,331.7 541.4,331.9" fill="none" stroke="#333" stroke-width="0.75" stroke-linejoin="round" />
<text x="396.5" y="289.9" font-family="&quot;Liberation Sans&quot;, sans-serif" font-size="4.5" font-weight="normal" text-anchor="middle" fill="#111" textLength="2.34" lengthAdjust="spacingAndGlyphs" >C</text>
<text x="397" y="297.5" font-family="&quot;Liberation Sans&quot;, sans-serif" font-size="4.5" font-weight="normal" text-anchor="middle" fill="#111" textLength="4.14" lengthAdjust="spacingAndGlyphs" >Ca</text>
<text x="394.2" y="308.2" font-family="&quot;Liberation Sans&quot;, sans-serif" font-size="4.5" font-weight="normal" text-anchor="middle" fill="#111" textLength="3.06" lengthAdjust="spacingAndGlyphs" >Cl</text>
<text x="400.6" y="319.1" font-family="&quot;Liberation Sans&quot;, sans-serif" font-size="4.5" font-weight="normal" text-anchor="middle" fill="#111" textLength="2.52" lengthAdjust="spacingAndGlyphs" >O</text>
<text x="410.7" y="326.3" font-family="&quot;Liberation Sans&quot;, sans-serif" font-size="4.5" font-weight="normal" text-anchor="middle" fill="#111" textLength="4.5" lengthAdjust="spacingAndGlyphs" >Mg</text>
<text x="418.5" y="315.8" font-family="&quot;Liberation Sans&quot;, sans-serif" font-size="4.5" font-weight="normal" text-anchor="middle" fill="#111" textLength="2.88" lengthAdjust="spacingAndGlyphs" >Si</text>
<text x="419.5" y="324.6" font-family="&quot;Liberation Sans&quot;, sans-serif" font-size="4.5" font-weight="normal" text-anchor="middle" fill="#111" textLength="3.96" lengthAdjust="spacingAndGlyphs" >Pb</text>
<text x="427.5" y="313.2" font-family="&quot;Liberation Sans&quot;, sans-serif" font-size="4.5" font-weight="normal" text-anchor="middle" fill="#111" textLength="3.96" lengthAdjust="spacingAndGlyphs" >Pb</text>
<text x="432" y="318.2" font-family="&quot;Liberation Sans&quot;, sans-serif" font-size="4.5" font-weight="normal" text-anchor="middle" fill="#111" textLength="3.96" lengthAdjust="spacingAndGlyphs" >Pb</text>
<text x="432.5" y="326.3" font-family="&quot;Liberation Sans&quot;, sans-serif" font-size="4.5" font-weight="normal" text-anchor="middle" fill="#111" textLength="3.06" lengthAdjust="spacingAndGlyphs" >Cl</text>
<text x="447.3" y="252.5" font-family="&quot;Liberation Sans&quot;, sans-serif" font-size="4.5" font-weight="normal" text-anchor="middle" fill="#111" textLength="4.14" lengthAdjust="spacingAndGlyphs" >Ca</text>
<text x="452.5" y="319.6" font-family="&quot;Liberation Sans&quot;, sans-serif" font-size="4.5" font-weight="normal" text-anchor="middle" fill="#111" textLength="4.14" lengthAdjust="spacingAndGlyphs" >Ca</text>
<text x="528.9" y="330.5" font-family="&quot;Liberation Sans&quot;, sans-serif" font-size="4.5" font-weight="normal" text-anchor="middle" fill="#111" textLength="3.96" lengthAdjust="spacingAndGlyphs" >Pb</text>
</svg>
</body></html>
